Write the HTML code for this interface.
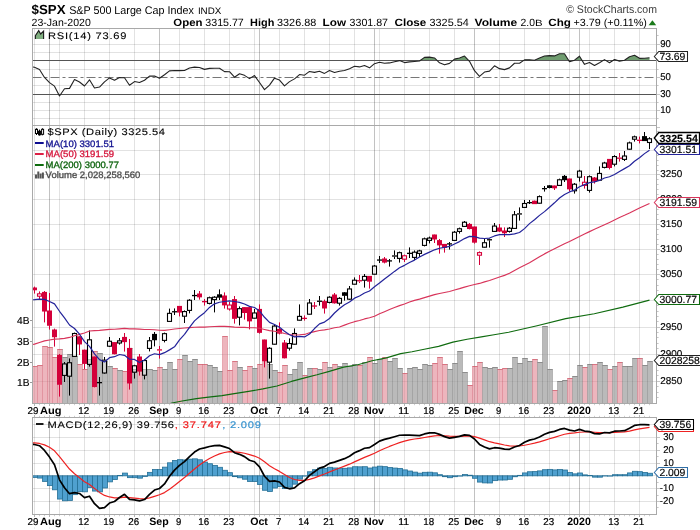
<!DOCTYPE html><html><head><meta charset="utf-8"><title>$SPX</title><style>html,body{margin:0;padding:0;background:#fff}svg{display:block;will-change:transform}text{font-family:"Liberation Sans", sans-serif;fill:#000;text-rendering:geometricPrecision}</style></head><body>
<svg width="700" height="530" viewBox="0 0 700 530">
<rect x="0" y="0" width="700" height="530" fill="#fff"/>
<line x1="34.5" y1="28.5" x2="34.5" y2="125.5" stroke="rgba(0,0,0,0.115)" stroke-width="1"/>
<line x1="49.5" y1="28.5" x2="49.5" y2="125.5" stroke="rgba(0,0,0,0.24)" stroke-width="1"/>
<line x1="59.5" y1="28.5" x2="59.5" y2="125.5" stroke="rgba(0,0,0,0.115)" stroke-width="1"/>
<line x1="84.5" y1="28.5" x2="84.5" y2="125.5" stroke="rgba(0,0,0,0.115)" stroke-width="1"/>
<line x1="109.5" y1="28.5" x2="109.5" y2="125.5" stroke="rgba(0,0,0,0.115)" stroke-width="1"/>
<line x1="134.5" y1="28.5" x2="134.5" y2="125.5" stroke="rgba(0,0,0,0.115)" stroke-width="1"/>
<line x1="159.5" y1="28.5" x2="159.5" y2="125.5" stroke="rgba(0,0,0,0.24)" stroke-width="1"/>
<line x1="179.5" y1="28.5" x2="179.5" y2="125.5" stroke="rgba(0,0,0,0.115)" stroke-width="1"/>
<line x1="204.5" y1="28.5" x2="204.5" y2="125.5" stroke="rgba(0,0,0,0.115)" stroke-width="1"/>
<line x1="229.5" y1="28.5" x2="229.5" y2="125.5" stroke="rgba(0,0,0,0.115)" stroke-width="1"/>
<line x1="254.5" y1="28.5" x2="254.5" y2="125.5" stroke="rgba(0,0,0,0.115)" stroke-width="1"/>
<line x1="259.5" y1="28.5" x2="259.5" y2="125.5" stroke="rgba(0,0,0,0.24)" stroke-width="1"/>
<line x1="279.5" y1="28.5" x2="279.5" y2="125.5" stroke="rgba(0,0,0,0.115)" stroke-width="1"/>
<line x1="304.5" y1="28.5" x2="304.5" y2="125.5" stroke="rgba(0,0,0,0.115)" stroke-width="1"/>
<line x1="329.5" y1="28.5" x2="329.5" y2="125.5" stroke="rgba(0,0,0,0.115)" stroke-width="1"/>
<line x1="354.5" y1="28.5" x2="354.5" y2="125.5" stroke="rgba(0,0,0,0.115)" stroke-width="1"/>
<line x1="374.5" y1="28.5" x2="374.5" y2="125.5" stroke="rgba(0,0,0,0.24)" stroke-width="1"/>
<line x1="379.5" y1="28.5" x2="379.5" y2="125.5" stroke="rgba(0,0,0,0.115)" stroke-width="1"/>
<line x1="404.5" y1="28.5" x2="404.5" y2="125.5" stroke="rgba(0,0,0,0.115)" stroke-width="1"/>
<line x1="429.5" y1="28.5" x2="429.5" y2="125.5" stroke="rgba(0,0,0,0.115)" stroke-width="1"/>
<line x1="454.5" y1="28.5" x2="454.5" y2="125.5" stroke="rgba(0,0,0,0.115)" stroke-width="1"/>
<line x1="474.5" y1="28.5" x2="474.5" y2="125.5" stroke="rgba(0,0,0,0.24)" stroke-width="1"/>
<line x1="499.5" y1="28.5" x2="499.5" y2="125.5" stroke="rgba(0,0,0,0.115)" stroke-width="1"/>
<line x1="524.5" y1="28.5" x2="524.5" y2="125.5" stroke="rgba(0,0,0,0.115)" stroke-width="1"/>
<line x1="549.5" y1="28.5" x2="549.5" y2="125.5" stroke="rgba(0,0,0,0.115)" stroke-width="1"/>
<line x1="569.5" y1="28.5" x2="569.5" y2="125.5" stroke="rgba(0,0,0,0.115)" stroke-width="1"/>
<line x1="579.5" y1="28.5" x2="579.5" y2="125.5" stroke="rgba(0,0,0,0.24)" stroke-width="1"/>
<line x1="589.5" y1="28.5" x2="589.5" y2="125.5" stroke="rgba(0,0,0,0.115)" stroke-width="1"/>
<line x1="614.5" y1="28.5" x2="614.5" y2="125.5" stroke="rgba(0,0,0,0.115)" stroke-width="1"/>
<line x1="639.5" y1="28.5" x2="639.5" y2="125.5" stroke="rgba(0,0,0,0.115)" stroke-width="1"/>
<line x1="32.5" y1="118.5" x2="656.5" y2="118.5" stroke="rgba(0,0,0,0.115)"/>
<line x1="32.5" y1="110.5" x2="656.5" y2="110.5" stroke="rgba(0,0,0,0.115)"/>
<line x1="32.5" y1="102.5" x2="656.5" y2="102.5" stroke="rgba(0,0,0,0.115)"/>
<line x1="32.5" y1="85.5" x2="656.5" y2="85.5" stroke="rgba(0,0,0,0.115)"/>
<line x1="32.5" y1="69.5" x2="656.5" y2="69.5" stroke="rgba(0,0,0,0.115)"/>
<line x1="32.5" y1="52.5" x2="656.5" y2="52.5" stroke="rgba(0,0,0,0.115)"/>
<line x1="32.5" y1="44.5" x2="656.5" y2="44.5" stroke="rgba(0,0,0,0.115)"/>
<polygon points="398.67,60.78 399.5,60.6 399.96,60.78" fill="#6f9c6f" stroke="none"/>
<polygon points="419.85,60.78 424.5,57.35 429.5,57.13 434.5,57.92 437.4,60.78" fill="#6f9c6f" stroke="none"/>
<polygon points="452.55,60.78 454.5,59.11 459.5,58.01 464.5,56.05 468.97,60.78" fill="#6f9c6f" stroke="none"/>
<polygon points="523.12,60.78 524.5,59.85 529.5,59.7 534.5,60.21 539.5,58.09 544.5,55.99 549.5,55.64 554.5,55.9 559.5,53.75 564.5,53.73 568.87,60.78" fill="#6f9c6f" stroke="none"/>
<polygon points="572.61,60.78 574.5,60.16 579.5,56.2 582.31,60.78" fill="#6f9c6f" stroke="none"/>
<polygon points="602.7,60.78 604.5,59.64 606.35,60.78" fill="#6f9c6f" stroke="none"/>
<polygon points="612.51,60.78 614.5,59.5 618.43,60.78" fill="#6f9c6f" stroke="none"/>
<polygon points="621.46,60.78 624.5,60.24 629.5,56.71 634.5,55.29 639.5,58.34 644.5,58.21 649.5,57.69 649.5,60.78" fill="#6f9c6f" stroke="none"/>
<line x1="32.5" y1="60.5" x2="656.5" y2="60.5" stroke="#555"/>
<line x1="32.5" y1="94.5" x2="656.5" y2="94.5" stroke="#555"/>
<line x1="32.5" y1="77.5" x2="656.5" y2="77.5" stroke="#777" stroke-dasharray="9,3,3,3"/>
<polyline fill="none" stroke="#222" stroke-width="1.1" stroke-linejoin="round" points="33,66.93 34.5,67.34 39.5,69.51 44.5,77.45 49.5,82.6 54.5,86.13 59.5,95.94 64.5,88.77 69.5,88.37 74.5,79.58 79.5,81.99 84.5,86.01 89.5,79.8 94.5,87.98 99.5,87.05 104.5,81.83 109.5,77.9 114.5,80.27 119.5,77.6 124.5,77.77 129.5,85.24 134.5,81.57 139.5,82.44 144.5,80.2 149.5,76.13 154.5,75.93 159.5,78.31 164.5,74.71 169.5,70.83 174.5,70.56 179.5,70.6 184.5,70.49 189.5,68.08 194.5,67.14 199.5,67.55 204.5,69.37 209.5,68.35 214.5,68.21 219.5,68.2 224.5,71.61 229.5,71.68 234.5,77.24 239.5,73.77 244.5,75.34 249.5,78.63 254.5,75.59 259.5,82.45 264.5,89.68 269.5,85.12 274.5,78.17 279.5,80.06 284.5,85.82 289.5,81.64 294.5,78.88 299.5,74.57 304.5,75.18 309.5,71.43 314.5,72.4 319.5,71.32 324.5,73.39 329.5,70.57 334.5,72.54 339.5,71.31 344.5,70.46 349.5,68.66 354.5,66.32 359.5,66.92 364.5,65.5 369.5,67.85 374.5,63.66 379.5,62.22 384.5,63.22 389.5,62.91 394.5,61.71 399.5,60.6 404.5,62.61 409.5,61.84 414.5,61.48 419.5,61.04 424.5,57.35 429.5,57.13 434.5,57.92 439.5,62.85 444.5,64.83 449.5,63.4 454.5,59.11 459.5,58.01 464.5,56.05 469.5,61.34 474.5,70.71 479.5,76.4 484.5,72.06 489.5,71.09 494.5,65.81 499.5,68.65 504.5,69.64 509.5,67.86 514.5,63.25 519.5,63.22 524.5,59.85 529.5,59.7 534.5,60.21 539.5,58.09 544.5,55.99 549.5,55.64 554.5,55.9 559.5,53.75 564.5,53.73 569.5,61.8 574.5,60.16 579.5,56.2 584.5,64.34 589.5,62.49 594.5,65.47 599.5,62.8 604.5,59.64 609.5,62.71 614.5,59.5 619.5,61.13 624.5,60.24 629.5,56.71 634.5,55.29 639.5,58.34 644.5,58.21 649.5,57.69"/>
<line x1="34.5" y1="125.5" x2="34.5" y2="403.5" stroke="rgba(0,0,0,0.115)" stroke-width="1"/>
<line x1="49.5" y1="125.5" x2="49.5" y2="403.5" stroke="rgba(0,0,0,0.24)" stroke-width="1"/>
<line x1="59.5" y1="125.5" x2="59.5" y2="403.5" stroke="rgba(0,0,0,0.115)" stroke-width="1"/>
<line x1="84.5" y1="125.5" x2="84.5" y2="403.5" stroke="rgba(0,0,0,0.115)" stroke-width="1"/>
<line x1="109.5" y1="125.5" x2="109.5" y2="403.5" stroke="rgba(0,0,0,0.115)" stroke-width="1"/>
<line x1="134.5" y1="125.5" x2="134.5" y2="403.5" stroke="rgba(0,0,0,0.115)" stroke-width="1"/>
<line x1="159.5" y1="125.5" x2="159.5" y2="403.5" stroke="rgba(0,0,0,0.24)" stroke-width="1"/>
<line x1="179.5" y1="125.5" x2="179.5" y2="403.5" stroke="rgba(0,0,0,0.115)" stroke-width="1"/>
<line x1="204.5" y1="125.5" x2="204.5" y2="403.5" stroke="rgba(0,0,0,0.115)" stroke-width="1"/>
<line x1="229.5" y1="125.5" x2="229.5" y2="403.5" stroke="rgba(0,0,0,0.115)" stroke-width="1"/>
<line x1="254.5" y1="125.5" x2="254.5" y2="403.5" stroke="rgba(0,0,0,0.115)" stroke-width="1"/>
<line x1="259.5" y1="125.5" x2="259.5" y2="403.5" stroke="rgba(0,0,0,0.24)" stroke-width="1"/>
<line x1="279.5" y1="125.5" x2="279.5" y2="403.5" stroke="rgba(0,0,0,0.115)" stroke-width="1"/>
<line x1="304.5" y1="125.5" x2="304.5" y2="403.5" stroke="rgba(0,0,0,0.115)" stroke-width="1"/>
<line x1="329.5" y1="125.5" x2="329.5" y2="403.5" stroke="rgba(0,0,0,0.115)" stroke-width="1"/>
<line x1="354.5" y1="125.5" x2="354.5" y2="403.5" stroke="rgba(0,0,0,0.115)" stroke-width="1"/>
<line x1="374.5" y1="125.5" x2="374.5" y2="403.5" stroke="rgba(0,0,0,0.24)" stroke-width="1"/>
<line x1="379.5" y1="125.5" x2="379.5" y2="403.5" stroke="rgba(0,0,0,0.115)" stroke-width="1"/>
<line x1="404.5" y1="125.5" x2="404.5" y2="403.5" stroke="rgba(0,0,0,0.115)" stroke-width="1"/>
<line x1="429.5" y1="125.5" x2="429.5" y2="403.5" stroke="rgba(0,0,0,0.115)" stroke-width="1"/>
<line x1="454.5" y1="125.5" x2="454.5" y2="403.5" stroke="rgba(0,0,0,0.115)" stroke-width="1"/>
<line x1="474.5" y1="125.5" x2="474.5" y2="403.5" stroke="rgba(0,0,0,0.24)" stroke-width="1"/>
<line x1="499.5" y1="125.5" x2="499.5" y2="403.5" stroke="rgba(0,0,0,0.115)" stroke-width="1"/>
<line x1="524.5" y1="125.5" x2="524.5" y2="403.5" stroke="rgba(0,0,0,0.115)" stroke-width="1"/>
<line x1="549.5" y1="125.5" x2="549.5" y2="403.5" stroke="rgba(0,0,0,0.115)" stroke-width="1"/>
<line x1="569.5" y1="125.5" x2="569.5" y2="403.5" stroke="rgba(0,0,0,0.115)" stroke-width="1"/>
<line x1="579.5" y1="125.5" x2="579.5" y2="403.5" stroke="rgba(0,0,0,0.24)" stroke-width="1"/>
<line x1="589.5" y1="125.5" x2="589.5" y2="403.5" stroke="rgba(0,0,0,0.115)" stroke-width="1"/>
<line x1="614.5" y1="125.5" x2="614.5" y2="403.5" stroke="rgba(0,0,0,0.115)" stroke-width="1"/>
<line x1="639.5" y1="125.5" x2="639.5" y2="403.5" stroke="rgba(0,0,0,0.115)" stroke-width="1"/>
<line x1="32.5" y1="150.5" x2="656.5" y2="150.5" stroke="rgba(0,0,0,0.115)"/>
<line x1="32.5" y1="174.5" x2="656.5" y2="174.5" stroke="rgba(0,0,0,0.115)"/>
<line x1="32.5" y1="199.5" x2="656.5" y2="199.5" stroke="rgba(0,0,0,0.115)"/>
<line x1="32.5" y1="224.5" x2="656.5" y2="224.5" stroke="rgba(0,0,0,0.115)"/>
<line x1="32.5" y1="249.5" x2="656.5" y2="249.5" stroke="rgba(0,0,0,0.115)"/>
<line x1="32.5" y1="274.5" x2="656.5" y2="274.5" stroke="rgba(0,0,0,0.115)"/>
<line x1="32.5" y1="300.5" x2="656.5" y2="300.5" stroke="rgba(0,0,0,0.115)"/>
<line x1="32.5" y1="327.5" x2="656.5" y2="327.5" stroke="rgba(0,0,0,0.115)"/>
<line x1="32.5" y1="354.5" x2="656.5" y2="354.5" stroke="rgba(0,0,0,0.115)"/>
<line x1="32.5" y1="381.5" x2="656.5" y2="381.5" stroke="rgba(0,0,0,0.115)"/>
<rect x="32.5" y="366" width="5" height="37.5" fill="rgba(222,120,135,0.55)"/>
<rect x="37.5" y="365" width="5" height="38.5" fill="rgba(222,120,135,0.55)"/>
<rect x="42.5" y="346" width="5" height="57.5" fill="rgba(222,120,135,0.55)"/>
<rect x="47.5" y="347" width="5" height="56.5" fill="rgba(222,120,135,0.55)"/>
<rect x="52.5" y="357" width="5" height="46.5" fill="rgba(222,120,135,0.55)"/>
<rect x="57.5" y="349" width="5" height="54.5" fill="rgba(222,120,135,0.55)"/>
<rect x="62.5" y="357" width="5" height="46.5" fill="rgba(160,160,160,0.72)"/>
<rect x="67.5" y="354" width="5" height="49.5" fill="rgba(160,160,160,0.72)"/>
<rect x="72.5" y="356" width="5" height="47.5" fill="rgba(160,160,160,0.72)"/>
<rect x="77.5" y="364" width="5" height="39.5" fill="rgba(222,120,135,0.55)"/>
<rect x="82.5" y="369" width="5" height="34.5" fill="rgba(222,120,135,0.55)"/>
<rect x="87.5" y="359" width="5" height="44.5" fill="rgba(160,160,160,0.72)"/>
<rect x="92.5" y="351" width="5" height="52.5" fill="rgba(222,120,135,0.55)"/>
<rect x="97.5" y="353" width="5" height="50.5" fill="rgba(160,160,160,0.72)"/>
<rect x="102.5" y="361" width="5" height="42.5" fill="rgba(160,160,160,0.72)"/>
<rect x="107.5" y="366" width="5" height="37.5" fill="rgba(160,160,160,0.72)"/>
<rect x="112.5" y="368" width="5" height="35.5" fill="rgba(222,120,135,0.55)"/>
<rect x="117.5" y="370" width="5" height="33.5" fill="rgba(160,160,160,0.72)"/>
<rect x="122.5" y="371" width="5" height="32.5" fill="rgba(222,120,135,0.55)"/>
<rect x="127.5" y="348" width="5" height="55.5" fill="rgba(222,120,135,0.55)"/>
<rect x="132.5" y="369" width="5" height="34.5" fill="rgba(160,160,160,0.72)"/>
<rect x="137.5" y="371" width="5" height="32.5" fill="rgba(222,120,135,0.55)"/>
<rect x="142.5" y="369" width="5" height="34.5" fill="rgba(160,160,160,0.72)"/>
<rect x="147.5" y="369" width="5" height="34.5" fill="rgba(160,160,160,0.72)"/>
<rect x="152.5" y="370" width="5" height="33.5" fill="rgba(160,160,160,0.72)"/>
<rect x="157.5" y="367" width="5" height="36.5" fill="rgba(222,120,135,0.55)"/>
<rect x="162.5" y="369" width="5" height="34.5" fill="rgba(160,160,160,0.72)"/>
<rect x="167.5" y="362" width="5" height="41.5" fill="rgba(160,160,160,0.72)"/>
<rect x="172.5" y="369" width="5" height="34.5" fill="rgba(160,160,160,0.72)"/>
<rect x="177.5" y="359" width="5" height="44.5" fill="rgba(222,120,135,0.55)"/>
<rect x="182.5" y="355" width="5" height="48.5" fill="rgba(160,160,160,0.72)"/>
<rect x="187.5" y="361" width="5" height="42.5" fill="rgba(160,160,160,0.72)"/>
<rect x="192.5" y="359" width="5" height="44.5" fill="rgba(160,160,160,0.72)"/>
<rect x="197.5" y="364" width="5" height="39.5" fill="rgba(222,120,135,0.55)"/>
<rect x="202.5" y="364" width="5" height="39.5" fill="rgba(222,120,135,0.55)"/>
<rect x="207.5" y="365" width="5" height="38.5" fill="rgba(160,160,160,0.72)"/>
<rect x="212.5" y="367" width="5" height="36.5" fill="rgba(160,160,160,0.72)"/>
<rect x="217.5" y="371" width="5" height="32.5" fill="rgba(160,160,160,0.72)"/>
<rect x="222.5" y="336" width="5" height="67.5" fill="rgba(222,120,135,0.55)"/>
<rect x="227.5" y="370" width="5" height="33.5" fill="rgba(222,120,135,0.55)"/>
<rect x="232.5" y="361" width="5" height="42.5" fill="rgba(222,120,135,0.55)"/>
<rect x="237.5" y="367" width="5" height="36.5" fill="rgba(160,160,160,0.72)"/>
<rect x="242.5" y="370" width="5" height="33.5" fill="rgba(222,120,135,0.55)"/>
<rect x="247.5" y="366" width="5" height="37.5" fill="rgba(222,120,135,0.55)"/>
<rect x="252.5" y="368" width="5" height="35.5" fill="rgba(160,160,160,0.72)"/>
<rect x="257.5" y="364" width="5" height="39.5" fill="rgba(222,120,135,0.55)"/>
<rect x="262.5" y="360" width="5" height="43.5" fill="rgba(222,120,135,0.55)"/>
<rect x="267.5" y="364" width="5" height="39.5" fill="rgba(160,160,160,0.72)"/>
<rect x="272.5" y="370" width="5" height="33.5" fill="rgba(160,160,160,0.72)"/>
<rect x="277.5" y="372" width="5" height="31.5" fill="rgba(222,120,135,0.55)"/>
<rect x="282.5" y="365" width="5" height="38.5" fill="rgba(222,120,135,0.55)"/>
<rect x="287.5" y="374" width="5" height="29.5" fill="rgba(160,160,160,0.72)"/>
<rect x="292.5" y="369" width="5" height="34.5" fill="rgba(160,160,160,0.72)"/>
<rect x="297.5" y="362" width="5" height="41.5" fill="rgba(160,160,160,0.72)"/>
<rect x="302.5" y="375" width="5" height="28.5" fill="rgba(222,120,135,0.55)"/>
<rect x="307.5" y="368" width="5" height="35.5" fill="rgba(160,160,160,0.72)"/>
<rect x="312.5" y="368" width="5" height="35.5" fill="rgba(222,120,135,0.55)"/>
<rect x="317.5" y="369" width="5" height="34.5" fill="rgba(160,160,160,0.72)"/>
<rect x="322.5" y="362" width="5" height="41.5" fill="rgba(222,120,135,0.55)"/>
<rect x="327.5" y="367" width="5" height="36.5" fill="rgba(160,160,160,0.72)"/>
<rect x="332.5" y="364" width="5" height="39.5" fill="rgba(222,120,135,0.55)"/>
<rect x="337.5" y="366" width="5" height="37.5" fill="rgba(160,160,160,0.72)"/>
<rect x="342.5" y="363" width="5" height="40.5" fill="rgba(160,160,160,0.72)"/>
<rect x="347.5" y="366" width="5" height="37.5" fill="rgba(160,160,160,0.72)"/>
<rect x="352.5" y="364" width="5" height="39.5" fill="rgba(160,160,160,0.72)"/>
<rect x="357.5" y="365" width="5" height="38.5" fill="rgba(222,120,135,0.55)"/>
<rect x="362.5" y="362" width="5" height="41.5" fill="rgba(160,160,160,0.72)"/>
<rect x="367.5" y="357" width="5" height="46.5" fill="rgba(222,120,135,0.55)"/>
<rect x="372.5" y="363" width="5" height="40.5" fill="rgba(160,160,160,0.72)"/>
<rect x="377.5" y="359" width="5" height="44.5" fill="rgba(160,160,160,0.72)"/>
<rect x="382.5" y="357" width="5" height="46.5" fill="rgba(222,120,135,0.55)"/>
<rect x="387.5" y="361" width="5" height="42.5" fill="rgba(160,160,160,0.72)"/>
<rect x="392.5" y="358" width="5" height="45.5" fill="rgba(160,160,160,0.72)"/>
<rect x="397.5" y="368" width="5" height="35.5" fill="rgba(160,160,160,0.72)"/>
<rect x="402.5" y="373" width="5" height="30.5" fill="rgba(222,120,135,0.55)"/>
<rect x="407.5" y="368" width="5" height="35.5" fill="rgba(160,160,160,0.72)"/>
<rect x="412.5" y="367" width="5" height="36.5" fill="rgba(160,160,160,0.72)"/>
<rect x="417.5" y="369" width="5" height="34.5" fill="rgba(160,160,160,0.72)"/>
<rect x="422.5" y="364" width="5" height="39.5" fill="rgba(160,160,160,0.72)"/>
<rect x="427.5" y="365" width="5" height="38.5" fill="rgba(160,160,160,0.72)"/>
<rect x="432.5" y="363" width="5" height="40.5" fill="rgba(222,120,135,0.55)"/>
<rect x="437.5" y="357" width="5" height="46.5" fill="rgba(222,120,135,0.55)"/>
<rect x="442.5" y="364" width="5" height="39.5" fill="rgba(222,120,135,0.55)"/>
<rect x="447.5" y="369" width="5" height="34.5" fill="rgba(160,160,160,0.72)"/>
<rect x="452.5" y="363" width="5" height="40.5" fill="rgba(160,160,160,0.72)"/>
<rect x="457.5" y="351" width="5" height="52.5" fill="rgba(160,160,160,0.72)"/>
<rect x="462.5" y="372" width="5" height="31.5" fill="rgba(160,160,160,0.72)"/>
<rect x="467.5" y="385" width="5" height="18.5" fill="rgba(222,120,135,0.55)"/>
<rect x="472.5" y="366" width="5" height="37.5" fill="rgba(222,120,135,0.55)"/>
<rect x="477.5" y="362" width="5" height="41.5" fill="rgba(222,120,135,0.55)"/>
<rect x="482.5" y="367" width="5" height="36.5" fill="rgba(160,160,160,0.72)"/>
<rect x="487.5" y="368" width="5" height="35.5" fill="rgba(160,160,160,0.72)"/>
<rect x="492.5" y="367" width="5" height="36.5" fill="rgba(160,160,160,0.72)"/>
<rect x="497.5" y="369" width="5" height="34.5" fill="rgba(222,120,135,0.55)"/>
<rect x="502.5" y="368" width="5" height="35.5" fill="rgba(222,120,135,0.55)"/>
<rect x="507.5" y="368" width="5" height="35.5" fill="rgba(160,160,160,0.72)"/>
<rect x="512.5" y="357" width="5" height="46.5" fill="rgba(160,160,160,0.72)"/>
<rect x="517.5" y="363" width="5" height="40.5" fill="rgba(160,160,160,0.72)"/>
<rect x="522.5" y="358" width="5" height="45.5" fill="rgba(160,160,160,0.72)"/>
<rect x="527.5" y="361" width="5" height="42.5" fill="rgba(160,160,160,0.72)"/>
<rect x="532.5" y="359" width="5" height="44.5" fill="rgba(222,120,135,0.55)"/>
<rect x="537.5" y="362" width="5" height="41.5" fill="rgba(160,160,160,0.72)"/>
<rect x="542.5" y="326" width="5" height="77.5" fill="rgba(160,160,160,0.72)"/>
<rect x="547.5" y="369" width="5" height="34.5" fill="rgba(160,160,160,0.72)"/>
<rect x="552.5" y="390" width="5" height="13.5" fill="rgba(222,120,135,0.55)"/>
<rect x="557.5" y="381" width="5" height="22.5" fill="rgba(160,160,160,0.72)"/>
<rect x="562.5" y="380" width="5" height="23.5" fill="rgba(160,160,160,0.72)"/>
<rect x="567.5" y="378" width="5" height="25.5" fill="rgba(222,120,135,0.55)"/>
<rect x="572.5" y="376" width="5" height="27.5" fill="rgba(160,160,160,0.72)"/>
<rect x="577.5" y="365" width="5" height="38.5" fill="rgba(160,160,160,0.72)"/>
<rect x="582.5" y="367" width="5" height="36.5" fill="rgba(222,120,135,0.55)"/>
<rect x="587.5" y="364" width="5" height="39.5" fill="rgba(160,160,160,0.72)"/>
<rect x="592.5" y="364" width="5" height="39.5" fill="rgba(222,120,135,0.55)"/>
<rect x="597.5" y="362" width="5" height="41.5" fill="rgba(160,160,160,0.72)"/>
<rect x="602.5" y="365" width="5" height="38.5" fill="rgba(160,160,160,0.72)"/>
<rect x="607.5" y="369" width="5" height="34.5" fill="rgba(222,120,135,0.55)"/>
<rect x="612.5" y="366" width="5" height="37.5" fill="rgba(160,160,160,0.72)"/>
<rect x="617.5" y="362" width="5" height="41.5" fill="rgba(222,120,135,0.55)"/>
<rect x="622.5" y="366" width="5" height="37.5" fill="rgba(160,160,160,0.72)"/>
<rect x="627.5" y="366" width="5" height="37.5" fill="rgba(160,160,160,0.72)"/>
<rect x="632.5" y="358" width="5" height="45.5" fill="rgba(160,160,160,0.72)"/>
<rect x="637.5" y="358" width="5" height="45.5" fill="rgba(222,120,135,0.55)"/>
<rect x="642.5" y="365" width="5" height="38.5" fill="rgba(160,160,160,0.72)"/>
<rect x="647.5" y="361" width="5" height="42.5" fill="rgba(160,160,160,0.72)"/>
<line x1="32.5" y1="366.5" x2="37.5" y2="366.5" stroke="rgba(200,60,80,0.55)"/>
<line x1="32.5" y1="366" x2="32.5" y2="403.5" stroke="rgba(200,60,80,0.32)"/>
<line x1="37.5" y1="365.5" x2="42.5" y2="365.5" stroke="rgba(200,60,80,0.55)"/>
<line x1="37.5" y1="365" x2="37.5" y2="403.5" stroke="rgba(200,60,80,0.32)"/>
<line x1="42.5" y1="346.5" x2="47.5" y2="346.5" stroke="rgba(200,60,80,0.55)"/>
<line x1="42.5" y1="346" x2="42.5" y2="403.5" stroke="rgba(200,60,80,0.32)"/>
<line x1="47.5" y1="347.5" x2="52.5" y2="347.5" stroke="rgba(200,60,80,0.55)"/>
<line x1="47.5" y1="346" x2="47.5" y2="403.5" stroke="rgba(200,60,80,0.32)"/>
<line x1="52.5" y1="357.5" x2="57.5" y2="357.5" stroke="rgba(200,60,80,0.55)"/>
<line x1="52.5" y1="347" x2="52.5" y2="403.5" stroke="rgba(200,60,80,0.32)"/>
<line x1="57.5" y1="349.5" x2="62.5" y2="349.5" stroke="rgba(200,60,80,0.55)"/>
<line x1="57.5" y1="349" x2="57.5" y2="403.5" stroke="rgba(200,60,80,0.32)"/>
<line x1="62.5" y1="357.5" x2="67.5" y2="357.5" stroke="rgba(95,95,95,0.5)"/>
<line x1="62.5" y1="349" x2="62.5" y2="403.5" stroke="rgba(95,95,95,0.32)"/>
<line x1="67.5" y1="354.5" x2="72.5" y2="354.5" stroke="rgba(95,95,95,0.5)"/>
<line x1="67.5" y1="354" x2="67.5" y2="403.5" stroke="rgba(95,95,95,0.32)"/>
<line x1="72.5" y1="356.5" x2="77.5" y2="356.5" stroke="rgba(95,95,95,0.5)"/>
<line x1="72.5" y1="354" x2="72.5" y2="403.5" stroke="rgba(95,95,95,0.32)"/>
<line x1="77.5" y1="364.5" x2="82.5" y2="364.5" stroke="rgba(200,60,80,0.55)"/>
<line x1="77.5" y1="356" x2="77.5" y2="403.5" stroke="rgba(95,95,95,0.32)"/>
<line x1="82.5" y1="369.5" x2="87.5" y2="369.5" stroke="rgba(200,60,80,0.55)"/>
<line x1="82.5" y1="364" x2="82.5" y2="403.5" stroke="rgba(200,60,80,0.32)"/>
<line x1="87.5" y1="359.5" x2="92.5" y2="359.5" stroke="rgba(95,95,95,0.5)"/>
<line x1="87.5" y1="359" x2="87.5" y2="403.5" stroke="rgba(95,95,95,0.32)"/>
<line x1="92.5" y1="351.5" x2="97.5" y2="351.5" stroke="rgba(200,60,80,0.55)"/>
<line x1="92.5" y1="351" x2="92.5" y2="403.5" stroke="rgba(200,60,80,0.32)"/>
<line x1="97.5" y1="353.5" x2="102.5" y2="353.5" stroke="rgba(95,95,95,0.5)"/>
<line x1="97.5" y1="351" x2="97.5" y2="403.5" stroke="rgba(95,95,95,0.32)"/>
<line x1="102.5" y1="361.5" x2="107.5" y2="361.5" stroke="rgba(95,95,95,0.5)"/>
<line x1="102.5" y1="353" x2="102.5" y2="403.5" stroke="rgba(95,95,95,0.32)"/>
<line x1="107.5" y1="366.5" x2="112.5" y2="366.5" stroke="rgba(95,95,95,0.5)"/>
<line x1="107.5" y1="361" x2="107.5" y2="403.5" stroke="rgba(95,95,95,0.32)"/>
<line x1="112.5" y1="368.5" x2="117.5" y2="368.5" stroke="rgba(200,60,80,0.55)"/>
<line x1="112.5" y1="366" x2="112.5" y2="403.5" stroke="rgba(95,95,95,0.32)"/>
<line x1="117.5" y1="370.5" x2="122.5" y2="370.5" stroke="rgba(95,95,95,0.5)"/>
<line x1="117.5" y1="368" x2="117.5" y2="403.5" stroke="rgba(95,95,95,0.32)"/>
<line x1="122.5" y1="371.5" x2="127.5" y2="371.5" stroke="rgba(200,60,80,0.55)"/>
<line x1="122.5" y1="370" x2="122.5" y2="403.5" stroke="rgba(95,95,95,0.32)"/>
<line x1="127.5" y1="348.5" x2="132.5" y2="348.5" stroke="rgba(200,60,80,0.55)"/>
<line x1="127.5" y1="348" x2="127.5" y2="403.5" stroke="rgba(200,60,80,0.32)"/>
<line x1="132.5" y1="369.5" x2="137.5" y2="369.5" stroke="rgba(95,95,95,0.5)"/>
<line x1="132.5" y1="348" x2="132.5" y2="403.5" stroke="rgba(95,95,95,0.32)"/>
<line x1="137.5" y1="371.5" x2="142.5" y2="371.5" stroke="rgba(200,60,80,0.55)"/>
<line x1="137.5" y1="369" x2="137.5" y2="403.5" stroke="rgba(95,95,95,0.32)"/>
<line x1="142.5" y1="369.5" x2="147.5" y2="369.5" stroke="rgba(95,95,95,0.5)"/>
<line x1="142.5" y1="369" x2="142.5" y2="403.5" stroke="rgba(95,95,95,0.32)"/>
<line x1="147.5" y1="369.5" x2="152.5" y2="369.5" stroke="rgba(95,95,95,0.5)"/>
<line x1="147.5" y1="369" x2="147.5" y2="403.5" stroke="rgba(95,95,95,0.32)"/>
<line x1="152.5" y1="370.5" x2="157.5" y2="370.5" stroke="rgba(95,95,95,0.5)"/>
<line x1="152.5" y1="369" x2="152.5" y2="403.5" stroke="rgba(95,95,95,0.32)"/>
<line x1="157.5" y1="367.5" x2="162.5" y2="367.5" stroke="rgba(200,60,80,0.55)"/>
<line x1="157.5" y1="367" x2="157.5" y2="403.5" stroke="rgba(200,60,80,0.32)"/>
<line x1="162.5" y1="369.5" x2="167.5" y2="369.5" stroke="rgba(95,95,95,0.5)"/>
<line x1="162.5" y1="367" x2="162.5" y2="403.5" stroke="rgba(95,95,95,0.32)"/>
<line x1="167.5" y1="362.5" x2="172.5" y2="362.5" stroke="rgba(95,95,95,0.5)"/>
<line x1="167.5" y1="362" x2="167.5" y2="403.5" stroke="rgba(95,95,95,0.32)"/>
<line x1="172.5" y1="369.5" x2="177.5" y2="369.5" stroke="rgba(95,95,95,0.5)"/>
<line x1="172.5" y1="362" x2="172.5" y2="403.5" stroke="rgba(95,95,95,0.32)"/>
<line x1="177.5" y1="359.5" x2="182.5" y2="359.5" stroke="rgba(200,60,80,0.55)"/>
<line x1="177.5" y1="359" x2="177.5" y2="403.5" stroke="rgba(200,60,80,0.32)"/>
<line x1="182.5" y1="355.5" x2="187.5" y2="355.5" stroke="rgba(95,95,95,0.5)"/>
<line x1="182.5" y1="355" x2="182.5" y2="403.5" stroke="rgba(95,95,95,0.32)"/>
<line x1="187.5" y1="361.5" x2="192.5" y2="361.5" stroke="rgba(95,95,95,0.5)"/>
<line x1="187.5" y1="355" x2="187.5" y2="403.5" stroke="rgba(95,95,95,0.32)"/>
<line x1="192.5" y1="359.5" x2="197.5" y2="359.5" stroke="rgba(95,95,95,0.5)"/>
<line x1="192.5" y1="359" x2="192.5" y2="403.5" stroke="rgba(95,95,95,0.32)"/>
<line x1="197.5" y1="364.5" x2="202.5" y2="364.5" stroke="rgba(200,60,80,0.55)"/>
<line x1="197.5" y1="359" x2="197.5" y2="403.5" stroke="rgba(95,95,95,0.32)"/>
<line x1="202.5" y1="364.5" x2="207.5" y2="364.5" stroke="rgba(200,60,80,0.55)"/>
<line x1="202.5" y1="364" x2="202.5" y2="403.5" stroke="rgba(200,60,80,0.32)"/>
<line x1="207.5" y1="365.5" x2="212.5" y2="365.5" stroke="rgba(95,95,95,0.5)"/>
<line x1="207.5" y1="364" x2="207.5" y2="403.5" stroke="rgba(95,95,95,0.32)"/>
<line x1="212.5" y1="367.5" x2="217.5" y2="367.5" stroke="rgba(95,95,95,0.5)"/>
<line x1="212.5" y1="365" x2="212.5" y2="403.5" stroke="rgba(95,95,95,0.32)"/>
<line x1="217.5" y1="371.5" x2="222.5" y2="371.5" stroke="rgba(95,95,95,0.5)"/>
<line x1="217.5" y1="367" x2="217.5" y2="403.5" stroke="rgba(95,95,95,0.32)"/>
<line x1="222.5" y1="336.5" x2="227.5" y2="336.5" stroke="rgba(200,60,80,0.55)"/>
<line x1="222.5" y1="336" x2="222.5" y2="403.5" stroke="rgba(200,60,80,0.32)"/>
<line x1="227.5" y1="370.5" x2="232.5" y2="370.5" stroke="rgba(200,60,80,0.55)"/>
<line x1="227.5" y1="336" x2="227.5" y2="403.5" stroke="rgba(200,60,80,0.32)"/>
<line x1="232.5" y1="361.5" x2="237.5" y2="361.5" stroke="rgba(200,60,80,0.55)"/>
<line x1="232.5" y1="361" x2="232.5" y2="403.5" stroke="rgba(200,60,80,0.32)"/>
<line x1="237.5" y1="367.5" x2="242.5" y2="367.5" stroke="rgba(95,95,95,0.5)"/>
<line x1="237.5" y1="361" x2="237.5" y2="403.5" stroke="rgba(95,95,95,0.32)"/>
<line x1="242.5" y1="370.5" x2="247.5" y2="370.5" stroke="rgba(200,60,80,0.55)"/>
<line x1="242.5" y1="367" x2="242.5" y2="403.5" stroke="rgba(95,95,95,0.32)"/>
<line x1="247.5" y1="366.5" x2="252.5" y2="366.5" stroke="rgba(200,60,80,0.55)"/>
<line x1="247.5" y1="366" x2="247.5" y2="403.5" stroke="rgba(200,60,80,0.32)"/>
<line x1="252.5" y1="368.5" x2="257.5" y2="368.5" stroke="rgba(95,95,95,0.5)"/>
<line x1="252.5" y1="366" x2="252.5" y2="403.5" stroke="rgba(95,95,95,0.32)"/>
<line x1="257.5" y1="364.5" x2="262.5" y2="364.5" stroke="rgba(200,60,80,0.55)"/>
<line x1="257.5" y1="364" x2="257.5" y2="403.5" stroke="rgba(200,60,80,0.32)"/>
<line x1="262.5" y1="360.5" x2="267.5" y2="360.5" stroke="rgba(200,60,80,0.55)"/>
<line x1="262.5" y1="360" x2="262.5" y2="403.5" stroke="rgba(200,60,80,0.32)"/>
<line x1="267.5" y1="364.5" x2="272.5" y2="364.5" stroke="rgba(95,95,95,0.5)"/>
<line x1="267.5" y1="360" x2="267.5" y2="403.5" stroke="rgba(95,95,95,0.32)"/>
<line x1="272.5" y1="370.5" x2="277.5" y2="370.5" stroke="rgba(95,95,95,0.5)"/>
<line x1="272.5" y1="364" x2="272.5" y2="403.5" stroke="rgba(95,95,95,0.32)"/>
<line x1="277.5" y1="372.5" x2="282.5" y2="372.5" stroke="rgba(200,60,80,0.55)"/>
<line x1="277.5" y1="370" x2="277.5" y2="403.5" stroke="rgba(95,95,95,0.32)"/>
<line x1="282.5" y1="365.5" x2="287.5" y2="365.5" stroke="rgba(200,60,80,0.55)"/>
<line x1="282.5" y1="365" x2="282.5" y2="403.5" stroke="rgba(200,60,80,0.32)"/>
<line x1="287.5" y1="374.5" x2="292.5" y2="374.5" stroke="rgba(95,95,95,0.5)"/>
<line x1="287.5" y1="365" x2="287.5" y2="403.5" stroke="rgba(95,95,95,0.32)"/>
<line x1="292.5" y1="369.5" x2="297.5" y2="369.5" stroke="rgba(95,95,95,0.5)"/>
<line x1="292.5" y1="369" x2="292.5" y2="403.5" stroke="rgba(95,95,95,0.32)"/>
<line x1="297.5" y1="362.5" x2="302.5" y2="362.5" stroke="rgba(95,95,95,0.5)"/>
<line x1="297.5" y1="362" x2="297.5" y2="403.5" stroke="rgba(95,95,95,0.32)"/>
<line x1="302.5" y1="375.5" x2="307.5" y2="375.5" stroke="rgba(200,60,80,0.55)"/>
<line x1="302.5" y1="362" x2="302.5" y2="403.5" stroke="rgba(95,95,95,0.32)"/>
<line x1="307.5" y1="368.5" x2="312.5" y2="368.5" stroke="rgba(95,95,95,0.5)"/>
<line x1="307.5" y1="368" x2="307.5" y2="403.5" stroke="rgba(95,95,95,0.32)"/>
<line x1="312.5" y1="368.5" x2="317.5" y2="368.5" stroke="rgba(200,60,80,0.55)"/>
<line x1="312.5" y1="368" x2="312.5" y2="403.5" stroke="rgba(200,60,80,0.32)"/>
<line x1="317.5" y1="369.5" x2="322.5" y2="369.5" stroke="rgba(95,95,95,0.5)"/>
<line x1="317.5" y1="368" x2="317.5" y2="403.5" stroke="rgba(95,95,95,0.32)"/>
<line x1="322.5" y1="362.5" x2="327.5" y2="362.5" stroke="rgba(200,60,80,0.55)"/>
<line x1="322.5" y1="362" x2="322.5" y2="403.5" stroke="rgba(200,60,80,0.32)"/>
<line x1="327.5" y1="367.5" x2="332.5" y2="367.5" stroke="rgba(95,95,95,0.5)"/>
<line x1="327.5" y1="362" x2="327.5" y2="403.5" stroke="rgba(95,95,95,0.32)"/>
<line x1="332.5" y1="364.5" x2="337.5" y2="364.5" stroke="rgba(200,60,80,0.55)"/>
<line x1="332.5" y1="364" x2="332.5" y2="403.5" stroke="rgba(200,60,80,0.32)"/>
<line x1="337.5" y1="366.5" x2="342.5" y2="366.5" stroke="rgba(95,95,95,0.5)"/>
<line x1="337.5" y1="364" x2="337.5" y2="403.5" stroke="rgba(95,95,95,0.32)"/>
<line x1="342.5" y1="363.5" x2="347.5" y2="363.5" stroke="rgba(95,95,95,0.5)"/>
<line x1="342.5" y1="363" x2="342.5" y2="403.5" stroke="rgba(95,95,95,0.32)"/>
<line x1="347.5" y1="366.5" x2="352.5" y2="366.5" stroke="rgba(95,95,95,0.5)"/>
<line x1="347.5" y1="363" x2="347.5" y2="403.5" stroke="rgba(95,95,95,0.32)"/>
<line x1="352.5" y1="364.5" x2="357.5" y2="364.5" stroke="rgba(95,95,95,0.5)"/>
<line x1="352.5" y1="364" x2="352.5" y2="403.5" stroke="rgba(95,95,95,0.32)"/>
<line x1="357.5" y1="365.5" x2="362.5" y2="365.5" stroke="rgba(200,60,80,0.55)"/>
<line x1="357.5" y1="364" x2="357.5" y2="403.5" stroke="rgba(95,95,95,0.32)"/>
<line x1="362.5" y1="362.5" x2="367.5" y2="362.5" stroke="rgba(95,95,95,0.5)"/>
<line x1="362.5" y1="362" x2="362.5" y2="403.5" stroke="rgba(95,95,95,0.32)"/>
<line x1="367.5" y1="357.5" x2="372.5" y2="357.5" stroke="rgba(200,60,80,0.55)"/>
<line x1="367.5" y1="357" x2="367.5" y2="403.5" stroke="rgba(200,60,80,0.32)"/>
<line x1="372.5" y1="363.5" x2="377.5" y2="363.5" stroke="rgba(95,95,95,0.5)"/>
<line x1="372.5" y1="357" x2="372.5" y2="403.5" stroke="rgba(95,95,95,0.32)"/>
<line x1="377.5" y1="359.5" x2="382.5" y2="359.5" stroke="rgba(95,95,95,0.5)"/>
<line x1="377.5" y1="359" x2="377.5" y2="403.5" stroke="rgba(95,95,95,0.32)"/>
<line x1="382.5" y1="357.5" x2="387.5" y2="357.5" stroke="rgba(200,60,80,0.55)"/>
<line x1="382.5" y1="357" x2="382.5" y2="403.5" stroke="rgba(200,60,80,0.32)"/>
<line x1="387.5" y1="361.5" x2="392.5" y2="361.5" stroke="rgba(95,95,95,0.5)"/>
<line x1="387.5" y1="357" x2="387.5" y2="403.5" stroke="rgba(95,95,95,0.32)"/>
<line x1="392.5" y1="358.5" x2="397.5" y2="358.5" stroke="rgba(95,95,95,0.5)"/>
<line x1="392.5" y1="358" x2="392.5" y2="403.5" stroke="rgba(95,95,95,0.32)"/>
<line x1="397.5" y1="368.5" x2="402.5" y2="368.5" stroke="rgba(95,95,95,0.5)"/>
<line x1="397.5" y1="358" x2="397.5" y2="403.5" stroke="rgba(95,95,95,0.32)"/>
<line x1="402.5" y1="373.5" x2="407.5" y2="373.5" stroke="rgba(200,60,80,0.55)"/>
<line x1="402.5" y1="368" x2="402.5" y2="403.5" stroke="rgba(95,95,95,0.32)"/>
<line x1="407.5" y1="368.5" x2="412.5" y2="368.5" stroke="rgba(95,95,95,0.5)"/>
<line x1="407.5" y1="368" x2="407.5" y2="403.5" stroke="rgba(95,95,95,0.32)"/>
<line x1="412.5" y1="367.5" x2="417.5" y2="367.5" stroke="rgba(95,95,95,0.5)"/>
<line x1="412.5" y1="367" x2="412.5" y2="403.5" stroke="rgba(95,95,95,0.32)"/>
<line x1="417.5" y1="369.5" x2="422.5" y2="369.5" stroke="rgba(95,95,95,0.5)"/>
<line x1="417.5" y1="367" x2="417.5" y2="403.5" stroke="rgba(95,95,95,0.32)"/>
<line x1="422.5" y1="364.5" x2="427.5" y2="364.5" stroke="rgba(95,95,95,0.5)"/>
<line x1="422.5" y1="364" x2="422.5" y2="403.5" stroke="rgba(95,95,95,0.32)"/>
<line x1="427.5" y1="365.5" x2="432.5" y2="365.5" stroke="rgba(95,95,95,0.5)"/>
<line x1="427.5" y1="364" x2="427.5" y2="403.5" stroke="rgba(95,95,95,0.32)"/>
<line x1="432.5" y1="363.5" x2="437.5" y2="363.5" stroke="rgba(200,60,80,0.55)"/>
<line x1="432.5" y1="363" x2="432.5" y2="403.5" stroke="rgba(200,60,80,0.32)"/>
<line x1="437.5" y1="357.5" x2="442.5" y2="357.5" stroke="rgba(200,60,80,0.55)"/>
<line x1="437.5" y1="357" x2="437.5" y2="403.5" stroke="rgba(200,60,80,0.32)"/>
<line x1="442.5" y1="364.5" x2="447.5" y2="364.5" stroke="rgba(200,60,80,0.55)"/>
<line x1="442.5" y1="357" x2="442.5" y2="403.5" stroke="rgba(200,60,80,0.32)"/>
<line x1="447.5" y1="369.5" x2="452.5" y2="369.5" stroke="rgba(95,95,95,0.5)"/>
<line x1="447.5" y1="364" x2="447.5" y2="403.5" stroke="rgba(95,95,95,0.32)"/>
<line x1="452.5" y1="363.5" x2="457.5" y2="363.5" stroke="rgba(95,95,95,0.5)"/>
<line x1="452.5" y1="363" x2="452.5" y2="403.5" stroke="rgba(95,95,95,0.32)"/>
<line x1="457.5" y1="351.5" x2="462.5" y2="351.5" stroke="rgba(95,95,95,0.5)"/>
<line x1="457.5" y1="351" x2="457.5" y2="403.5" stroke="rgba(95,95,95,0.32)"/>
<line x1="462.5" y1="372.5" x2="467.5" y2="372.5" stroke="rgba(95,95,95,0.5)"/>
<line x1="462.5" y1="351" x2="462.5" y2="403.5" stroke="rgba(95,95,95,0.32)"/>
<line x1="467.5" y1="385.5" x2="472.5" y2="385.5" stroke="rgba(200,60,80,0.55)"/>
<line x1="467.5" y1="372" x2="467.5" y2="403.5" stroke="rgba(95,95,95,0.32)"/>
<line x1="472.5" y1="366.5" x2="477.5" y2="366.5" stroke="rgba(200,60,80,0.55)"/>
<line x1="472.5" y1="366" x2="472.5" y2="403.5" stroke="rgba(200,60,80,0.32)"/>
<line x1="477.5" y1="362.5" x2="482.5" y2="362.5" stroke="rgba(200,60,80,0.55)"/>
<line x1="477.5" y1="362" x2="477.5" y2="403.5" stroke="rgba(200,60,80,0.32)"/>
<line x1="482.5" y1="367.5" x2="487.5" y2="367.5" stroke="rgba(95,95,95,0.5)"/>
<line x1="482.5" y1="362" x2="482.5" y2="403.5" stroke="rgba(95,95,95,0.32)"/>
<line x1="487.5" y1="368.5" x2="492.5" y2="368.5" stroke="rgba(95,95,95,0.5)"/>
<line x1="487.5" y1="367" x2="487.5" y2="403.5" stroke="rgba(95,95,95,0.32)"/>
<line x1="492.5" y1="367.5" x2="497.5" y2="367.5" stroke="rgba(95,95,95,0.5)"/>
<line x1="492.5" y1="367" x2="492.5" y2="403.5" stroke="rgba(95,95,95,0.32)"/>
<line x1="497.5" y1="369.5" x2="502.5" y2="369.5" stroke="rgba(200,60,80,0.55)"/>
<line x1="497.5" y1="367" x2="497.5" y2="403.5" stroke="rgba(95,95,95,0.32)"/>
<line x1="502.5" y1="368.5" x2="507.5" y2="368.5" stroke="rgba(200,60,80,0.55)"/>
<line x1="502.5" y1="368" x2="502.5" y2="403.5" stroke="rgba(200,60,80,0.32)"/>
<line x1="507.5" y1="368.5" x2="512.5" y2="368.5" stroke="rgba(95,95,95,0.5)"/>
<line x1="507.5" y1="368" x2="507.5" y2="403.5" stroke="rgba(95,95,95,0.32)"/>
<line x1="512.5" y1="357.5" x2="517.5" y2="357.5" stroke="rgba(95,95,95,0.5)"/>
<line x1="512.5" y1="357" x2="512.5" y2="403.5" stroke="rgba(95,95,95,0.32)"/>
<line x1="517.5" y1="363.5" x2="522.5" y2="363.5" stroke="rgba(95,95,95,0.5)"/>
<line x1="517.5" y1="357" x2="517.5" y2="403.5" stroke="rgba(95,95,95,0.32)"/>
<line x1="522.5" y1="358.5" x2="527.5" y2="358.5" stroke="rgba(95,95,95,0.5)"/>
<line x1="522.5" y1="358" x2="522.5" y2="403.5" stroke="rgba(95,95,95,0.32)"/>
<line x1="527.5" y1="361.5" x2="532.5" y2="361.5" stroke="rgba(95,95,95,0.5)"/>
<line x1="527.5" y1="358" x2="527.5" y2="403.5" stroke="rgba(95,95,95,0.32)"/>
<line x1="532.5" y1="359.5" x2="537.5" y2="359.5" stroke="rgba(200,60,80,0.55)"/>
<line x1="532.5" y1="359" x2="532.5" y2="403.5" stroke="rgba(200,60,80,0.32)"/>
<line x1="537.5" y1="362.5" x2="542.5" y2="362.5" stroke="rgba(95,95,95,0.5)"/>
<line x1="537.5" y1="359" x2="537.5" y2="403.5" stroke="rgba(95,95,95,0.32)"/>
<line x1="542.5" y1="326.5" x2="547.5" y2="326.5" stroke="rgba(95,95,95,0.5)"/>
<line x1="542.5" y1="326" x2="542.5" y2="403.5" stroke="rgba(95,95,95,0.32)"/>
<line x1="547.5" y1="369.5" x2="552.5" y2="369.5" stroke="rgba(95,95,95,0.5)"/>
<line x1="547.5" y1="326" x2="547.5" y2="403.5" stroke="rgba(95,95,95,0.32)"/>
<line x1="552.5" y1="390.5" x2="557.5" y2="390.5" stroke="rgba(200,60,80,0.55)"/>
<line x1="552.5" y1="369" x2="552.5" y2="403.5" stroke="rgba(95,95,95,0.32)"/>
<line x1="557.5" y1="381.5" x2="562.5" y2="381.5" stroke="rgba(95,95,95,0.5)"/>
<line x1="557.5" y1="381" x2="557.5" y2="403.5" stroke="rgba(95,95,95,0.32)"/>
<line x1="562.5" y1="380.5" x2="567.5" y2="380.5" stroke="rgba(95,95,95,0.5)"/>
<line x1="562.5" y1="380" x2="562.5" y2="403.5" stroke="rgba(95,95,95,0.32)"/>
<line x1="567.5" y1="378.5" x2="572.5" y2="378.5" stroke="rgba(200,60,80,0.55)"/>
<line x1="567.5" y1="378" x2="567.5" y2="403.5" stroke="rgba(200,60,80,0.32)"/>
<line x1="572.5" y1="376.5" x2="577.5" y2="376.5" stroke="rgba(95,95,95,0.5)"/>
<line x1="572.5" y1="376" x2="572.5" y2="403.5" stroke="rgba(95,95,95,0.32)"/>
<line x1="577.5" y1="365.5" x2="582.5" y2="365.5" stroke="rgba(95,95,95,0.5)"/>
<line x1="577.5" y1="365" x2="577.5" y2="403.5" stroke="rgba(95,95,95,0.32)"/>
<line x1="582.5" y1="367.5" x2="587.5" y2="367.5" stroke="rgba(200,60,80,0.55)"/>
<line x1="582.5" y1="365" x2="582.5" y2="403.5" stroke="rgba(95,95,95,0.32)"/>
<line x1="587.5" y1="364.5" x2="592.5" y2="364.5" stroke="rgba(95,95,95,0.5)"/>
<line x1="587.5" y1="364" x2="587.5" y2="403.5" stroke="rgba(95,95,95,0.32)"/>
<line x1="592.5" y1="364.5" x2="597.5" y2="364.5" stroke="rgba(200,60,80,0.55)"/>
<line x1="592.5" y1="364" x2="592.5" y2="403.5" stroke="rgba(200,60,80,0.32)"/>
<line x1="597.5" y1="362.5" x2="602.5" y2="362.5" stroke="rgba(95,95,95,0.5)"/>
<line x1="597.5" y1="362" x2="597.5" y2="403.5" stroke="rgba(95,95,95,0.32)"/>
<line x1="602.5" y1="365.5" x2="607.5" y2="365.5" stroke="rgba(95,95,95,0.5)"/>
<line x1="602.5" y1="362" x2="602.5" y2="403.5" stroke="rgba(95,95,95,0.32)"/>
<line x1="607.5" y1="369.5" x2="612.5" y2="369.5" stroke="rgba(200,60,80,0.55)"/>
<line x1="607.5" y1="365" x2="607.5" y2="403.5" stroke="rgba(95,95,95,0.32)"/>
<line x1="612.5" y1="366.5" x2="617.5" y2="366.5" stroke="rgba(95,95,95,0.5)"/>
<line x1="612.5" y1="366" x2="612.5" y2="403.5" stroke="rgba(95,95,95,0.32)"/>
<line x1="617.5" y1="362.5" x2="622.5" y2="362.5" stroke="rgba(200,60,80,0.55)"/>
<line x1="617.5" y1="362" x2="617.5" y2="403.5" stroke="rgba(200,60,80,0.32)"/>
<line x1="622.5" y1="366.5" x2="627.5" y2="366.5" stroke="rgba(95,95,95,0.5)"/>
<line x1="622.5" y1="362" x2="622.5" y2="403.5" stroke="rgba(95,95,95,0.32)"/>
<line x1="627.5" y1="366.5" x2="632.5" y2="366.5" stroke="rgba(95,95,95,0.5)"/>
<line x1="627.5" y1="366" x2="627.5" y2="403.5" stroke="rgba(95,95,95,0.32)"/>
<line x1="632.5" y1="358.5" x2="637.5" y2="358.5" stroke="rgba(95,95,95,0.5)"/>
<line x1="632.5" y1="358" x2="632.5" y2="403.5" stroke="rgba(95,95,95,0.32)"/>
<line x1="637.5" y1="358.5" x2="642.5" y2="358.5" stroke="rgba(200,60,80,0.55)"/>
<line x1="637.5" y1="358" x2="637.5" y2="403.5" stroke="rgba(200,60,80,0.32)"/>
<line x1="642.5" y1="365.5" x2="647.5" y2="365.5" stroke="rgba(95,95,95,0.5)"/>
<line x1="642.5" y1="358" x2="642.5" y2="403.5" stroke="rgba(95,95,95,0.32)"/>
<line x1="647.5" y1="361.5" x2="652.5" y2="361.5" stroke="rgba(95,95,95,0.5)"/>
<line x1="647.5" y1="361" x2="647.5" y2="403.5" stroke="rgba(95,95,95,0.32)"/>
<line x1="652.5" y1="361" x2="652.5" y2="403.5" stroke="rgba(95,95,95,0.32)"/>
<line x1="34.5" y1="286.6" x2="34.5" y2="288" stroke="#d4003a" stroke-width="1"/>
<line x1="34.5" y1="289.78" x2="34.5" y2="293.6" stroke="#d4003a" stroke-width="1"/>
<rect x="32" y="287.5" width="5" height="2.78" fill="#d4003a"/>
<line x1="39.5" y1="291.4" x2="39.5" y2="293.84" stroke="#d4003a" stroke-width="1"/>
<line x1="39.5" y1="296.2" x2="39.5" y2="300" stroke="#d4003a" stroke-width="1"/>
<rect x="37.5" y="293.84" width="4" height="2.36" fill="rgba(255,255,255,0.4)" stroke="#d4003a" stroke-width="1.1"/>
<line x1="44.5" y1="291" x2="44.5" y2="292.4" stroke="#d4003a" stroke-width="1"/>
<line x1="44.5" y1="311.04" x2="44.5" y2="322.4" stroke="#d4003a" stroke-width="1"/>
<rect x="42" y="291.9" width="5" height="19.64" fill="#d4003a"/>
<line x1="49.5" y1="293" x2="49.5" y2="311" stroke="#d4003a" stroke-width="1"/>
<line x1="49.5" y1="325.25" x2="49.5" y2="329.6" stroke="#d4003a" stroke-width="1"/>
<rect x="47" y="310.5" width="5" height="15.25" fill="#d4003a"/>
<line x1="54.5" y1="328.6" x2="54.5" y2="330" stroke="#d4003a" stroke-width="1"/>
<line x1="54.5" y1="336.74" x2="54.5" y2="346.6" stroke="#d4003a" stroke-width="1"/>
<rect x="52" y="329.5" width="5" height="7.74" fill="#d4003a"/>
<line x1="59.5" y1="354" x2="59.5" y2="355.4" stroke="#d4003a" stroke-width="1"/>
<line x1="59.5" y1="384.26" x2="59.5" y2="396.6" stroke="#d4003a" stroke-width="1"/>
<rect x="57" y="354.9" width="5" height="29.86" fill="#d4003a"/>
<line x1="64.5" y1="362" x2="64.5" y2="363.93" stroke="#000" stroke-width="1"/>
<line x1="64.5" y1="375.4" x2="64.5" y2="382" stroke="#000" stroke-width="1"/>
<rect x="62.5" y="363.93" width="4" height="11.47" fill="rgba(255,255,255,0.4)" stroke="#000" stroke-width="1.1"/>
<line x1="69.5" y1="358.4" x2="69.5" y2="362.73" stroke="#000" stroke-width="1"/>
<line x1="69.5" y1="376.2" x2="69.5" y2="395.6" stroke="#000" stroke-width="1"/>
<rect x="67.5" y="362.73" width="4" height="13.47" fill="rgba(255,255,255,0.4)" stroke="#000" stroke-width="1.1"/>
<line x1="74.5" y1="332.6" x2="74.5" y2="333.51" stroke="#000" stroke-width="1"/>
<line x1="74.5" y1="356.4" x2="74.5" y2="357" stroke="#000" stroke-width="1"/>
<rect x="72.5" y="333.51" width="4" height="22.89" fill="rgba(255,255,255,0.4)" stroke="#000" stroke-width="1.1"/>
<line x1="79.5" y1="336" x2="79.5" y2="336.8" stroke="#d4003a" stroke-width="1"/>
<line x1="79.5" y1="343.94" x2="79.5" y2="355" stroke="#d4003a" stroke-width="1"/>
<rect x="77" y="336.3" width="5" height="8.14" fill="#d4003a"/>
<line x1="84.5" y1="349.6" x2="84.5" y2="350.2" stroke="#d4003a" stroke-width="1"/>
<line x1="84.5" y1="363.43" x2="84.5" y2="369" stroke="#d4003a" stroke-width="1"/>
<rect x="82" y="349.7" width="5" height="14.23" fill="#d4003a"/>
<line x1="89.5" y1="330.4" x2="89.5" y2="339.82" stroke="#000" stroke-width="1"/>
<line x1="89.5" y1="364.4" x2="89.5" y2="366.6" stroke="#000" stroke-width="1"/>
<rect x="87.5" y="339.82" width="4" height="24.58" fill="rgba(255,255,255,0.4)" stroke="#000" stroke-width="1.1"/>
<line x1="94.5" y1="356.6" x2="94.5" y2="357" stroke="#d4003a" stroke-width="1"/>
<line x1="94.5" y1="386.55" x2="94.5" y2="387.4" stroke="#d4003a" stroke-width="1"/>
<rect x="92" y="356.5" width="5" height="30.55" fill="#d4003a"/>
<line x1="99.5" y1="377" x2="99.5" y2="382.6" stroke="#000" stroke-width="1"/>
<line x1="99.5" y1="382.68" x2="99.5" y2="395.6" stroke="#000" stroke-width="1"/>
<rect x="97" y="381.99" width="5" height="1.3" fill="#000"/>
<line x1="104.5" y1="357" x2="104.5" y2="360.17" stroke="#000" stroke-width="1"/>
<line x1="104.5" y1="373" x2="104.5" y2="373.6" stroke="#000" stroke-width="1"/>
<rect x="102.5" y="360.17" width="4" height="12.83" fill="rgba(255,255,255,0.4)" stroke="#000" stroke-width="1.1"/>
<line x1="109.5" y1="337" x2="109.5" y2="341.25" stroke="#000" stroke-width="1"/>
<line x1="109.5" y1="346.2" x2="109.5" y2="347" stroke="#000" stroke-width="1"/>
<rect x="107.5" y="341.25" width="4" height="4.95" fill="rgba(255,255,255,0.4)" stroke="#000" stroke-width="1.1"/>
<line x1="114.5" y1="342" x2="114.5" y2="342.6" stroke="#d4003a" stroke-width="1"/>
<line x1="114.5" y1="353.74" x2="114.5" y2="354.4" stroke="#d4003a" stroke-width="1"/>
<rect x="112" y="342.1" width="5" height="12.14" fill="#d4003a"/>
<line x1="119.5" y1="338" x2="119.5" y2="340.83" stroke="#000" stroke-width="1"/>
<line x1="119.5" y1="343" x2="119.5" y2="344.6" stroke="#000" stroke-width="1"/>
<rect x="117.5" y="340.83" width="4" height="2.17" fill="rgba(255,255,255,0.4)" stroke="#000" stroke-width="1.1"/>
<line x1="124.5" y1="333" x2="124.5" y2="337.4" stroke="#d4003a" stroke-width="1"/>
<line x1="124.5" y1="341.63" x2="124.5" y2="351.6" stroke="#d4003a" stroke-width="1"/>
<rect x="122" y="336.9" width="5" height="5.23" fill="#d4003a"/>
<line x1="129.5" y1="339" x2="129.5" y2="348.4" stroke="#d4003a" stroke-width="1"/>
<line x1="129.5" y1="382.96" x2="129.5" y2="389.6" stroke="#d4003a" stroke-width="1"/>
<rect x="127" y="347.9" width="5" height="35.56" fill="#d4003a"/>
<line x1="134.5" y1="364.8" x2="134.5" y2="365.78" stroke="#000" stroke-width="1"/>
<line x1="134.5" y1="372.2" x2="134.5" y2="378.6" stroke="#000" stroke-width="1"/>
<rect x="132.5" y="365.78" width="4" height="6.42" fill="rgba(255,255,255,0.4)" stroke="#000" stroke-width="1.1"/>
<line x1="139.5" y1="354" x2="139.5" y2="357" stroke="#d4003a" stroke-width="1"/>
<line x1="139.5" y1="370.83" x2="139.5" y2="375.6" stroke="#d4003a" stroke-width="1"/>
<rect x="137" y="356.5" width="5" height="14.83" fill="#d4003a"/>
<line x1="144.5" y1="359.4" x2="144.5" y2="360.57" stroke="#000" stroke-width="1"/>
<line x1="144.5" y1="375.2" x2="144.5" y2="379.4" stroke="#000" stroke-width="1"/>
<rect x="142.5" y="360.57" width="4" height="14.63" fill="rgba(255,255,255,0.4)" stroke="#000" stroke-width="1.1"/>
<line x1="149.5" y1="337" x2="149.5" y2="340.75" stroke="#000" stroke-width="1"/>
<line x1="149.5" y1="348.4" x2="149.5" y2="351.4" stroke="#000" stroke-width="1"/>
<rect x="147.5" y="340.75" width="4" height="7.65" fill="rgba(255,255,255,0.4)" stroke="#000" stroke-width="1.1"/>
<line x1="154.5" y1="332" x2="154.5" y2="334.4" stroke="#000" stroke-width="1"/>
<line x1="154.5" y1="339.74" x2="154.5" y2="346.4" stroke="#000" stroke-width="1"/>
<rect x="152" y="333.9" width="5" height="6.34" fill="#000"/>
<line x1="159.5" y1="346" x2="159.5" y2="349.2" stroke="#d4003a" stroke-width="1"/>
<line x1="159.5" y1="350.63" x2="159.5" y2="358.6" stroke="#d4003a" stroke-width="1"/>
<rect x="157" y="349.26" width="5" height="1.3" fill="#d4003a"/>
<line x1="164.5" y1="332.6" x2="164.5" y2="333.67" stroke="#000" stroke-width="1"/>
<line x1="164.5" y1="340.4" x2="164.5" y2="342.4" stroke="#000" stroke-width="1"/>
<rect x="162.5" y="333.67" width="4" height="6.73" fill="rgba(255,255,255,0.4)" stroke="#000" stroke-width="1.1"/>
<line x1="169.5" y1="308.6" x2="169.5" y2="313.35" stroke="#000" stroke-width="1"/>
<line x1="169.5" y1="321.4" x2="169.5" y2="321.8" stroke="#000" stroke-width="1"/>
<rect x="167.5" y="313.35" width="4" height="8.05" fill="rgba(255,255,255,0.4)" stroke="#000" stroke-width="1.1"/>
<line x1="174.5" y1="308.4" x2="174.5" y2="311.6" stroke="#000" stroke-width="1"/>
<line x1="174.5" y1="311.92" x2="174.5" y2="315" stroke="#000" stroke-width="1"/>
<rect x="172" y="311.11" width="5" height="1.3" fill="#000"/>
<line x1="179.5" y1="306" x2="179.5" y2="306.4" stroke="#d4003a" stroke-width="1"/>
<line x1="179.5" y1="312.07" x2="179.5" y2="316.4" stroke="#d4003a" stroke-width="1"/>
<rect x="177" y="305.9" width="5" height="6.67" fill="#d4003a"/>
<line x1="184.5" y1="310.4" x2="184.5" y2="311.56" stroke="#000" stroke-width="1"/>
<line x1="184.5" y1="316.2" x2="184.5" y2="323" stroke="#000" stroke-width="1"/>
<rect x="182.5" y="311.56" width="4" height="4.64" fill="rgba(255,255,255,0.4)" stroke="#000" stroke-width="1.1"/>
<line x1="189.5" y1="299.2" x2="189.5" y2="300.24" stroke="#000" stroke-width="1"/>
<line x1="189.5" y1="310.4" x2="189.5" y2="313.4" stroke="#000" stroke-width="1"/>
<rect x="187.5" y="300.24" width="4" height="10.16" fill="rgba(255,255,255,0.4)" stroke="#000" stroke-width="1.1"/>
<line x1="194.5" y1="290" x2="194.5" y2="295.4" stroke="#000" stroke-width="1"/>
<line x1="194.5" y1="295.72" x2="194.5" y2="300" stroke="#000" stroke-width="1"/>
<rect x="192" y="294.91" width="5" height="1.3" fill="#000"/>
<line x1="199.5" y1="291" x2="199.5" y2="294" stroke="#d4003a" stroke-width="1"/>
<line x1="199.5" y1="296.86" x2="199.5" y2="299.6" stroke="#d4003a" stroke-width="1"/>
<rect x="197" y="293.5" width="5" height="3.86" fill="#d4003a"/>
<line x1="204.5" y1="299" x2="204.5" y2="301.5" stroke="#d4003a" stroke-width="1"/>
<line x1="204.5" y1="301.8" x2="204.5" y2="305.6" stroke="#d4003a" stroke-width="1"/>
<rect x="202" y="301" width="5" height="1.3" fill="#d4003a"/>
<line x1="209.5" y1="296.6" x2="209.5" y2="297.74" stroke="#000" stroke-width="1"/>
<line x1="209.5" y1="303.4" x2="209.5" y2="304.4" stroke="#000" stroke-width="1"/>
<rect x="207.5" y="297.74" width="4" height="5.66" fill="rgba(255,255,255,0.4)" stroke="#000" stroke-width="1.1"/>
<line x1="214.5" y1="296.2" x2="214.5" y2="297.2" stroke="#000" stroke-width="1"/>
<line x1="214.5" y1="299.6" x2="214.5" y2="312.4" stroke="#000" stroke-width="1"/>
<rect x="212.5" y="297.2" width="4" height="2.4" fill="rgba(255,255,255,0.4)" stroke="#000" stroke-width="1.1"/>
<line x1="219.5" y1="289.4" x2="219.5" y2="294.8" stroke="#000" stroke-width="1"/>
<line x1="219.5" y1="297.17" x2="219.5" y2="300" stroke="#000" stroke-width="1"/>
<rect x="217" y="294.3" width="5" height="3.37" fill="#000"/>
<line x1="224.5" y1="292.4" x2="224.5" y2="296" stroke="#d4003a" stroke-width="1"/>
<line x1="224.5" y1="304.89" x2="224.5" y2="308.6" stroke="#d4003a" stroke-width="1"/>
<rect x="222" y="295.5" width="5" height="9.89" fill="#d4003a"/>
<line x1="229.5" y1="302" x2="229.5" y2="305.04" stroke="#d4003a" stroke-width="1"/>
<line x1="229.5" y1="309" x2="229.5" y2="310.6" stroke="#d4003a" stroke-width="1"/>
<rect x="227.5" y="305.04" width="4" height="3.96" fill="rgba(255,255,255,0.4)" stroke="#d4003a" stroke-width="1.1"/>
<line x1="234.5" y1="296" x2="234.5" y2="299.6" stroke="#d4003a" stroke-width="1"/>
<line x1="234.5" y1="318.33" x2="234.5" y2="323.6" stroke="#d4003a" stroke-width="1"/>
<rect x="232" y="299.1" width="5" height="19.73" fill="#d4003a"/>
<line x1="239.5" y1="306.4" x2="239.5" y2="308.68" stroke="#000" stroke-width="1"/>
<line x1="239.5" y1="317.2" x2="239.5" y2="325.4" stroke="#000" stroke-width="1"/>
<rect x="237.5" y="308.68" width="4" height="8.52" fill="rgba(255,255,255,0.4)" stroke="#000" stroke-width="1.1"/>
<line x1="244.5" y1="307" x2="244.5" y2="307.6" stroke="#d4003a" stroke-width="1"/>
<line x1="244.5" y1="312.5" x2="244.5" y2="319.6" stroke="#d4003a" stroke-width="1"/>
<rect x="242" y="307.1" width="5" height="5.9" fill="#d4003a"/>
<line x1="249.5" y1="306.6" x2="249.5" y2="307.6" stroke="#d4003a" stroke-width="1"/>
<line x1="249.5" y1="320.88" x2="249.5" y2="329.4" stroke="#d4003a" stroke-width="1"/>
<rect x="247" y="307.1" width="5" height="14.28" fill="#d4003a"/>
<line x1="254.5" y1="309" x2="254.5" y2="312.96" stroke="#000" stroke-width="1"/>
<line x1="254.5" y1="318.2" x2="254.5" y2="318.6" stroke="#000" stroke-width="1"/>
<rect x="252.5" y="312.96" width="4" height="5.24" fill="rgba(255,255,255,0.4)" stroke="#000" stroke-width="1.1"/>
<line x1="259.5" y1="304.4" x2="259.5" y2="309.4" stroke="#d4003a" stroke-width="1"/>
<line x1="259.5" y1="332.35" x2="259.5" y2="333.6" stroke="#d4003a" stroke-width="1"/>
<rect x="257" y="308.9" width="5" height="23.95" fill="#d4003a"/>
<line x1="264.5" y1="339.6" x2="264.5" y2="340" stroke="#d4003a" stroke-width="1"/>
<line x1="264.5" y1="360.75" x2="264.5" y2="367.4" stroke="#d4003a" stroke-width="1"/>
<rect x="262" y="339.5" width="5" height="21.75" fill="#d4003a"/>
<line x1="269.5" y1="347.2" x2="269.5" y2="348.27" stroke="#000" stroke-width="1"/>
<line x1="269.5" y1="362.2" x2="269.5" y2="378.6" stroke="#000" stroke-width="1"/>
<rect x="267.5" y="348.27" width="4" height="13.93" fill="rgba(255,255,255,0.4)" stroke="#000" stroke-width="1.1"/>
<line x1="274.5" y1="325" x2="274.5" y2="326.08" stroke="#000" stroke-width="1"/>
<line x1="274.5" y1="344.2" x2="274.5" y2="344.6" stroke="#000" stroke-width="1"/>
<rect x="272.5" y="326.08" width="4" height="18.12" fill="rgba(255,255,255,0.4)" stroke="#000" stroke-width="1.1"/>
<line x1="279.5" y1="322.4" x2="279.5" y2="329.4" stroke="#d4003a" stroke-width="1"/>
<line x1="279.5" y1="333.13" x2="279.5" y2="334.4" stroke="#d4003a" stroke-width="1"/>
<rect x="277" y="328.9" width="5" height="4.73" fill="#d4003a"/>
<line x1="284.5" y1="340" x2="284.5" y2="343" stroke="#d4003a" stroke-width="1"/>
<line x1="284.5" y1="357.79" x2="284.5" y2="358.4" stroke="#d4003a" stroke-width="1"/>
<rect x="282" y="342.5" width="5" height="15.79" fill="#d4003a"/>
<line x1="289.5" y1="338.4" x2="289.5" y2="343.54" stroke="#000" stroke-width="1"/>
<line x1="289.5" y1="348.2" x2="289.5" y2="350.6" stroke="#000" stroke-width="1"/>
<rect x="287.5" y="343.54" width="4" height="4.66" fill="rgba(255,255,255,0.4)" stroke="#000" stroke-width="1.1"/>
<line x1="294.5" y1="328.4" x2="294.5" y2="333.49" stroke="#000" stroke-width="1"/>
<line x1="294.5" y1="344.2" x2="294.5" y2="344.6" stroke="#000" stroke-width="1"/>
<rect x="292.5" y="333.49" width="4" height="10.71" fill="rgba(255,255,255,0.4)" stroke="#000" stroke-width="1.1"/>
<line x1="299.5" y1="304.4" x2="299.5" y2="316.38" stroke="#000" stroke-width="1"/>
<line x1="299.5" y1="320.2" x2="299.5" y2="320.6" stroke="#000" stroke-width="1"/>
<rect x="297.5" y="316.38" width="4" height="3.82" fill="rgba(255,255,255,0.4)" stroke="#000" stroke-width="1.1"/>
<line x1="304.5" y1="315.4" x2="304.5" y2="318.2" stroke="#d4003a" stroke-width="1"/>
<line x1="304.5" y1="318.57" x2="304.5" y2="320.6" stroke="#d4003a" stroke-width="1"/>
<rect x="302" y="317.73" width="5" height="1.3" fill="#d4003a"/>
<line x1="309.5" y1="299" x2="309.5" y2="302.99" stroke="#000" stroke-width="1"/>
<line x1="309.5" y1="314.2" x2="309.5" y2="314.6" stroke="#000" stroke-width="1"/>
<rect x="307.5" y="302.99" width="4" height="11.21" fill="rgba(255,255,255,0.4)" stroke="#000" stroke-width="1.1"/>
<line x1="314.5" y1="302" x2="314.5" y2="305.9" stroke="#d4003a" stroke-width="1"/>
<line x1="314.5" y1="306.14" x2="314.5" y2="309" stroke="#d4003a" stroke-width="1"/>
<rect x="312" y="305.37" width="5" height="1.3" fill="#d4003a"/>
<line x1="319.5" y1="296" x2="319.5" y2="300.7" stroke="#000" stroke-width="1"/>
<line x1="319.5" y1="301.8" x2="319.5" y2="305.6" stroke="#000" stroke-width="1"/>
<rect x="317" y="300.6" width="5" height="1.3" fill="#000"/>
<line x1="324.5" y1="299.6" x2="324.5" y2="301.6" stroke="#d4003a" stroke-width="1"/>
<line x1="324.5" y1="307.98" x2="324.5" y2="313.6" stroke="#d4003a" stroke-width="1"/>
<rect x="322" y="301.1" width="5" height="7.38" fill="#d4003a"/>
<line x1="329.5" y1="296.2" x2="329.5" y2="297.21" stroke="#000" stroke-width="1"/>
<line x1="329.5" y1="302.4" x2="329.5" y2="303.4" stroke="#000" stroke-width="1"/>
<rect x="327.5" y="297.21" width="4" height="5.19" fill="rgba(255,255,255,0.4)" stroke="#000" stroke-width="1.1"/>
<line x1="334.5" y1="293" x2="334.5" y2="295" stroke="#d4003a" stroke-width="1"/>
<line x1="334.5" y1="302.83" x2="334.5" y2="303.6" stroke="#d4003a" stroke-width="1"/>
<rect x="332" y="294.5" width="5" height="8.83" fill="#d4003a"/>
<line x1="339.5" y1="297.2" x2="339.5" y2="298.36" stroke="#000" stroke-width="1"/>
<line x1="339.5" y1="303.2" x2="339.5" y2="305.6" stroke="#000" stroke-width="1"/>
<rect x="337.5" y="298.36" width="4" height="4.84" fill="rgba(255,255,255,0.4)" stroke="#000" stroke-width="1.1"/>
<line x1="344.5" y1="292" x2="344.5" y2="292.8" stroke="#000" stroke-width="1"/>
<line x1="344.5" y1="295.34" x2="344.5" y2="300.6" stroke="#000" stroke-width="1"/>
<rect x="342" y="292.3" width="5" height="3.54" fill="#000"/>
<line x1="349.5" y1="286" x2="349.5" y2="288.96" stroke="#000" stroke-width="1"/>
<line x1="349.5" y1="299.2" x2="349.5" y2="300" stroke="#000" stroke-width="1"/>
<rect x="347.5" y="288.96" width="4" height="10.24" fill="rgba(255,255,255,0.4)" stroke="#000" stroke-width="1.1"/>
<line x1="354.5" y1="277.4" x2="354.5" y2="280.21" stroke="#000" stroke-width="1"/>
<line x1="354.5" y1="284.2" x2="354.5" y2="284.6" stroke="#000" stroke-width="1"/>
<rect x="352.5" y="280.21" width="4" height="3.99" fill="rgba(255,255,255,0.4)" stroke="#000" stroke-width="1.1"/>
<line x1="359.5" y1="275" x2="359.5" y2="280" stroke="#d4003a" stroke-width="1"/>
<line x1="359.5" y1="281.51" x2="359.5" y2="283" stroke="#d4003a" stroke-width="1"/>
<rect x="357" y="280.11" width="5" height="1.3" fill="#d4003a"/>
<line x1="364.5" y1="274" x2="364.5" y2="276.41" stroke="#000" stroke-width="1"/>
<line x1="364.5" y1="280.2" x2="364.5" y2="287.6" stroke="#000" stroke-width="1"/>
<rect x="362.5" y="276.41" width="4" height="3.79" fill="rgba(255,255,255,0.4)" stroke="#000" stroke-width="1.1"/>
<line x1="369.5" y1="276" x2="369.5" y2="276.4" stroke="#d4003a" stroke-width="1"/>
<line x1="369.5" y1="281.17" x2="369.5" y2="288.6" stroke="#d4003a" stroke-width="1"/>
<rect x="367" y="275.9" width="5" height="5.77" fill="#d4003a"/>
<line x1="374.5" y1="265" x2="374.5" y2="266.05" stroke="#000" stroke-width="1"/>
<line x1="374.5" y1="274.2" x2="374.5" y2="274.6" stroke="#000" stroke-width="1"/>
<rect x="372.5" y="266.05" width="4" height="8.15" fill="rgba(255,255,255,0.4)" stroke="#000" stroke-width="1.1"/>
<line x1="379.5" y1="256" x2="379.5" y2="259.9" stroke="#000" stroke-width="1"/>
<line x1="379.5" y1="260.24" x2="379.5" y2="263" stroke="#000" stroke-width="1"/>
<rect x="377" y="259.42" width="5" height="1.3" fill="#000"/>
<line x1="384.5" y1="257" x2="384.5" y2="259" stroke="#d4003a" stroke-width="1"/>
<line x1="384.5" y1="262.1" x2="384.5" y2="263.4" stroke="#d4003a" stroke-width="1"/>
<rect x="382" y="258.5" width="5" height="4.1" fill="#d4003a"/>
<line x1="389.5" y1="259" x2="389.5" y2="260.8" stroke="#000" stroke-width="1"/>
<line x1="389.5" y1="261" x2="389.5" y2="266.6" stroke="#000" stroke-width="1"/>
<rect x="387" y="260.25" width="5" height="1.3" fill="#000"/>
<line x1="394.5" y1="250.4" x2="394.5" y2="255.3" stroke="#000" stroke-width="1"/>
<line x1="394.5" y1="256.71" x2="394.5" y2="259" stroke="#000" stroke-width="1"/>
<rect x="392" y="255.36" width="5" height="1.3" fill="#000"/>
<line x1="399.5" y1="251.6" x2="399.5" y2="252.69" stroke="#000" stroke-width="1"/>
<line x1="399.5" y1="258.4" x2="399.5" y2="262.6" stroke="#000" stroke-width="1"/>
<rect x="397.5" y="252.69" width="4" height="5.71" fill="rgba(255,255,255,0.4)" stroke="#000" stroke-width="1.1"/>
<line x1="404.5" y1="254.6" x2="404.5" y2="255.78" stroke="#d4003a" stroke-width="1"/>
<line x1="404.5" y1="259.2" x2="404.5" y2="262" stroke="#d4003a" stroke-width="1"/>
<rect x="402.5" y="255.78" width="4" height="3.42" fill="rgba(255,255,255,0.4)" stroke="#d4003a" stroke-width="1.1"/>
<line x1="409.5" y1="247.4" x2="409.5" y2="253.32" stroke="#000" stroke-width="1"/>
<line x1="409.5" y1="253.4" x2="409.5" y2="258" stroke="#000" stroke-width="1"/>
<rect x="407" y="252.71" width="5" height="1.3" fill="#000"/>
<line x1="414.5" y1="250.4" x2="414.5" y2="252.21" stroke="#000" stroke-width="1"/>
<line x1="414.5" y1="257.4" x2="414.5" y2="260" stroke="#000" stroke-width="1"/>
<rect x="412.5" y="252.21" width="4" height="5.19" fill="rgba(255,255,255,0.4)" stroke="#000" stroke-width="1.1"/>
<line x1="419.5" y1="249.8" x2="419.5" y2="250.89" stroke="#000" stroke-width="1"/>
<line x1="419.5" y1="253.4" x2="419.5" y2="257" stroke="#000" stroke-width="1"/>
<rect x="417.5" y="250.89" width="4" height="2.51" fill="rgba(255,255,255,0.4)" stroke="#000" stroke-width="1.1"/>
<line x1="424.5" y1="237.6" x2="424.5" y2="238.84" stroke="#000" stroke-width="1"/>
<line x1="424.5" y1="245.4" x2="424.5" y2="246.4" stroke="#000" stroke-width="1"/>
<rect x="422.5" y="238.84" width="4" height="6.56" fill="rgba(255,255,255,0.4)" stroke="#000" stroke-width="1.1"/>
<line x1="429.5" y1="236.6" x2="429.5" y2="238.05" stroke="#000" stroke-width="1"/>
<line x1="429.5" y1="240.4" x2="429.5" y2="243.4" stroke="#000" stroke-width="1"/>
<rect x="427.5" y="238.05" width="4" height="2.35" fill="rgba(255,255,255,0.4)" stroke="#000" stroke-width="1.1"/>
<line x1="434.5" y1="234.6" x2="434.5" y2="235" stroke="#d4003a" stroke-width="1"/>
<line x1="434.5" y1="238.98" x2="434.5" y2="243" stroke="#d4003a" stroke-width="1"/>
<rect x="432" y="234.5" width="5" height="4.98" fill="#d4003a"/>
<line x1="439.5" y1="239" x2="439.5" y2="240.6" stroke="#d4003a" stroke-width="1"/>
<line x1="439.5" y1="244.9" x2="439.5" y2="253.6" stroke="#d4003a" stroke-width="1"/>
<rect x="437" y="240.1" width="5" height="5.3" fill="#d4003a"/>
<line x1="444.5" y1="244" x2="444.5" y2="244.4" stroke="#d4003a" stroke-width="1"/>
<line x1="444.5" y1="247.39" x2="444.5" y2="252.6" stroke="#d4003a" stroke-width="1"/>
<rect x="442" y="243.9" width="5" height="3.99" fill="#d4003a"/>
<line x1="449.5" y1="242" x2="449.5" y2="243.8" stroke="#000" stroke-width="1"/>
<line x1="449.5" y1="243.97" x2="449.5" y2="249.6" stroke="#000" stroke-width="1"/>
<rect x="447" y="243.24" width="5" height="1.3" fill="#000"/>
<line x1="454.5" y1="231" x2="454.5" y2="232.21" stroke="#000" stroke-width="1"/>
<line x1="454.5" y1="240.4" x2="454.5" y2="241" stroke="#000" stroke-width="1"/>
<rect x="452.5" y="232.21" width="4" height="8.19" fill="rgba(255,255,255,0.4)" stroke="#000" stroke-width="1.1"/>
<line x1="459.5" y1="227.6" x2="459.5" y2="228.77" stroke="#000" stroke-width="1"/>
<line x1="459.5" y1="231.4" x2="459.5" y2="233.6" stroke="#000" stroke-width="1"/>
<rect x="457.5" y="228.77" width="4" height="2.63" fill="rgba(255,255,255,0.4)" stroke="#000" stroke-width="1.1"/>
<line x1="464.5" y1="221" x2="464.5" y2="222.22" stroke="#000" stroke-width="1"/>
<line x1="464.5" y1="226.4" x2="464.5" y2="227" stroke="#000" stroke-width="1"/>
<rect x="462.5" y="222.22" width="4" height="4.18" fill="rgba(255,255,255,0.4)" stroke="#000" stroke-width="1.1"/>
<line x1="469.5" y1="223" x2="469.5" y2="224.4" stroke="#d4003a" stroke-width="1"/>
<line x1="469.5" y1="228.54" x2="469.5" y2="229.4" stroke="#d4003a" stroke-width="1"/>
<rect x="467" y="223.9" width="5" height="5.14" fill="#d4003a"/>
<line x1="474.5" y1="226.6" x2="474.5" y2="227" stroke="#d4003a" stroke-width="1"/>
<line x1="474.5" y1="242.16" x2="474.5" y2="243.6" stroke="#d4003a" stroke-width="1"/>
<rect x="472" y="226.5" width="5" height="16.16" fill="#d4003a"/>
<line x1="479.5" y1="251.4" x2="479.5" y2="252.63" stroke="#d4003a" stroke-width="1"/>
<line x1="479.5" y1="255.2" x2="479.5" y2="265" stroke="#d4003a" stroke-width="1"/>
<rect x="477.5" y="252.63" width="4" height="2.57" fill="rgba(255,255,255,0.4)" stroke="#d4003a" stroke-width="1.1"/>
<line x1="484.5" y1="239" x2="484.5" y2="242.72" stroke="#000" stroke-width="1"/>
<line x1="484.5" y1="247.2" x2="484.5" y2="247.6" stroke="#000" stroke-width="1"/>
<rect x="482.5" y="242.72" width="4" height="4.48" fill="rgba(255,255,255,0.4)" stroke="#000" stroke-width="1.1"/>
<line x1="489.5" y1="238.6" x2="489.5" y2="239.2" stroke="#000" stroke-width="1"/>
<line x1="489.5" y1="240.37" x2="489.5" y2="247.6" stroke="#000" stroke-width="1"/>
<rect x="487" y="239.13" width="5" height="1.3" fill="#000"/>
<line x1="494.5" y1="223" x2="494.5" y2="226.07" stroke="#000" stroke-width="1"/>
<line x1="494.5" y1="231.4" x2="494.5" y2="232" stroke="#000" stroke-width="1"/>
<rect x="492.5" y="226.07" width="4" height="5.33" fill="rgba(255,255,255,0.4)" stroke="#000" stroke-width="1.1"/>
<line x1="499.5" y1="224" x2="499.5" y2="228" stroke="#d4003a" stroke-width="1"/>
<line x1="499.5" y1="231.05" x2="499.5" y2="232" stroke="#d4003a" stroke-width="1"/>
<rect x="497" y="227.5" width="5" height="4.05" fill="#d4003a"/>
<line x1="504.5" y1="227.4" x2="504.5" y2="231" stroke="#d4003a" stroke-width="1"/>
<line x1="504.5" y1="232.78" x2="504.5" y2="237" stroke="#d4003a" stroke-width="1"/>
<rect x="502" y="230.5" width="5" height="2.78" fill="#d4003a"/>
<line x1="509.5" y1="227" x2="509.5" y2="228.21" stroke="#000" stroke-width="1"/>
<line x1="509.5" y1="231.4" x2="509.5" y2="232.6" stroke="#000" stroke-width="1"/>
<rect x="507.5" y="228.21" width="4" height="3.19" fill="rgba(255,255,255,0.4)" stroke="#000" stroke-width="1.1"/>
<line x1="514.5" y1="211" x2="514.5" y2="214.79" stroke="#000" stroke-width="1"/>
<line x1="514.5" y1="228.4" x2="514.5" y2="229" stroke="#000" stroke-width="1"/>
<rect x="512.5" y="214.79" width="4" height="13.61" fill="rgba(255,255,255,0.4)" stroke="#000" stroke-width="1.1"/>
<line x1="519.5" y1="207.4" x2="519.5" y2="213.2" stroke="#000" stroke-width="1"/>
<line x1="519.5" y1="214.67" x2="519.5" y2="220.6" stroke="#000" stroke-width="1"/>
<rect x="517" y="213.29" width="5" height="1.3" fill="#000"/>
<line x1="524.5" y1="200" x2="524.5" y2="203.48" stroke="#000" stroke-width="1"/>
<line x1="524.5" y1="207.4" x2="524.5" y2="208" stroke="#000" stroke-width="1"/>
<rect x="522.5" y="203.48" width="4" height="3.92" fill="rgba(255,255,255,0.4)" stroke="#000" stroke-width="1.1"/>
<line x1="529.5" y1="200" x2="529.5" y2="202.4" stroke="#000" stroke-width="1"/>
<line x1="529.5" y1="202.95" x2="529.5" y2="204" stroke="#000" stroke-width="1"/>
<rect x="527" y="202.03" width="5" height="1.3" fill="#000"/>
<line x1="534.5" y1="200.6" x2="534.5" y2="201.2" stroke="#d4003a" stroke-width="1"/>
<line x1="534.5" y1="203.63" x2="534.5" y2="203.63" stroke="#d4003a" stroke-width="1"/>
<rect x="532" y="200.7" width="5" height="3.43" fill="#d4003a"/>
<line x1="539.5" y1="195.4" x2="539.5" y2="196.64" stroke="#000" stroke-width="1"/>
<line x1="539.5" y1="203.2" x2="539.5" y2="203.6" stroke="#000" stroke-width="1"/>
<rect x="537.5" y="196.64" width="4" height="6.56" fill="rgba(255,255,255,0.4)" stroke="#000" stroke-width="1.1"/>
<line x1="544.5" y1="186" x2="544.5" y2="188.4" stroke="#000" stroke-width="1"/>
<line x1="544.5" y1="188.88" x2="544.5" y2="191.6" stroke="#000" stroke-width="1"/>
<rect x="542" y="187.99" width="5" height="1.3" fill="#000"/>
<line x1="549.5" y1="185" x2="549.5" y2="185.8" stroke="#000" stroke-width="1"/>
<line x1="549.5" y1="187.52" x2="549.5" y2="188.4" stroke="#000" stroke-width="1"/>
<rect x="547" y="185.3" width="5" height="2.72" fill="#000"/>
<line x1="554.5" y1="185.6" x2="554.5" y2="186" stroke="#d4003a" stroke-width="1"/>
<line x1="554.5" y1="187.83" x2="554.5" y2="190" stroke="#d4003a" stroke-width="1"/>
<rect x="552" y="185.5" width="5" height="2.83" fill="#d4003a"/>
<line x1="559.5" y1="178.6" x2="559.5" y2="179.79" stroke="#000" stroke-width="1"/>
<line x1="559.5" y1="185.4" x2="559.5" y2="185.8" stroke="#000" stroke-width="1"/>
<rect x="557.5" y="179.79" width="4" height="5.61" fill="rgba(255,255,255,0.4)" stroke="#000" stroke-width="1.1"/>
<line x1="564.5" y1="175" x2="564.5" y2="176.4" stroke="#000" stroke-width="1"/>
<line x1="564.5" y1="179.73" x2="564.5" y2="182" stroke="#000" stroke-width="1"/>
<rect x="562" y="175.9" width="5" height="4.33" fill="#000"/>
<line x1="569.5" y1="178.6" x2="569.5" y2="179" stroke="#d4003a" stroke-width="1"/>
<line x1="569.5" y1="188.85" x2="569.5" y2="191.4" stroke="#d4003a" stroke-width="1"/>
<rect x="567" y="178.5" width="5" height="10.85" fill="#d4003a"/>
<line x1="574.5" y1="183" x2="574.5" y2="184.22" stroke="#000" stroke-width="1"/>
<line x1="574.5" y1="190.8" x2="574.5" y2="193.6" stroke="#000" stroke-width="1"/>
<rect x="572.5" y="184.22" width="4" height="6.58" fill="rgba(255,255,255,0.4)" stroke="#000" stroke-width="1.1"/>
<line x1="579.5" y1="169.8" x2="579.5" y2="171.11" stroke="#000" stroke-width="1"/>
<line x1="579.5" y1="177.2" x2="579.5" y2="181.6" stroke="#000" stroke-width="1"/>
<rect x="577.5" y="171.11" width="4" height="6.09" fill="rgba(255,255,255,0.4)" stroke="#000" stroke-width="1.1"/>
<line x1="584.5" y1="176" x2="584.5" y2="182.25" stroke="#d4003a" stroke-width="1"/>
<line x1="584.5" y1="185.4" x2="584.5" y2="188.6" stroke="#d4003a" stroke-width="1"/>
<rect x="582.5" y="182.25" width="4" height="3.15" fill="rgba(255,255,255,0.4)" stroke="#d4003a" stroke-width="1.1"/>
<line x1="589.5" y1="175.4" x2="589.5" y2="176.7" stroke="#000" stroke-width="1"/>
<line x1="589.5" y1="190.4" x2="589.5" y2="192.6" stroke="#000" stroke-width="1"/>
<rect x="587.5" y="176.7" width="4" height="13.7" fill="rgba(255,255,255,0.4)" stroke="#000" stroke-width="1.1"/>
<line x1="594.5" y1="177" x2="594.5" y2="178" stroke="#d4003a" stroke-width="1"/>
<line x1="594.5" y1="181.11" x2="594.5" y2="183.6" stroke="#d4003a" stroke-width="1"/>
<rect x="592" y="177.5" width="5" height="4.11" fill="#d4003a"/>
<line x1="599.5" y1="166.4" x2="599.5" y2="173.43" stroke="#000" stroke-width="1"/>
<line x1="599.5" y1="180.2" x2="599.5" y2="181" stroke="#000" stroke-width="1"/>
<rect x="597.5" y="173.43" width="4" height="6.77" fill="rgba(255,255,255,0.4)" stroke="#000" stroke-width="1.1"/>
<line x1="604.5" y1="161.8" x2="604.5" y2="163" stroke="#000" stroke-width="1"/>
<line x1="604.5" y1="167.4" x2="604.5" y2="168.4" stroke="#000" stroke-width="1"/>
<rect x="602.5" y="163" width="4" height="4.4" fill="rgba(255,255,255,0.4)" stroke="#000" stroke-width="1.1"/>
<line x1="609.5" y1="159" x2="609.5" y2="159.4" stroke="#d4003a" stroke-width="1"/>
<line x1="609.5" y1="167.49" x2="609.5" y2="169.4" stroke="#d4003a" stroke-width="1"/>
<rect x="607" y="158.9" width="5" height="9.09" fill="#d4003a"/>
<line x1="614.5" y1="155.2" x2="614.5" y2="156.56" stroke="#000" stroke-width="1"/>
<line x1="614.5" y1="164.2" x2="614.5" y2="166.4" stroke="#000" stroke-width="1"/>
<rect x="612.5" y="156.56" width="4" height="7.64" fill="rgba(255,255,255,0.4)" stroke="#000" stroke-width="1.1"/>
<line x1="619.5" y1="153" x2="619.5" y2="157.4" stroke="#d4003a" stroke-width="1"/>
<line x1="619.5" y1="158.95" x2="619.5" y2="161.6" stroke="#d4003a" stroke-width="1"/>
<rect x="617" y="157.52" width="5" height="1.3" fill="#d4003a"/>
<line x1="624.5" y1="151" x2="624.5" y2="156.01" stroke="#000" stroke-width="1"/>
<line x1="624.5" y1="159.4" x2="624.5" y2="161" stroke="#000" stroke-width="1"/>
<rect x="622.5" y="156.01" width="4" height="3.39" fill="rgba(255,255,255,0.4)" stroke="#000" stroke-width="1.1"/>
<line x1="629.5" y1="141.6" x2="629.5" y2="142.91" stroke="#000" stroke-width="1"/>
<line x1="629.5" y1="149.2" x2="629.5" y2="149.8" stroke="#000" stroke-width="1"/>
<rect x="627.5" y="142.91" width="4" height="6.29" fill="rgba(255,255,255,0.4)" stroke="#000" stroke-width="1.1"/>
<line x1="634.5" y1="135.6" x2="634.5" y2="136.85" stroke="#000" stroke-width="1"/>
<line x1="634.5" y1="139.2" x2="634.5" y2="141.6" stroke="#000" stroke-width="1"/>
<rect x="632.5" y="136.85" width="4" height="2.35" fill="rgba(255,255,255,0.4)" stroke="#000" stroke-width="1.1"/>
<line x1="639.5" y1="136.6" x2="639.5" y2="139.6" stroke="#d4003a" stroke-width="1"/>
<line x1="639.5" y1="141.03" x2="639.5" y2="143.4" stroke="#d4003a" stroke-width="1"/>
<rect x="637" y="139.66" width="5" height="1.3" fill="#d4003a"/>
<line x1="644.5" y1="132" x2="644.5" y2="136.6" stroke="#000" stroke-width="1"/>
<line x1="644.5" y1="140.57" x2="644.5" y2="141" stroke="#000" stroke-width="1"/>
<rect x="642" y="136.1" width="5" height="4.97" fill="#000"/>
<line x1="649.5" y1="137.2" x2="649.5" y2="138.78" stroke="#000" stroke-width="1"/>
<line x1="649.5" y1="142.5" x2="649.5" y2="149.1" stroke="#000" stroke-width="1"/>
<rect x="647.5" y="138.78" width="4" height="3.72" fill="rgba(255,255,255,0.4)" stroke="#000" stroke-width="1.1"/>
<polyline fill="none" stroke="#0f6b0f" stroke-width="1.1" stroke-linejoin="round" points="170.7,403.2 182.1,401 196.4,398.6 210.7,396.9 222,395.6 234.3,393.6 248.6,391.4 262.9,388.9 277,386 291.4,381.4 305.7,377.6 317,374.8 329.3,371.4 343.6,367.1 357.9,364.7 372.1,360.7 386.4,357.9 400.7,353.6 412,351.8 424.3,349.3 438.6,346.4 452.9,342.1 467.1,339.3 481.4,336.9 494,334.8 508.6,332.3 537.1,325.7 565.7,318.6 594.3,313.7 622.9,307.1 649.5,300.1"/>
<polyline fill="none" stroke="#d8345a" stroke-width="1.15" stroke-linejoin="round" points="33,344.55 34.5,344.09 39.5,342.43 44.5,340.92 49.5,339.96 54.5,339.15 59.5,338.91 64.5,338.31 69.5,337.44 74.5,335.77 79.5,334.38 84.5,332.98 89.5,331.04 94.5,330.64 99.5,330.41 104.5,329.93 109.5,329.39 114.5,329.25 119.5,328.83 124.5,328.37 129.5,328.85 134.5,328.94 139.5,329.16 144.5,329.48 149.5,329.5 154.5,329.79 159.5,330.26 164.5,330.35 169.5,329.72 174.5,329.03 179.5,328.46 184.5,328.05 189.5,327.66 194.5,327.27 199.5,327.15 204.5,327.07 209.5,326.75 214.5,326.46 219.5,326.32 224.5,326.4 229.5,326.64 234.5,327.14 239.5,327.35 244.5,327.42 249.5,327.78 254.5,327.78 259.5,328.25 264.5,329.51 269.5,330.67 274.5,331.23 279.5,332.16 284.5,333.52 289.5,334.53 294.5,334.98 299.5,334.8 304.5,334.44 309.5,332.82 314.5,331.67 319.5,330.45 324.5,329.94 329.5,329 334.5,327.79 339.5,326.95 344.5,325.15 349.5,323.29 354.5,321.68 359.5,320.48 364.5,318.93 369.5,317.73 374.5,316.21 379.5,313.76 384.5,311.69 389.5,309.5 394.5,307.42 399.5,305.65 404.5,303.96 409.5,302.02 414.5,300.38 419.5,299.11 424.5,297.63 429.5,296.13 434.5,294.66 439.5,293.54 444.5,292.56 449.5,291.48 454.5,290.07 459.5,288.67 464.5,287.14 469.5,285.75 474.5,284.48 479.5,283.43 484.5,281.92 489.5,280.55 494.5,278.81 499.5,277.01 504.5,275.4 509.5,273.32 514.5,270.43 519.5,267.78 524.5,265.33 529.5,262.73 534.5,259.68 539.5,256.77 544.5,253.88 549.5,251.3 554.5,248.69 559.5,246.22 564.5,243.69 569.5,241.43 574.5,238.97 579.5,236.44 584.5,234.04 589.5,231.61 594.5,229.34 599.5,227.03 604.5,224.68 609.5,222.4 614.5,219.99 619.5,217.55 624.5,215.34 629.5,212.98 634.5,210.45 639.5,208.04 644.5,205.7 649.5,203.41"/>
<polyline fill="none" stroke="#23239a" stroke-width="1.2" stroke-linejoin="round" points="33,299.75 34.5,299.64 39.5,299.16 44.5,299.37 49.5,301.55 54.5,303.89 59.5,311.27 64.5,317.81 69.5,325.01 74.5,328.5 79.5,334.23 84.5,341.65 89.5,346.33 94.5,353.89 99.5,359.64 104.5,362 109.5,357.71 114.5,356.69 119.5,354.5 124.5,355.32 129.5,359.2 134.5,359.44 139.5,362.55 144.5,359.97 149.5,355.79 154.5,353.74 159.5,354.68 164.5,352.66 169.5,349.87 174.5,346.86 179.5,339.79 184.5,334.37 189.5,327.33 194.5,320.87 199.5,316.48 204.5,312.7 209.5,307.46 214.5,303.83 219.5,302.22 224.5,301.52 229.5,300.82 234.5,301.49 239.5,302.33 244.5,304.01 249.5,306.4 254.5,307.52 259.5,310.97 264.5,317.26 269.5,322.36 274.5,324.49 279.5,327.31 284.5,331.24 289.5,334.74 294.5,336.85 299.5,336.4 304.5,336.97 309.5,334 314.5,328.54 319.5,323.89 324.5,322.08 329.5,318.47 334.5,313.03 339.5,308.54 344.5,304.74 349.5,302 354.5,298.16 359.5,296.01 364.5,293.03 369.5,290.96 374.5,286.77 379.5,283.05 384.5,278.99 389.5,275.26 394.5,271.4 399.5,267.78 404.5,265.34 409.5,262.52 414.5,260.11 419.5,257.09 424.5,254.37 429.5,252.14 434.5,249.83 439.5,248.22 444.5,247.29 449.5,246.42 454.5,244.06 459.5,241.6 464.5,238.6 469.5,236.37 474.5,236.7 479.5,238.15 484.5,238.52 489.5,238.07 494.5,235.94 499.5,234.65 504.5,234.71 509.5,234.65 514.5,233.9 519.5,232.5 524.5,228.62 529.5,223.65 534.5,219.75 539.5,215.38 544.5,211.64 549.5,207.29 554.5,202.81 559.5,197.98 564.5,194.47 569.5,191.91 574.5,189.98 579.5,186.8 584.5,184.67 589.5,182.68 594.5,181.9 599.5,180.49 604.5,178 609.5,176.77 614.5,174.44 619.5,171.45 624.5,168.63 629.5,165.79 634.5,161.24 639.5,157.68 644.5,153.63 649.5,150.18"/>
<line x1="34.5" y1="417.5" x2="34.5" y2="514.5" stroke="rgba(0,0,0,0.115)" stroke-width="1"/>
<line x1="49.5" y1="417.5" x2="49.5" y2="514.5" stroke="rgba(0,0,0,0.24)" stroke-width="1"/>
<line x1="59.5" y1="417.5" x2="59.5" y2="514.5" stroke="rgba(0,0,0,0.115)" stroke-width="1"/>
<line x1="84.5" y1="417.5" x2="84.5" y2="514.5" stroke="rgba(0,0,0,0.115)" stroke-width="1"/>
<line x1="109.5" y1="417.5" x2="109.5" y2="514.5" stroke="rgba(0,0,0,0.115)" stroke-width="1"/>
<line x1="134.5" y1="417.5" x2="134.5" y2="514.5" stroke="rgba(0,0,0,0.115)" stroke-width="1"/>
<line x1="159.5" y1="417.5" x2="159.5" y2="514.5" stroke="rgba(0,0,0,0.24)" stroke-width="1"/>
<line x1="179.5" y1="417.5" x2="179.5" y2="514.5" stroke="rgba(0,0,0,0.115)" stroke-width="1"/>
<line x1="204.5" y1="417.5" x2="204.5" y2="514.5" stroke="rgba(0,0,0,0.115)" stroke-width="1"/>
<line x1="229.5" y1="417.5" x2="229.5" y2="514.5" stroke="rgba(0,0,0,0.115)" stroke-width="1"/>
<line x1="254.5" y1="417.5" x2="254.5" y2="514.5" stroke="rgba(0,0,0,0.115)" stroke-width="1"/>
<line x1="259.5" y1="417.5" x2="259.5" y2="514.5" stroke="rgba(0,0,0,0.24)" stroke-width="1"/>
<line x1="279.5" y1="417.5" x2="279.5" y2="514.5" stroke="rgba(0,0,0,0.115)" stroke-width="1"/>
<line x1="304.5" y1="417.5" x2="304.5" y2="514.5" stroke="rgba(0,0,0,0.115)" stroke-width="1"/>
<line x1="329.5" y1="417.5" x2="329.5" y2="514.5" stroke="rgba(0,0,0,0.115)" stroke-width="1"/>
<line x1="354.5" y1="417.5" x2="354.5" y2="514.5" stroke="rgba(0,0,0,0.115)" stroke-width="1"/>
<line x1="374.5" y1="417.5" x2="374.5" y2="514.5" stroke="rgba(0,0,0,0.24)" stroke-width="1"/>
<line x1="379.5" y1="417.5" x2="379.5" y2="514.5" stroke="rgba(0,0,0,0.115)" stroke-width="1"/>
<line x1="404.5" y1="417.5" x2="404.5" y2="514.5" stroke="rgba(0,0,0,0.115)" stroke-width="1"/>
<line x1="429.5" y1="417.5" x2="429.5" y2="514.5" stroke="rgba(0,0,0,0.115)" stroke-width="1"/>
<line x1="454.5" y1="417.5" x2="454.5" y2="514.5" stroke="rgba(0,0,0,0.115)" stroke-width="1"/>
<line x1="474.5" y1="417.5" x2="474.5" y2="514.5" stroke="rgba(0,0,0,0.24)" stroke-width="1"/>
<line x1="499.5" y1="417.5" x2="499.5" y2="514.5" stroke="rgba(0,0,0,0.115)" stroke-width="1"/>
<line x1="524.5" y1="417.5" x2="524.5" y2="514.5" stroke="rgba(0,0,0,0.115)" stroke-width="1"/>
<line x1="549.5" y1="417.5" x2="549.5" y2="514.5" stroke="rgba(0,0,0,0.115)" stroke-width="1"/>
<line x1="569.5" y1="417.5" x2="569.5" y2="514.5" stroke="rgba(0,0,0,0.115)" stroke-width="1"/>
<line x1="579.5" y1="417.5" x2="579.5" y2="514.5" stroke="rgba(0,0,0,0.24)" stroke-width="1"/>
<line x1="589.5" y1="417.5" x2="589.5" y2="514.5" stroke="rgba(0,0,0,0.115)" stroke-width="1"/>
<line x1="614.5" y1="417.5" x2="614.5" y2="514.5" stroke="rgba(0,0,0,0.115)" stroke-width="1"/>
<line x1="639.5" y1="417.5" x2="639.5" y2="514.5" stroke="rgba(0,0,0,0.115)" stroke-width="1"/>
<line x1="32.5" y1="424.5" x2="656.5" y2="424.5" stroke="rgba(0,0,0,0.115)"/>
<line x1="32.5" y1="437.5" x2="656.5" y2="437.5" stroke="rgba(0,0,0,0.115)"/>
<line x1="32.5" y1="450.5" x2="656.5" y2="450.5" stroke="rgba(0,0,0,0.115)"/>
<line x1="32.5" y1="463.5" x2="656.5" y2="463.5" stroke="rgba(0,0,0,0.115)"/>
<line x1="32.5" y1="475.5" x2="656.5" y2="475.5" stroke="rgba(0,0,0,0.115)"/>
<line x1="32.5" y1="488.5" x2="656.5" y2="488.5" stroke="rgba(0,0,0,0.115)"/>
<line x1="32.5" y1="501.5" x2="656.5" y2="501.5" stroke="rgba(0,0,0,0.115)"/>
<rect x="32.5" y="475.83" width="5" height="1.57" fill="#4fa0cf" stroke="#256f95" stroke-width="0.8"/>
<rect x="37.5" y="475.83" width="5" height="2.25" fill="#4fa0cf" stroke="#256f95" stroke-width="0.8"/>
<rect x="42.5" y="475.83" width="5" height="5.55" fill="#4fa0cf" stroke="#256f95" stroke-width="0.8"/>
<rect x="47.5" y="475.83" width="5" height="9.8" fill="#4fa0cf" stroke="#256f95" stroke-width="0.8"/>
<rect x="52.5" y="475.83" width="5" height="13.97" fill="#4fa0cf" stroke="#256f95" stroke-width="0.8"/>
<rect x="57.5" y="475.83" width="5" height="23.23" fill="#4fa0cf" stroke="#256f95" stroke-width="0.8"/>
<rect x="62.5" y="475.83" width="5" height="24.96" fill="#4fa0cf" stroke="#256f95" stroke-width="0.8"/>
<rect x="67.5" y="475.83" width="5" height="24.67" fill="#4fa0cf" stroke="#256f95" stroke-width="0.8"/>
<rect x="72.5" y="475.83" width="5" height="18.83" fill="#4fa0cf" stroke="#256f95" stroke-width="0.8"/>
<rect x="77.5" y="475.83" width="5" height="15.79" fill="#4fa0cf" stroke="#256f95" stroke-width="0.8"/>
<rect x="82.5" y="475.83" width="5" height="15.99" fill="#4fa0cf" stroke="#256f95" stroke-width="0.8"/>
<rect x="87.5" y="475.83" width="5" height="11.65" fill="#4fa0cf" stroke="#256f95" stroke-width="0.8"/>
<rect x="92.5" y="475.83" width="5" height="15.25" fill="#4fa0cf" stroke="#256f95" stroke-width="0.8"/>
<rect x="97.5" y="475.83" width="5" height="16.03" fill="#4fa0cf" stroke="#256f95" stroke-width="0.8"/>
<rect x="102.5" y="475.83" width="5" height="12.16" fill="#4fa0cf" stroke="#256f95" stroke-width="0.8"/>
<rect x="107.5" y="475.83" width="5" height="6.05" fill="#4fa0cf" stroke="#256f95" stroke-width="0.8"/>
<rect x="112.5" y="475.83" width="5" height="3.61" fill="#4fa0cf" stroke="#256f95" stroke-width="0.8"/>
<rect x="117.5" y="475.56" width="5" height="0.3" fill="#4fa0cf" stroke="#256f95" stroke-width="0.8"/>
<rect x="122.5" y="473.07" width="5" height="2.76" fill="#4fa0cf" stroke="#256f95" stroke-width="0.8"/>
<rect x="127.5" y="475.83" width="5" height="1.83" fill="#4fa0cf" stroke="#256f95" stroke-width="0.8"/>
<rect x="132.5" y="475.83" width="5" height="1.86" fill="#4fa0cf" stroke="#256f95" stroke-width="0.8"/>
<rect x="137.5" y="475.83" width="5" height="2.33" fill="#4fa0cf" stroke="#256f95" stroke-width="0.8"/>
<rect x="142.5" y="475.83" width="5" height="0.76" fill="#4fa0cf" stroke="#256f95" stroke-width="0.8"/>
<rect x="147.5" y="472.35" width="5" height="3.48" fill="#4fa0cf" stroke="#256f95" stroke-width="0.8"/>
<rect x="152.5" y="469.53" width="5" height="6.3" fill="#4fa0cf" stroke="#256f95" stroke-width="0.8"/>
<rect x="157.5" y="469.55" width="5" height="6.28" fill="#4fa0cf" stroke="#256f95" stroke-width="0.8"/>
<rect x="162.5" y="467.14" width="5" height="8.69" fill="#4fa0cf" stroke="#256f95" stroke-width="0.8"/>
<rect x="167.5" y="462.81" width="5" height="13.02" fill="#4fa0cf" stroke="#256f95" stroke-width="0.8"/>
<rect x="172.5" y="460.43" width="5" height="15.4" fill="#4fa0cf" stroke="#256f95" stroke-width="0.8"/>
<rect x="177.5" y="459.68" width="5" height="16.15" fill="#4fa0cf" stroke="#256f95" stroke-width="0.8"/>
<rect x="182.5" y="459.92" width="5" height="15.91" fill="#4fa0cf" stroke="#256f95" stroke-width="0.8"/>
<rect x="187.5" y="459.13" width="5" height="16.7" fill="#4fa0cf" stroke="#256f95" stroke-width="0.8"/>
<rect x="192.5" y="458.83" width="5" height="17" fill="#4fa0cf" stroke="#256f95" stroke-width="0.8"/>
<rect x="197.5" y="459.77" width="5" height="16.06" fill="#4fa0cf" stroke="#256f95" stroke-width="0.8"/>
<rect x="202.5" y="462.07" width="5" height="13.76" fill="#4fa0cf" stroke="#256f95" stroke-width="0.8"/>
<rect x="207.5" y="463.73" width="5" height="12.1" fill="#4fa0cf" stroke="#256f95" stroke-width="0.8"/>
<rect x="212.5" y="465.48" width="5" height="10.35" fill="#4fa0cf" stroke="#256f95" stroke-width="0.8"/>
<rect x="217.5" y="467.29" width="5" height="8.54" fill="#4fa0cf" stroke="#256f95" stroke-width="0.8"/>
<rect x="222.5" y="470.28" width="5" height="5.55" fill="#4fa0cf" stroke="#256f95" stroke-width="0.8"/>
<rect x="227.5" y="472.68" width="5" height="3.15" fill="#4fa0cf" stroke="#256f95" stroke-width="0.8"/>
<rect x="232.5" y="475.83" width="5" height="0.81" fill="#4fa0cf" stroke="#256f95" stroke-width="0.8"/>
<rect x="237.5" y="475.83" width="5" height="1.96" fill="#4fa0cf" stroke="#256f95" stroke-width="0.8"/>
<rect x="242.5" y="475.83" width="5" height="3.39" fill="#4fa0cf" stroke="#256f95" stroke-width="0.8"/>
<rect x="247.5" y="475.83" width="5" height="5.61" fill="#4fa0cf" stroke="#256f95" stroke-width="0.8"/>
<rect x="252.5" y="475.83" width="5" height="5.68" fill="#4fa0cf" stroke="#256f95" stroke-width="0.8"/>
<rect x="257.5" y="475.83" width="5" height="8.59" fill="#4fa0cf" stroke="#256f95" stroke-width="0.8"/>
<rect x="262.5" y="475.83" width="5" height="14.44" fill="#4fa0cf" stroke="#256f95" stroke-width="0.8"/>
<rect x="267.5" y="475.83" width="5" height="15.59" fill="#4fa0cf" stroke="#256f95" stroke-width="0.8"/>
<rect x="272.5" y="475.83" width="5" height="12.2" fill="#4fa0cf" stroke="#256f95" stroke-width="0.8"/>
<rect x="277.5" y="475.83" width="5" height="10.58" fill="#4fa0cf" stroke="#256f95" stroke-width="0.8"/>
<rect x="282.5" y="475.83" width="5" height="12.79" fill="#4fa0cf" stroke="#256f95" stroke-width="0.8"/>
<rect x="287.5" y="475.83" width="5" height="11.37" fill="#4fa0cf" stroke="#256f95" stroke-width="0.8"/>
<rect x="292.5" y="475.83" width="5" height="8.33" fill="#4fa0cf" stroke="#256f95" stroke-width="0.8"/>
<rect x="297.5" y="475.83" width="5" height="3.32" fill="#4fa0cf" stroke="#256f95" stroke-width="0.8"/>
<rect x="302.5" y="475.83" width="5" height="0.31" fill="#4fa0cf" stroke="#256f95" stroke-width="0.8"/>
<rect x="307.5" y="471.77" width="5" height="4.06" fill="#4fa0cf" stroke="#256f95" stroke-width="0.8"/>
<rect x="312.5" y="469.7" width="5" height="6.13" fill="#4fa0cf" stroke="#256f95" stroke-width="0.8"/>
<rect x="317.5" y="468.03" width="5" height="7.8" fill="#4fa0cf" stroke="#256f95" stroke-width="0.8"/>
<rect x="322.5" y="468.36" width="5" height="7.47" fill="#4fa0cf" stroke="#256f95" stroke-width="0.8"/>
<rect x="327.5" y="467.29" width="5" height="8.54" fill="#4fa0cf" stroke="#256f95" stroke-width="0.8"/>
<rect x="332.5" y="467.98" width="5" height="7.85" fill="#4fa0cf" stroke="#256f95" stroke-width="0.8"/>
<rect x="337.5" y="468.18" width="5" height="7.65" fill="#4fa0cf" stroke="#256f95" stroke-width="0.8"/>
<rect x="342.5" y="468.31" width="5" height="7.52" fill="#4fa0cf" stroke="#256f95" stroke-width="0.8"/>
<rect x="347.5" y="467.86" width="5" height="7.97" fill="#4fa0cf" stroke="#256f95" stroke-width="0.8"/>
<rect x="352.5" y="466.73" width="5" height="9.1" fill="#4fa0cf" stroke="#256f95" stroke-width="0.8"/>
<rect x="357.5" y="466.83" width="5" height="9" fill="#4fa0cf" stroke="#256f95" stroke-width="0.8"/>
<rect x="362.5" y="466.7" width="5" height="9.13" fill="#4fa0cf" stroke="#256f95" stroke-width="0.8"/>
<rect x="367.5" y="468.02" width="5" height="7.81" fill="#4fa0cf" stroke="#256f95" stroke-width="0.8"/>
<rect x="372.5" y="467.04" width="5" height="8.79" fill="#4fa0cf" stroke="#256f95" stroke-width="0.8"/>
<rect x="377.5" y="466.16" width="5" height="9.67" fill="#4fa0cf" stroke="#256f95" stroke-width="0.8"/>
<rect x="382.5" y="466.65" width="5" height="9.18" fill="#4fa0cf" stroke="#256f95" stroke-width="0.8"/>
<rect x="387.5" y="467.51" width="5" height="8.32" fill="#4fa0cf" stroke="#256f95" stroke-width="0.8"/>
<rect x="392.5" y="468.06" width="5" height="7.77" fill="#4fa0cf" stroke="#256f95" stroke-width="0.8"/>
<rect x="397.5" y="468.45" width="5" height="7.38" fill="#4fa0cf" stroke="#256f95" stroke-width="0.8"/>
<rect x="402.5" y="469.89" width="5" height="5.94" fill="#4fa0cf" stroke="#256f95" stroke-width="0.8"/>
<rect x="407.5" y="471.02" width="5" height="4.81" fill="#4fa0cf" stroke="#256f95" stroke-width="0.8"/>
<rect x="412.5" y="472.12" width="5" height="3.71" fill="#4fa0cf" stroke="#256f95" stroke-width="0.8"/>
<rect x="417.5" y="473.14" width="5" height="2.69" fill="#4fa0cf" stroke="#256f95" stroke-width="0.8"/>
<rect x="422.5" y="472.3" width="5" height="3.53" fill="#4fa0cf" stroke="#256f95" stroke-width="0.8"/>
<rect x="427.5" y="472.19" width="5" height="3.64" fill="#4fa0cf" stroke="#256f95" stroke-width="0.8"/>
<rect x="432.5" y="472.81" width="5" height="3.02" fill="#4fa0cf" stroke="#256f95" stroke-width="0.8"/>
<rect x="437.5" y="474.69" width="5" height="1.14" fill="#4fa0cf" stroke="#256f95" stroke-width="0.8"/>
<rect x="442.5" y="475.83" width="5" height="0.86" fill="#4fa0cf" stroke="#256f95" stroke-width="0.8"/>
<rect x="447.5" y="475.83" width="5" height="1.89" fill="#4fa0cf" stroke="#256f95" stroke-width="0.8"/>
<rect x="452.5" y="475.83" width="5" height="0.88" fill="#4fa0cf" stroke="#256f95" stroke-width="0.8"/>
<rect x="457.5" y="475.83" width="5" height="0.3" fill="#4fa0cf" stroke="#256f95" stroke-width="0.8"/>
<rect x="462.5" y="474.56" width="5" height="1.27" fill="#4fa0cf" stroke="#256f95" stroke-width="0.8"/>
<rect x="467.5" y="475.23" width="5" height="0.6" fill="#4fa0cf" stroke="#256f95" stroke-width="0.8"/>
<rect x="472.5" y="475.83" width="5" height="2.44" fill="#4fa0cf" stroke="#256f95" stroke-width="0.8"/>
<rect x="477.5" y="475.83" width="5" height="6.26" fill="#4fa0cf" stroke="#256f95" stroke-width="0.8"/>
<rect x="482.5" y="475.83" width="5" height="7.07" fill="#4fa0cf" stroke="#256f95" stroke-width="0.8"/>
<rect x="487.5" y="475.83" width="5" height="7.16" fill="#4fa0cf" stroke="#256f95" stroke-width="0.8"/>
<rect x="492.5" y="475.83" width="5" height="4.81" fill="#4fa0cf" stroke="#256f95" stroke-width="0.8"/>
<rect x="497.5" y="475.83" width="5" height="4.21" fill="#4fa0cf" stroke="#256f95" stroke-width="0.8"/>
<rect x="502.5" y="475.83" width="5" height="4.18" fill="#4fa0cf" stroke="#256f95" stroke-width="0.8"/>
<rect x="507.5" y="475.83" width="5" height="3.48" fill="#4fa0cf" stroke="#256f95" stroke-width="0.8"/>
<rect x="512.5" y="475.83" width="5" height="0.92" fill="#4fa0cf" stroke="#256f95" stroke-width="0.8"/>
<rect x="517.5" y="475.35" width="5" height="0.48" fill="#4fa0cf" stroke="#256f95" stroke-width="0.8"/>
<rect x="522.5" y="472.92" width="5" height="2.91" fill="#4fa0cf" stroke="#256f95" stroke-width="0.8"/>
<rect x="527.5" y="471.74" width="5" height="4.09" fill="#4fa0cf" stroke="#256f95" stroke-width="0.8"/>
<rect x="532.5" y="471.61" width="5" height="4.22" fill="#4fa0cf" stroke="#256f95" stroke-width="0.8"/>
<rect x="537.5" y="470.89" width="5" height="4.94" fill="#4fa0cf" stroke="#256f95" stroke-width="0.8"/>
<rect x="542.5" y="469.71" width="5" height="6.12" fill="#4fa0cf" stroke="#256f95" stroke-width="0.8"/>
<rect x="547.5" y="469.38" width="5" height="6.45" fill="#4fa0cf" stroke="#256f95" stroke-width="0.8"/>
<rect x="552.5" y="469.9" width="5" height="5.93" fill="#4fa0cf" stroke="#256f95" stroke-width="0.8"/>
<rect x="557.5" y="469.54" width="5" height="6.29" fill="#4fa0cf" stroke="#256f95" stroke-width="0.8"/>
<rect x="562.5" y="470" width="5" height="5.83" fill="#4fa0cf" stroke="#256f95" stroke-width="0.8"/>
<rect x="567.5" y="472.5" width="5" height="3.33" fill="#4fa0cf" stroke="#256f95" stroke-width="0.8"/>
<rect x="572.5" y="473.86" width="5" height="1.97" fill="#4fa0cf" stroke="#256f95" stroke-width="0.8"/>
<rect x="577.5" y="472.98" width="5" height="2.85" fill="#4fa0cf" stroke="#256f95" stroke-width="0.8"/>
<rect x="582.5" y="474.87" width="5" height="0.96" fill="#4fa0cf" stroke="#256f95" stroke-width="0.8"/>
<rect x="587.5" y="475.56" width="5" height="0.3" fill="#4fa0cf" stroke="#256f95" stroke-width="0.8"/>
<rect x="592.5" y="475.83" width="5" height="1.32" fill="#4fa0cf" stroke="#256f95" stroke-width="0.8"/>
<rect x="597.5" y="475.83" width="5" height="1.35" fill="#4fa0cf" stroke="#256f95" stroke-width="0.8"/>
<rect x="602.5" y="475.75" width="5" height="0.3" fill="#4fa0cf" stroke="#256f95" stroke-width="0.8"/>
<rect x="607.5" y="475.83" width="5" height="0.3" fill="#4fa0cf" stroke="#256f95" stroke-width="0.8"/>
<rect x="612.5" y="474.7" width="5" height="1.13" fill="#4fa0cf" stroke="#256f95" stroke-width="0.8"/>
<rect x="617.5" y="474.74" width="5" height="1.09" fill="#4fa0cf" stroke="#256f95" stroke-width="0.8"/>
<rect x="622.5" y="474.72" width="5" height="1.11" fill="#4fa0cf" stroke="#256f95" stroke-width="0.8"/>
<rect x="627.5" y="472.91" width="5" height="2.92" fill="#4fa0cf" stroke="#256f95" stroke-width="0.8"/>
<rect x="632.5" y="471.29" width="5" height="4.54" fill="#4fa0cf" stroke="#256f95" stroke-width="0.8"/>
<rect x="637.5" y="471.66" width="5" height="4.17" fill="#4fa0cf" stroke="#256f95" stroke-width="0.8"/>
<rect x="642.5" y="472.45" width="5" height="3.38" fill="#4fa0cf" stroke="#256f95" stroke-width="0.8"/>
<rect x="647.5" y="473.25" width="5" height="2.58" fill="#4fa0cf" stroke="#256f95" stroke-width="0.8"/>
<polyline fill="none" stroke="#ee2222" stroke-width="1.2" stroke-linejoin="round" points="33,442.79 34.5,442.91 39.5,443.47 44.5,444.86 49.5,447.31 54.5,450.8 59.5,456.61 64.5,462.85 69.5,469.02 74.5,473.73 79.5,477.67 84.5,481.67 89.5,484.58 94.5,488.4 99.5,492.4 104.5,495.44 109.5,496.96 114.5,497.86 119.5,497.79 124.5,497.1 129.5,497.56 134.5,498.03 139.5,498.61 144.5,498.8 149.5,497.93 154.5,496.35 159.5,494.78 164.5,492.61 169.5,489.35 174.5,485.5 179.5,481.46 184.5,477.49 189.5,473.31 194.5,469.06 199.5,465.05 204.5,461.61 209.5,458.58 214.5,456 219.5,453.86 224.5,452.47 229.5,451.69 234.5,451.89 239.5,452.38 244.5,453.23 249.5,454.63 254.5,456.05 259.5,458.2 264.5,461.81 269.5,465.71 274.5,468.75 279.5,471.4 284.5,474.6 289.5,477.44 294.5,479.52 299.5,480.35 304.5,480.43 309.5,479.41 314.5,477.88 319.5,475.93 324.5,474.06 329.5,471.93 334.5,469.97 339.5,468.05 344.5,466.17 349.5,464.18 354.5,461.9 359.5,459.65 364.5,457.37 369.5,455.42 374.5,453.22 379.5,450.81 384.5,448.51 389.5,446.43 394.5,444.49 399.5,442.64 404.5,441.16 409.5,439.95 414.5,439.03 419.5,438.35 424.5,437.47 429.5,436.56 434.5,435.8 439.5,435.52 444.5,435.74 449.5,436.21 454.5,436.43 459.5,436.43 464.5,436.11 469.5,435.96 474.5,436.57 479.5,438.14 484.5,439.91 489.5,441.7 494.5,442.9 499.5,443.95 504.5,444.99 509.5,445.86 514.5,446.09 519.5,445.97 524.5,445.25 529.5,444.22 534.5,443.17 539.5,441.94 544.5,440.41 549.5,438.79 554.5,437.31 559.5,435.74 564.5,434.28 569.5,433.45 574.5,432.95 579.5,432.24 584.5,432 589.5,431.93 594.5,432.26 599.5,432.6 604.5,432.58 609.5,432.63 614.5,432.35 619.5,432.07 624.5,431.8 629.5,431.07 634.5,429.93 639.5,428.89 644.5,428.05 649.5,427.4"/>
<polyline fill="none" stroke="#000" stroke-width="1.7" stroke-linejoin="round" points="33,444.44 34.5,444.48 39.5,445.73 44.5,450.41 49.5,457.11 54.5,464.77 59.5,479.84 64.5,487.81 69.5,493.69 74.5,492.56 79.5,493.47 84.5,497.66 89.5,496.23 94.5,503.65 99.5,508.43 104.5,507.6 109.5,503.01 114.5,501.47 119.5,497.53 124.5,494.34 129.5,499.39 134.5,499.88 139.5,500.94 144.5,499.55 149.5,494.45 154.5,490.05 159.5,488.5 164.5,483.92 169.5,476.33 174.5,470.1 179.5,465.31 184.5,461.58 189.5,456.62 194.5,452.06 199.5,448.99 204.5,447.85 209.5,446.48 214.5,445.64 219.5,445.32 224.5,446.93 229.5,448.54 234.5,452.69 239.5,454.34 244.5,456.62 249.5,460.24 254.5,461.73 259.5,466.79 264.5,476.25 269.5,481.29 274.5,480.95 279.5,481.98 284.5,487.39 289.5,488.8 294.5,487.85 299.5,483.67 304.5,480.73 309.5,475.35 314.5,471.75 319.5,468.14 324.5,466.59 329.5,463.39 334.5,462.12 339.5,460.4 344.5,458.65 349.5,456.21 354.5,452.8 359.5,450.65 364.5,448.24 369.5,447.61 374.5,444.43 379.5,441.14 384.5,439.33 389.5,438.1 394.5,436.72 399.5,435.26 404.5,435.21 409.5,435.14 414.5,435.32 419.5,435.66 424.5,433.94 429.5,432.91 434.5,432.79 439.5,434.38 444.5,436.6 449.5,438.1 454.5,437.31 459.5,436.43 464.5,434.85 469.5,435.37 474.5,439.01 479.5,444.4 484.5,446.98 489.5,448.85 494.5,447.71 499.5,448.16 504.5,449.17 509.5,449.34 514.5,447.01 519.5,445.5 524.5,442.34 529.5,440.13 534.5,438.96 539.5,437 544.5,434.28 549.5,432.34 554.5,431.38 559.5,429.45 564.5,428.45 569.5,430.12 574.5,430.98 579.5,429.39 584.5,431.04 589.5,431.66 594.5,433.59 599.5,433.95 604.5,432.5 609.5,432.82 614.5,431.22 619.5,430.99 624.5,430.69 629.5,428.15 634.5,425.4 639.5,424.72 644.5,424.67 649.5,424.82"/>
<rect x="32.5" y="28.5" width="624.0" height="97.0" fill="none" stroke="#a9a9a9"/>
<rect x="32.5" y="125.5" width="624.0" height="278.0" fill="none" stroke="#a9a9a9"/>
<rect x="32.5" y="417.5" width="624.0" height="97.0" fill="none" stroke="#a9a9a9"/>
<line x1="34.5" y1="404" x2="34.5" y2="406" stroke="#b4b4b4"/>
<line x1="34.5" y1="415" x2="34.5" y2="417" stroke="#b4b4b4"/>
<line x1="34.5" y1="515" x2="34.5" y2="517" stroke="#b4b4b4"/>
<line x1="39.5" y1="404" x2="39.5" y2="405.2" stroke="#cfcfcf"/>
<line x1="39.5" y1="415.8" x2="39.5" y2="417" stroke="#cfcfcf"/>
<line x1="39.5" y1="515" x2="39.5" y2="516.2" stroke="#cfcfcf"/>
<line x1="44.5" y1="404" x2="44.5" y2="405.2" stroke="#cfcfcf"/>
<line x1="44.5" y1="415.8" x2="44.5" y2="417" stroke="#cfcfcf"/>
<line x1="44.5" y1="515" x2="44.5" y2="516.2" stroke="#cfcfcf"/>
<line x1="49.5" y1="404" x2="49.5" y2="406" stroke="#b4b4b4"/>
<line x1="49.5" y1="415" x2="49.5" y2="417" stroke="#b4b4b4"/>
<line x1="49.5" y1="515" x2="49.5" y2="517" stroke="#b4b4b4"/>
<line x1="54.5" y1="404" x2="54.5" y2="405.2" stroke="#cfcfcf"/>
<line x1="54.5" y1="415.8" x2="54.5" y2="417" stroke="#cfcfcf"/>
<line x1="54.5" y1="515" x2="54.5" y2="516.2" stroke="#cfcfcf"/>
<line x1="59.5" y1="404" x2="59.5" y2="405.2" stroke="#cfcfcf"/>
<line x1="59.5" y1="415.8" x2="59.5" y2="417" stroke="#cfcfcf"/>
<line x1="59.5" y1="515" x2="59.5" y2="516.2" stroke="#cfcfcf"/>
<line x1="64.5" y1="404" x2="64.5" y2="405.2" stroke="#cfcfcf"/>
<line x1="64.5" y1="415.8" x2="64.5" y2="417" stroke="#cfcfcf"/>
<line x1="64.5" y1="515" x2="64.5" y2="516.2" stroke="#cfcfcf"/>
<line x1="69.5" y1="404" x2="69.5" y2="405.2" stroke="#cfcfcf"/>
<line x1="69.5" y1="415.8" x2="69.5" y2="417" stroke="#cfcfcf"/>
<line x1="69.5" y1="515" x2="69.5" y2="516.2" stroke="#cfcfcf"/>
<line x1="74.5" y1="404" x2="74.5" y2="405.2" stroke="#cfcfcf"/>
<line x1="74.5" y1="415.8" x2="74.5" y2="417" stroke="#cfcfcf"/>
<line x1="74.5" y1="515" x2="74.5" y2="516.2" stroke="#cfcfcf"/>
<line x1="79.5" y1="404" x2="79.5" y2="405.2" stroke="#cfcfcf"/>
<line x1="79.5" y1="415.8" x2="79.5" y2="417" stroke="#cfcfcf"/>
<line x1="79.5" y1="515" x2="79.5" y2="516.2" stroke="#cfcfcf"/>
<line x1="84.5" y1="404" x2="84.5" y2="406" stroke="#b4b4b4"/>
<line x1="84.5" y1="415" x2="84.5" y2="417" stroke="#b4b4b4"/>
<line x1="84.5" y1="515" x2="84.5" y2="517" stroke="#b4b4b4"/>
<line x1="89.5" y1="404" x2="89.5" y2="405.2" stroke="#cfcfcf"/>
<line x1="89.5" y1="415.8" x2="89.5" y2="417" stroke="#cfcfcf"/>
<line x1="89.5" y1="515" x2="89.5" y2="516.2" stroke="#cfcfcf"/>
<line x1="94.5" y1="404" x2="94.5" y2="405.2" stroke="#cfcfcf"/>
<line x1="94.5" y1="415.8" x2="94.5" y2="417" stroke="#cfcfcf"/>
<line x1="94.5" y1="515" x2="94.5" y2="516.2" stroke="#cfcfcf"/>
<line x1="99.5" y1="404" x2="99.5" y2="405.2" stroke="#cfcfcf"/>
<line x1="99.5" y1="415.8" x2="99.5" y2="417" stroke="#cfcfcf"/>
<line x1="99.5" y1="515" x2="99.5" y2="516.2" stroke="#cfcfcf"/>
<line x1="104.5" y1="404" x2="104.5" y2="405.2" stroke="#cfcfcf"/>
<line x1="104.5" y1="415.8" x2="104.5" y2="417" stroke="#cfcfcf"/>
<line x1="104.5" y1="515" x2="104.5" y2="516.2" stroke="#cfcfcf"/>
<line x1="109.5" y1="404" x2="109.5" y2="406" stroke="#b4b4b4"/>
<line x1="109.5" y1="415" x2="109.5" y2="417" stroke="#b4b4b4"/>
<line x1="109.5" y1="515" x2="109.5" y2="517" stroke="#b4b4b4"/>
<line x1="114.5" y1="404" x2="114.5" y2="405.2" stroke="#cfcfcf"/>
<line x1="114.5" y1="415.8" x2="114.5" y2="417" stroke="#cfcfcf"/>
<line x1="114.5" y1="515" x2="114.5" y2="516.2" stroke="#cfcfcf"/>
<line x1="119.5" y1="404" x2="119.5" y2="405.2" stroke="#cfcfcf"/>
<line x1="119.5" y1="415.8" x2="119.5" y2="417" stroke="#cfcfcf"/>
<line x1="119.5" y1="515" x2="119.5" y2="516.2" stroke="#cfcfcf"/>
<line x1="124.5" y1="404" x2="124.5" y2="405.2" stroke="#cfcfcf"/>
<line x1="124.5" y1="415.8" x2="124.5" y2="417" stroke="#cfcfcf"/>
<line x1="124.5" y1="515" x2="124.5" y2="516.2" stroke="#cfcfcf"/>
<line x1="129.5" y1="404" x2="129.5" y2="405.2" stroke="#cfcfcf"/>
<line x1="129.5" y1="415.8" x2="129.5" y2="417" stroke="#cfcfcf"/>
<line x1="129.5" y1="515" x2="129.5" y2="516.2" stroke="#cfcfcf"/>
<line x1="134.5" y1="404" x2="134.5" y2="406" stroke="#b4b4b4"/>
<line x1="134.5" y1="415" x2="134.5" y2="417" stroke="#b4b4b4"/>
<line x1="134.5" y1="515" x2="134.5" y2="517" stroke="#b4b4b4"/>
<line x1="139.5" y1="404" x2="139.5" y2="405.2" stroke="#cfcfcf"/>
<line x1="139.5" y1="415.8" x2="139.5" y2="417" stroke="#cfcfcf"/>
<line x1="139.5" y1="515" x2="139.5" y2="516.2" stroke="#cfcfcf"/>
<line x1="144.5" y1="404" x2="144.5" y2="405.2" stroke="#cfcfcf"/>
<line x1="144.5" y1="415.8" x2="144.5" y2="417" stroke="#cfcfcf"/>
<line x1="144.5" y1="515" x2="144.5" y2="516.2" stroke="#cfcfcf"/>
<line x1="149.5" y1="404" x2="149.5" y2="405.2" stroke="#cfcfcf"/>
<line x1="149.5" y1="415.8" x2="149.5" y2="417" stroke="#cfcfcf"/>
<line x1="149.5" y1="515" x2="149.5" y2="516.2" stroke="#cfcfcf"/>
<line x1="154.5" y1="404" x2="154.5" y2="405.2" stroke="#cfcfcf"/>
<line x1="154.5" y1="415.8" x2="154.5" y2="417" stroke="#cfcfcf"/>
<line x1="154.5" y1="515" x2="154.5" y2="516.2" stroke="#cfcfcf"/>
<line x1="159.5" y1="404" x2="159.5" y2="406" stroke="#b4b4b4"/>
<line x1="159.5" y1="415" x2="159.5" y2="417" stroke="#b4b4b4"/>
<line x1="159.5" y1="515" x2="159.5" y2="517" stroke="#b4b4b4"/>
<line x1="164.5" y1="404" x2="164.5" y2="405.2" stroke="#cfcfcf"/>
<line x1="164.5" y1="415.8" x2="164.5" y2="417" stroke="#cfcfcf"/>
<line x1="164.5" y1="515" x2="164.5" y2="516.2" stroke="#cfcfcf"/>
<line x1="169.5" y1="404" x2="169.5" y2="405.2" stroke="#cfcfcf"/>
<line x1="169.5" y1="415.8" x2="169.5" y2="417" stroke="#cfcfcf"/>
<line x1="169.5" y1="515" x2="169.5" y2="516.2" stroke="#cfcfcf"/>
<line x1="174.5" y1="404" x2="174.5" y2="405.2" stroke="#cfcfcf"/>
<line x1="174.5" y1="415.8" x2="174.5" y2="417" stroke="#cfcfcf"/>
<line x1="174.5" y1="515" x2="174.5" y2="516.2" stroke="#cfcfcf"/>
<line x1="179.5" y1="404" x2="179.5" y2="406" stroke="#b4b4b4"/>
<line x1="179.5" y1="415" x2="179.5" y2="417" stroke="#b4b4b4"/>
<line x1="179.5" y1="515" x2="179.5" y2="517" stroke="#b4b4b4"/>
<line x1="184.5" y1="404" x2="184.5" y2="405.2" stroke="#cfcfcf"/>
<line x1="184.5" y1="415.8" x2="184.5" y2="417" stroke="#cfcfcf"/>
<line x1="184.5" y1="515" x2="184.5" y2="516.2" stroke="#cfcfcf"/>
<line x1="189.5" y1="404" x2="189.5" y2="405.2" stroke="#cfcfcf"/>
<line x1="189.5" y1="415.8" x2="189.5" y2="417" stroke="#cfcfcf"/>
<line x1="189.5" y1="515" x2="189.5" y2="516.2" stroke="#cfcfcf"/>
<line x1="194.5" y1="404" x2="194.5" y2="405.2" stroke="#cfcfcf"/>
<line x1="194.5" y1="415.8" x2="194.5" y2="417" stroke="#cfcfcf"/>
<line x1="194.5" y1="515" x2="194.5" y2="516.2" stroke="#cfcfcf"/>
<line x1="199.5" y1="404" x2="199.5" y2="405.2" stroke="#cfcfcf"/>
<line x1="199.5" y1="415.8" x2="199.5" y2="417" stroke="#cfcfcf"/>
<line x1="199.5" y1="515" x2="199.5" y2="516.2" stroke="#cfcfcf"/>
<line x1="204.5" y1="404" x2="204.5" y2="406" stroke="#b4b4b4"/>
<line x1="204.5" y1="415" x2="204.5" y2="417" stroke="#b4b4b4"/>
<line x1="204.5" y1="515" x2="204.5" y2="517" stroke="#b4b4b4"/>
<line x1="209.5" y1="404" x2="209.5" y2="405.2" stroke="#cfcfcf"/>
<line x1="209.5" y1="415.8" x2="209.5" y2="417" stroke="#cfcfcf"/>
<line x1="209.5" y1="515" x2="209.5" y2="516.2" stroke="#cfcfcf"/>
<line x1="214.5" y1="404" x2="214.5" y2="405.2" stroke="#cfcfcf"/>
<line x1="214.5" y1="415.8" x2="214.5" y2="417" stroke="#cfcfcf"/>
<line x1="214.5" y1="515" x2="214.5" y2="516.2" stroke="#cfcfcf"/>
<line x1="219.5" y1="404" x2="219.5" y2="405.2" stroke="#cfcfcf"/>
<line x1="219.5" y1="415.8" x2="219.5" y2="417" stroke="#cfcfcf"/>
<line x1="219.5" y1="515" x2="219.5" y2="516.2" stroke="#cfcfcf"/>
<line x1="224.5" y1="404" x2="224.5" y2="405.2" stroke="#cfcfcf"/>
<line x1="224.5" y1="415.8" x2="224.5" y2="417" stroke="#cfcfcf"/>
<line x1="224.5" y1="515" x2="224.5" y2="516.2" stroke="#cfcfcf"/>
<line x1="229.5" y1="404" x2="229.5" y2="406" stroke="#b4b4b4"/>
<line x1="229.5" y1="415" x2="229.5" y2="417" stroke="#b4b4b4"/>
<line x1="229.5" y1="515" x2="229.5" y2="517" stroke="#b4b4b4"/>
<line x1="234.5" y1="404" x2="234.5" y2="405.2" stroke="#cfcfcf"/>
<line x1="234.5" y1="415.8" x2="234.5" y2="417" stroke="#cfcfcf"/>
<line x1="234.5" y1="515" x2="234.5" y2="516.2" stroke="#cfcfcf"/>
<line x1="239.5" y1="404" x2="239.5" y2="405.2" stroke="#cfcfcf"/>
<line x1="239.5" y1="415.8" x2="239.5" y2="417" stroke="#cfcfcf"/>
<line x1="239.5" y1="515" x2="239.5" y2="516.2" stroke="#cfcfcf"/>
<line x1="244.5" y1="404" x2="244.5" y2="405.2" stroke="#cfcfcf"/>
<line x1="244.5" y1="415.8" x2="244.5" y2="417" stroke="#cfcfcf"/>
<line x1="244.5" y1="515" x2="244.5" y2="516.2" stroke="#cfcfcf"/>
<line x1="249.5" y1="404" x2="249.5" y2="405.2" stroke="#cfcfcf"/>
<line x1="249.5" y1="415.8" x2="249.5" y2="417" stroke="#cfcfcf"/>
<line x1="249.5" y1="515" x2="249.5" y2="516.2" stroke="#cfcfcf"/>
<line x1="254.5" y1="404" x2="254.5" y2="405.2" stroke="#cfcfcf"/>
<line x1="254.5" y1="415.8" x2="254.5" y2="417" stroke="#cfcfcf"/>
<line x1="254.5" y1="515" x2="254.5" y2="516.2" stroke="#cfcfcf"/>
<line x1="259.5" y1="404" x2="259.5" y2="406" stroke="#b4b4b4"/>
<line x1="259.5" y1="415" x2="259.5" y2="417" stroke="#b4b4b4"/>
<line x1="259.5" y1="515" x2="259.5" y2="517" stroke="#b4b4b4"/>
<line x1="264.5" y1="404" x2="264.5" y2="405.2" stroke="#cfcfcf"/>
<line x1="264.5" y1="415.8" x2="264.5" y2="417" stroke="#cfcfcf"/>
<line x1="264.5" y1="515" x2="264.5" y2="516.2" stroke="#cfcfcf"/>
<line x1="269.5" y1="404" x2="269.5" y2="405.2" stroke="#cfcfcf"/>
<line x1="269.5" y1="415.8" x2="269.5" y2="417" stroke="#cfcfcf"/>
<line x1="269.5" y1="515" x2="269.5" y2="516.2" stroke="#cfcfcf"/>
<line x1="274.5" y1="404" x2="274.5" y2="405.2" stroke="#cfcfcf"/>
<line x1="274.5" y1="415.8" x2="274.5" y2="417" stroke="#cfcfcf"/>
<line x1="274.5" y1="515" x2="274.5" y2="516.2" stroke="#cfcfcf"/>
<line x1="279.5" y1="404" x2="279.5" y2="406" stroke="#b4b4b4"/>
<line x1="279.5" y1="415" x2="279.5" y2="417" stroke="#b4b4b4"/>
<line x1="279.5" y1="515" x2="279.5" y2="517" stroke="#b4b4b4"/>
<line x1="284.5" y1="404" x2="284.5" y2="405.2" stroke="#cfcfcf"/>
<line x1="284.5" y1="415.8" x2="284.5" y2="417" stroke="#cfcfcf"/>
<line x1="284.5" y1="515" x2="284.5" y2="516.2" stroke="#cfcfcf"/>
<line x1="289.5" y1="404" x2="289.5" y2="405.2" stroke="#cfcfcf"/>
<line x1="289.5" y1="415.8" x2="289.5" y2="417" stroke="#cfcfcf"/>
<line x1="289.5" y1="515" x2="289.5" y2="516.2" stroke="#cfcfcf"/>
<line x1="294.5" y1="404" x2="294.5" y2="405.2" stroke="#cfcfcf"/>
<line x1="294.5" y1="415.8" x2="294.5" y2="417" stroke="#cfcfcf"/>
<line x1="294.5" y1="515" x2="294.5" y2="516.2" stroke="#cfcfcf"/>
<line x1="299.5" y1="404" x2="299.5" y2="405.2" stroke="#cfcfcf"/>
<line x1="299.5" y1="415.8" x2="299.5" y2="417" stroke="#cfcfcf"/>
<line x1="299.5" y1="515" x2="299.5" y2="516.2" stroke="#cfcfcf"/>
<line x1="304.5" y1="404" x2="304.5" y2="406" stroke="#b4b4b4"/>
<line x1="304.5" y1="415" x2="304.5" y2="417" stroke="#b4b4b4"/>
<line x1="304.5" y1="515" x2="304.5" y2="517" stroke="#b4b4b4"/>
<line x1="309.5" y1="404" x2="309.5" y2="405.2" stroke="#cfcfcf"/>
<line x1="309.5" y1="415.8" x2="309.5" y2="417" stroke="#cfcfcf"/>
<line x1="309.5" y1="515" x2="309.5" y2="516.2" stroke="#cfcfcf"/>
<line x1="314.5" y1="404" x2="314.5" y2="405.2" stroke="#cfcfcf"/>
<line x1="314.5" y1="415.8" x2="314.5" y2="417" stroke="#cfcfcf"/>
<line x1="314.5" y1="515" x2="314.5" y2="516.2" stroke="#cfcfcf"/>
<line x1="319.5" y1="404" x2="319.5" y2="405.2" stroke="#cfcfcf"/>
<line x1="319.5" y1="415.8" x2="319.5" y2="417" stroke="#cfcfcf"/>
<line x1="319.5" y1="515" x2="319.5" y2="516.2" stroke="#cfcfcf"/>
<line x1="324.5" y1="404" x2="324.5" y2="405.2" stroke="#cfcfcf"/>
<line x1="324.5" y1="415.8" x2="324.5" y2="417" stroke="#cfcfcf"/>
<line x1="324.5" y1="515" x2="324.5" y2="516.2" stroke="#cfcfcf"/>
<line x1="329.5" y1="404" x2="329.5" y2="406" stroke="#b4b4b4"/>
<line x1="329.5" y1="415" x2="329.5" y2="417" stroke="#b4b4b4"/>
<line x1="329.5" y1="515" x2="329.5" y2="517" stroke="#b4b4b4"/>
<line x1="334.5" y1="404" x2="334.5" y2="405.2" stroke="#cfcfcf"/>
<line x1="334.5" y1="415.8" x2="334.5" y2="417" stroke="#cfcfcf"/>
<line x1="334.5" y1="515" x2="334.5" y2="516.2" stroke="#cfcfcf"/>
<line x1="339.5" y1="404" x2="339.5" y2="405.2" stroke="#cfcfcf"/>
<line x1="339.5" y1="415.8" x2="339.5" y2="417" stroke="#cfcfcf"/>
<line x1="339.5" y1="515" x2="339.5" y2="516.2" stroke="#cfcfcf"/>
<line x1="344.5" y1="404" x2="344.5" y2="405.2" stroke="#cfcfcf"/>
<line x1="344.5" y1="415.8" x2="344.5" y2="417" stroke="#cfcfcf"/>
<line x1="344.5" y1="515" x2="344.5" y2="516.2" stroke="#cfcfcf"/>
<line x1="349.5" y1="404" x2="349.5" y2="405.2" stroke="#cfcfcf"/>
<line x1="349.5" y1="415.8" x2="349.5" y2="417" stroke="#cfcfcf"/>
<line x1="349.5" y1="515" x2="349.5" y2="516.2" stroke="#cfcfcf"/>
<line x1="354.5" y1="404" x2="354.5" y2="406" stroke="#b4b4b4"/>
<line x1="354.5" y1="415" x2="354.5" y2="417" stroke="#b4b4b4"/>
<line x1="354.5" y1="515" x2="354.5" y2="517" stroke="#b4b4b4"/>
<line x1="359.5" y1="404" x2="359.5" y2="405.2" stroke="#cfcfcf"/>
<line x1="359.5" y1="415.8" x2="359.5" y2="417" stroke="#cfcfcf"/>
<line x1="359.5" y1="515" x2="359.5" y2="516.2" stroke="#cfcfcf"/>
<line x1="364.5" y1="404" x2="364.5" y2="405.2" stroke="#cfcfcf"/>
<line x1="364.5" y1="415.8" x2="364.5" y2="417" stroke="#cfcfcf"/>
<line x1="364.5" y1="515" x2="364.5" y2="516.2" stroke="#cfcfcf"/>
<line x1="369.5" y1="404" x2="369.5" y2="405.2" stroke="#cfcfcf"/>
<line x1="369.5" y1="415.8" x2="369.5" y2="417" stroke="#cfcfcf"/>
<line x1="369.5" y1="515" x2="369.5" y2="516.2" stroke="#cfcfcf"/>
<line x1="374.5" y1="404" x2="374.5" y2="406" stroke="#b4b4b4"/>
<line x1="374.5" y1="415" x2="374.5" y2="417" stroke="#b4b4b4"/>
<line x1="374.5" y1="515" x2="374.5" y2="517" stroke="#b4b4b4"/>
<line x1="379.5" y1="404" x2="379.5" y2="405.2" stroke="#cfcfcf"/>
<line x1="379.5" y1="415.8" x2="379.5" y2="417" stroke="#cfcfcf"/>
<line x1="379.5" y1="515" x2="379.5" y2="516.2" stroke="#cfcfcf"/>
<line x1="384.5" y1="404" x2="384.5" y2="405.2" stroke="#cfcfcf"/>
<line x1="384.5" y1="415.8" x2="384.5" y2="417" stroke="#cfcfcf"/>
<line x1="384.5" y1="515" x2="384.5" y2="516.2" stroke="#cfcfcf"/>
<line x1="389.5" y1="404" x2="389.5" y2="405.2" stroke="#cfcfcf"/>
<line x1="389.5" y1="415.8" x2="389.5" y2="417" stroke="#cfcfcf"/>
<line x1="389.5" y1="515" x2="389.5" y2="516.2" stroke="#cfcfcf"/>
<line x1="394.5" y1="404" x2="394.5" y2="405.2" stroke="#cfcfcf"/>
<line x1="394.5" y1="415.8" x2="394.5" y2="417" stroke="#cfcfcf"/>
<line x1="394.5" y1="515" x2="394.5" y2="516.2" stroke="#cfcfcf"/>
<line x1="399.5" y1="404" x2="399.5" y2="405.2" stroke="#cfcfcf"/>
<line x1="399.5" y1="415.8" x2="399.5" y2="417" stroke="#cfcfcf"/>
<line x1="399.5" y1="515" x2="399.5" y2="516.2" stroke="#cfcfcf"/>
<line x1="404.5" y1="404" x2="404.5" y2="406" stroke="#b4b4b4"/>
<line x1="404.5" y1="415" x2="404.5" y2="417" stroke="#b4b4b4"/>
<line x1="404.5" y1="515" x2="404.5" y2="517" stroke="#b4b4b4"/>
<line x1="409.5" y1="404" x2="409.5" y2="405.2" stroke="#cfcfcf"/>
<line x1="409.5" y1="415.8" x2="409.5" y2="417" stroke="#cfcfcf"/>
<line x1="409.5" y1="515" x2="409.5" y2="516.2" stroke="#cfcfcf"/>
<line x1="414.5" y1="404" x2="414.5" y2="405.2" stroke="#cfcfcf"/>
<line x1="414.5" y1="415.8" x2="414.5" y2="417" stroke="#cfcfcf"/>
<line x1="414.5" y1="515" x2="414.5" y2="516.2" stroke="#cfcfcf"/>
<line x1="419.5" y1="404" x2="419.5" y2="405.2" stroke="#cfcfcf"/>
<line x1="419.5" y1="415.8" x2="419.5" y2="417" stroke="#cfcfcf"/>
<line x1="419.5" y1="515" x2="419.5" y2="516.2" stroke="#cfcfcf"/>
<line x1="424.5" y1="404" x2="424.5" y2="405.2" stroke="#cfcfcf"/>
<line x1="424.5" y1="415.8" x2="424.5" y2="417" stroke="#cfcfcf"/>
<line x1="424.5" y1="515" x2="424.5" y2="516.2" stroke="#cfcfcf"/>
<line x1="429.5" y1="404" x2="429.5" y2="406" stroke="#b4b4b4"/>
<line x1="429.5" y1="415" x2="429.5" y2="417" stroke="#b4b4b4"/>
<line x1="429.5" y1="515" x2="429.5" y2="517" stroke="#b4b4b4"/>
<line x1="434.5" y1="404" x2="434.5" y2="405.2" stroke="#cfcfcf"/>
<line x1="434.5" y1="415.8" x2="434.5" y2="417" stroke="#cfcfcf"/>
<line x1="434.5" y1="515" x2="434.5" y2="516.2" stroke="#cfcfcf"/>
<line x1="439.5" y1="404" x2="439.5" y2="405.2" stroke="#cfcfcf"/>
<line x1="439.5" y1="415.8" x2="439.5" y2="417" stroke="#cfcfcf"/>
<line x1="439.5" y1="515" x2="439.5" y2="516.2" stroke="#cfcfcf"/>
<line x1="444.5" y1="404" x2="444.5" y2="405.2" stroke="#cfcfcf"/>
<line x1="444.5" y1="415.8" x2="444.5" y2="417" stroke="#cfcfcf"/>
<line x1="444.5" y1="515" x2="444.5" y2="516.2" stroke="#cfcfcf"/>
<line x1="449.5" y1="404" x2="449.5" y2="405.2" stroke="#cfcfcf"/>
<line x1="449.5" y1="415.8" x2="449.5" y2="417" stroke="#cfcfcf"/>
<line x1="449.5" y1="515" x2="449.5" y2="516.2" stroke="#cfcfcf"/>
<line x1="454.5" y1="404" x2="454.5" y2="406" stroke="#b4b4b4"/>
<line x1="454.5" y1="415" x2="454.5" y2="417" stroke="#b4b4b4"/>
<line x1="454.5" y1="515" x2="454.5" y2="517" stroke="#b4b4b4"/>
<line x1="459.5" y1="404" x2="459.5" y2="405.2" stroke="#cfcfcf"/>
<line x1="459.5" y1="415.8" x2="459.5" y2="417" stroke="#cfcfcf"/>
<line x1="459.5" y1="515" x2="459.5" y2="516.2" stroke="#cfcfcf"/>
<line x1="464.5" y1="404" x2="464.5" y2="405.2" stroke="#cfcfcf"/>
<line x1="464.5" y1="415.8" x2="464.5" y2="417" stroke="#cfcfcf"/>
<line x1="464.5" y1="515" x2="464.5" y2="516.2" stroke="#cfcfcf"/>
<line x1="469.5" y1="404" x2="469.5" y2="405.2" stroke="#cfcfcf"/>
<line x1="469.5" y1="415.8" x2="469.5" y2="417" stroke="#cfcfcf"/>
<line x1="469.5" y1="515" x2="469.5" y2="516.2" stroke="#cfcfcf"/>
<line x1="474.5" y1="404" x2="474.5" y2="406" stroke="#b4b4b4"/>
<line x1="474.5" y1="415" x2="474.5" y2="417" stroke="#b4b4b4"/>
<line x1="474.5" y1="515" x2="474.5" y2="517" stroke="#b4b4b4"/>
<line x1="479.5" y1="404" x2="479.5" y2="405.2" stroke="#cfcfcf"/>
<line x1="479.5" y1="415.8" x2="479.5" y2="417" stroke="#cfcfcf"/>
<line x1="479.5" y1="515" x2="479.5" y2="516.2" stroke="#cfcfcf"/>
<line x1="484.5" y1="404" x2="484.5" y2="405.2" stroke="#cfcfcf"/>
<line x1="484.5" y1="415.8" x2="484.5" y2="417" stroke="#cfcfcf"/>
<line x1="484.5" y1="515" x2="484.5" y2="516.2" stroke="#cfcfcf"/>
<line x1="489.5" y1="404" x2="489.5" y2="405.2" stroke="#cfcfcf"/>
<line x1="489.5" y1="415.8" x2="489.5" y2="417" stroke="#cfcfcf"/>
<line x1="489.5" y1="515" x2="489.5" y2="516.2" stroke="#cfcfcf"/>
<line x1="494.5" y1="404" x2="494.5" y2="405.2" stroke="#cfcfcf"/>
<line x1="494.5" y1="415.8" x2="494.5" y2="417" stroke="#cfcfcf"/>
<line x1="494.5" y1="515" x2="494.5" y2="516.2" stroke="#cfcfcf"/>
<line x1="499.5" y1="404" x2="499.5" y2="406" stroke="#b4b4b4"/>
<line x1="499.5" y1="415" x2="499.5" y2="417" stroke="#b4b4b4"/>
<line x1="499.5" y1="515" x2="499.5" y2="517" stroke="#b4b4b4"/>
<line x1="504.5" y1="404" x2="504.5" y2="405.2" stroke="#cfcfcf"/>
<line x1="504.5" y1="415.8" x2="504.5" y2="417" stroke="#cfcfcf"/>
<line x1="504.5" y1="515" x2="504.5" y2="516.2" stroke="#cfcfcf"/>
<line x1="509.5" y1="404" x2="509.5" y2="405.2" stroke="#cfcfcf"/>
<line x1="509.5" y1="415.8" x2="509.5" y2="417" stroke="#cfcfcf"/>
<line x1="509.5" y1="515" x2="509.5" y2="516.2" stroke="#cfcfcf"/>
<line x1="514.5" y1="404" x2="514.5" y2="405.2" stroke="#cfcfcf"/>
<line x1="514.5" y1="415.8" x2="514.5" y2="417" stroke="#cfcfcf"/>
<line x1="514.5" y1="515" x2="514.5" y2="516.2" stroke="#cfcfcf"/>
<line x1="519.5" y1="404" x2="519.5" y2="405.2" stroke="#cfcfcf"/>
<line x1="519.5" y1="415.8" x2="519.5" y2="417" stroke="#cfcfcf"/>
<line x1="519.5" y1="515" x2="519.5" y2="516.2" stroke="#cfcfcf"/>
<line x1="524.5" y1="404" x2="524.5" y2="406" stroke="#b4b4b4"/>
<line x1="524.5" y1="415" x2="524.5" y2="417" stroke="#b4b4b4"/>
<line x1="524.5" y1="515" x2="524.5" y2="517" stroke="#b4b4b4"/>
<line x1="529.5" y1="404" x2="529.5" y2="405.2" stroke="#cfcfcf"/>
<line x1="529.5" y1="415.8" x2="529.5" y2="417" stroke="#cfcfcf"/>
<line x1="529.5" y1="515" x2="529.5" y2="516.2" stroke="#cfcfcf"/>
<line x1="534.5" y1="404" x2="534.5" y2="405.2" stroke="#cfcfcf"/>
<line x1="534.5" y1="415.8" x2="534.5" y2="417" stroke="#cfcfcf"/>
<line x1="534.5" y1="515" x2="534.5" y2="516.2" stroke="#cfcfcf"/>
<line x1="539.5" y1="404" x2="539.5" y2="405.2" stroke="#cfcfcf"/>
<line x1="539.5" y1="415.8" x2="539.5" y2="417" stroke="#cfcfcf"/>
<line x1="539.5" y1="515" x2="539.5" y2="516.2" stroke="#cfcfcf"/>
<line x1="544.5" y1="404" x2="544.5" y2="405.2" stroke="#cfcfcf"/>
<line x1="544.5" y1="415.8" x2="544.5" y2="417" stroke="#cfcfcf"/>
<line x1="544.5" y1="515" x2="544.5" y2="516.2" stroke="#cfcfcf"/>
<line x1="549.5" y1="404" x2="549.5" y2="406" stroke="#b4b4b4"/>
<line x1="549.5" y1="415" x2="549.5" y2="417" stroke="#b4b4b4"/>
<line x1="549.5" y1="515" x2="549.5" y2="517" stroke="#b4b4b4"/>
<line x1="554.5" y1="404" x2="554.5" y2="405.2" stroke="#cfcfcf"/>
<line x1="554.5" y1="415.8" x2="554.5" y2="417" stroke="#cfcfcf"/>
<line x1="554.5" y1="515" x2="554.5" y2="516.2" stroke="#cfcfcf"/>
<line x1="559.5" y1="404" x2="559.5" y2="405.2" stroke="#cfcfcf"/>
<line x1="559.5" y1="415.8" x2="559.5" y2="417" stroke="#cfcfcf"/>
<line x1="559.5" y1="515" x2="559.5" y2="516.2" stroke="#cfcfcf"/>
<line x1="564.5" y1="404" x2="564.5" y2="405.2" stroke="#cfcfcf"/>
<line x1="564.5" y1="415.8" x2="564.5" y2="417" stroke="#cfcfcf"/>
<line x1="564.5" y1="515" x2="564.5" y2="516.2" stroke="#cfcfcf"/>
<line x1="569.5" y1="404" x2="569.5" y2="405.2" stroke="#cfcfcf"/>
<line x1="569.5" y1="415.8" x2="569.5" y2="417" stroke="#cfcfcf"/>
<line x1="569.5" y1="515" x2="569.5" y2="516.2" stroke="#cfcfcf"/>
<line x1="574.5" y1="404" x2="574.5" y2="405.2" stroke="#cfcfcf"/>
<line x1="574.5" y1="415.8" x2="574.5" y2="417" stroke="#cfcfcf"/>
<line x1="574.5" y1="515" x2="574.5" y2="516.2" stroke="#cfcfcf"/>
<line x1="579.5" y1="404" x2="579.5" y2="406" stroke="#b4b4b4"/>
<line x1="579.5" y1="415" x2="579.5" y2="417" stroke="#b4b4b4"/>
<line x1="579.5" y1="515" x2="579.5" y2="517" stroke="#b4b4b4"/>
<line x1="584.5" y1="404" x2="584.5" y2="405.2" stroke="#cfcfcf"/>
<line x1="584.5" y1="415.8" x2="584.5" y2="417" stroke="#cfcfcf"/>
<line x1="584.5" y1="515" x2="584.5" y2="516.2" stroke="#cfcfcf"/>
<line x1="589.5" y1="404" x2="589.5" y2="405.2" stroke="#cfcfcf"/>
<line x1="589.5" y1="415.8" x2="589.5" y2="417" stroke="#cfcfcf"/>
<line x1="589.5" y1="515" x2="589.5" y2="516.2" stroke="#cfcfcf"/>
<line x1="594.5" y1="404" x2="594.5" y2="405.2" stroke="#cfcfcf"/>
<line x1="594.5" y1="415.8" x2="594.5" y2="417" stroke="#cfcfcf"/>
<line x1="594.5" y1="515" x2="594.5" y2="516.2" stroke="#cfcfcf"/>
<line x1="599.5" y1="404" x2="599.5" y2="405.2" stroke="#cfcfcf"/>
<line x1="599.5" y1="415.8" x2="599.5" y2="417" stroke="#cfcfcf"/>
<line x1="599.5" y1="515" x2="599.5" y2="516.2" stroke="#cfcfcf"/>
<line x1="604.5" y1="404" x2="604.5" y2="405.2" stroke="#cfcfcf"/>
<line x1="604.5" y1="415.8" x2="604.5" y2="417" stroke="#cfcfcf"/>
<line x1="604.5" y1="515" x2="604.5" y2="516.2" stroke="#cfcfcf"/>
<line x1="609.5" y1="404" x2="609.5" y2="405.2" stroke="#cfcfcf"/>
<line x1="609.5" y1="415.8" x2="609.5" y2="417" stroke="#cfcfcf"/>
<line x1="609.5" y1="515" x2="609.5" y2="516.2" stroke="#cfcfcf"/>
<line x1="614.5" y1="404" x2="614.5" y2="406" stroke="#b4b4b4"/>
<line x1="614.5" y1="415" x2="614.5" y2="417" stroke="#b4b4b4"/>
<line x1="614.5" y1="515" x2="614.5" y2="517" stroke="#b4b4b4"/>
<line x1="619.5" y1="404" x2="619.5" y2="405.2" stroke="#cfcfcf"/>
<line x1="619.5" y1="415.8" x2="619.5" y2="417" stroke="#cfcfcf"/>
<line x1="619.5" y1="515" x2="619.5" y2="516.2" stroke="#cfcfcf"/>
<line x1="624.5" y1="404" x2="624.5" y2="405.2" stroke="#cfcfcf"/>
<line x1="624.5" y1="415.8" x2="624.5" y2="417" stroke="#cfcfcf"/>
<line x1="624.5" y1="515" x2="624.5" y2="516.2" stroke="#cfcfcf"/>
<line x1="629.5" y1="404" x2="629.5" y2="405.2" stroke="#cfcfcf"/>
<line x1="629.5" y1="415.8" x2="629.5" y2="417" stroke="#cfcfcf"/>
<line x1="629.5" y1="515" x2="629.5" y2="516.2" stroke="#cfcfcf"/>
<line x1="634.5" y1="404" x2="634.5" y2="405.2" stroke="#cfcfcf"/>
<line x1="634.5" y1="415.8" x2="634.5" y2="417" stroke="#cfcfcf"/>
<line x1="634.5" y1="515" x2="634.5" y2="516.2" stroke="#cfcfcf"/>
<line x1="639.5" y1="404" x2="639.5" y2="406" stroke="#b4b4b4"/>
<line x1="639.5" y1="415" x2="639.5" y2="417" stroke="#b4b4b4"/>
<line x1="639.5" y1="515" x2="639.5" y2="517" stroke="#b4b4b4"/>
<line x1="644.5" y1="404" x2="644.5" y2="405.2" stroke="#cfcfcf"/>
<line x1="644.5" y1="415.8" x2="644.5" y2="417" stroke="#cfcfcf"/>
<line x1="644.5" y1="515" x2="644.5" y2="516.2" stroke="#cfcfcf"/>
<line x1="649.5" y1="404" x2="649.5" y2="405.2" stroke="#cfcfcf"/>
<line x1="649.5" y1="415.8" x2="649.5" y2="417" stroke="#cfcfcf"/>
<line x1="649.5" y1="515" x2="649.5" y2="516.2" stroke="#cfcfcf"/>
<line x1="657" y1="397.5" x2="658.6" y2="397.5" stroke="#c6c6c6"/>
<line x1="657" y1="392.5" x2="658.6" y2="392.5" stroke="#c6c6c6"/>
<line x1="657" y1="386.5" x2="658.6" y2="386.5" stroke="#c6c6c6"/>
<line x1="657" y1="381.5" x2="660" y2="381.5" stroke="#c6c6c6"/>
<line x1="657" y1="375.5" x2="658.6" y2="375.5" stroke="#c6c6c6"/>
<line x1="657" y1="370.5" x2="658.6" y2="370.5" stroke="#c6c6c6"/>
<line x1="657" y1="364.5" x2="658.6" y2="364.5" stroke="#c6c6c6"/>
<line x1="657" y1="359.5" x2="658.6" y2="359.5" stroke="#c6c6c6"/>
<line x1="657" y1="354.5" x2="660" y2="354.5" stroke="#c6c6c6"/>
<line x1="657" y1="348.5" x2="658.6" y2="348.5" stroke="#c6c6c6"/>
<line x1="657" y1="343.5" x2="658.6" y2="343.5" stroke="#c6c6c6"/>
<line x1="657" y1="337.5" x2="658.6" y2="337.5" stroke="#c6c6c6"/>
<line x1="657" y1="332.5" x2="658.6" y2="332.5" stroke="#c6c6c6"/>
<line x1="657" y1="327.5" x2="660" y2="327.5" stroke="#c6c6c6"/>
<line x1="657" y1="321.5" x2="658.6" y2="321.5" stroke="#c6c6c6"/>
<line x1="657" y1="316.5" x2="658.6" y2="316.5" stroke="#c6c6c6"/>
<line x1="657" y1="311.5" x2="658.6" y2="311.5" stroke="#c6c6c6"/>
<line x1="657" y1="305.5" x2="658.6" y2="305.5" stroke="#c6c6c6"/>
<line x1="657" y1="300.5" x2="660" y2="300.5" stroke="#c6c6c6"/>
<line x1="657" y1="295.5" x2="658.6" y2="295.5" stroke="#c6c6c6"/>
<line x1="657" y1="290.5" x2="658.6" y2="290.5" stroke="#c6c6c6"/>
<line x1="657" y1="285.5" x2="658.6" y2="285.5" stroke="#c6c6c6"/>
<line x1="657" y1="279.5" x2="658.6" y2="279.5" stroke="#c6c6c6"/>
<line x1="657" y1="274.5" x2="660" y2="274.5" stroke="#c6c6c6"/>
<line x1="657" y1="269.5" x2="658.6" y2="269.5" stroke="#c6c6c6"/>
<line x1="657" y1="264.5" x2="658.6" y2="264.5" stroke="#c6c6c6"/>
<line x1="657" y1="259.5" x2="658.6" y2="259.5" stroke="#c6c6c6"/>
<line x1="657" y1="254.5" x2="658.6" y2="254.5" stroke="#c6c6c6"/>
<line x1="657" y1="249.5" x2="660" y2="249.5" stroke="#c6c6c6"/>
<line x1="657" y1="244.5" x2="658.6" y2="244.5" stroke="#c6c6c6"/>
<line x1="657" y1="239.5" x2="658.6" y2="239.5" stroke="#c6c6c6"/>
<line x1="657" y1="234.5" x2="658.6" y2="234.5" stroke="#c6c6c6"/>
<line x1="657" y1="229.5" x2="658.6" y2="229.5" stroke="#c6c6c6"/>
<line x1="657" y1="224.5" x2="660" y2="224.5" stroke="#c6c6c6"/>
<line x1="657" y1="219.5" x2="658.6" y2="219.5" stroke="#c6c6c6"/>
<line x1="657" y1="214.5" x2="658.6" y2="214.5" stroke="#c6c6c6"/>
<line x1="657" y1="209.5" x2="658.6" y2="209.5" stroke="#c6c6c6"/>
<line x1="657" y1="204.5" x2="658.6" y2="204.5" stroke="#c6c6c6"/>
<line x1="657" y1="199.5" x2="660" y2="199.5" stroke="#c6c6c6"/>
<line x1="657" y1="194.5" x2="658.6" y2="194.5" stroke="#c6c6c6"/>
<line x1="657" y1="189.5" x2="658.6" y2="189.5" stroke="#c6c6c6"/>
<line x1="657" y1="184.5" x2="658.6" y2="184.5" stroke="#c6c6c6"/>
<line x1="657" y1="179.5" x2="658.6" y2="179.5" stroke="#c6c6c6"/>
<line x1="657" y1="174.5" x2="660" y2="174.5" stroke="#c6c6c6"/>
<line x1="657" y1="170.5" x2="658.6" y2="170.5" stroke="#c6c6c6"/>
<line x1="657" y1="165.5" x2="658.6" y2="165.5" stroke="#c6c6c6"/>
<line x1="657" y1="160.5" x2="658.6" y2="160.5" stroke="#c6c6c6"/>
<line x1="657" y1="155.5" x2="658.6" y2="155.5" stroke="#c6c6c6"/>
<line x1="657" y1="150.5" x2="660" y2="150.5" stroke="#c6c6c6"/>
<line x1="657" y1="146.5" x2="658.6" y2="146.5" stroke="#c6c6c6"/>
<line x1="657" y1="141.5" x2="658.6" y2="141.5" stroke="#c6c6c6"/>
<line x1="657" y1="136.5" x2="658.6" y2="136.5" stroke="#c6c6c6"/>
<line x1="657" y1="131.5" x2="658.6" y2="131.5" stroke="#c6c6c6"/>
<line x1="657" y1="127.5" x2="660" y2="127.5" stroke="#c6c6c6"/>
<line x1="657" y1="118.5" x2="658.6" y2="118.5" stroke="#c6c6c6"/>
<line x1="657" y1="110.5" x2="660" y2="110.5" stroke="#c6c6c6"/>
<line x1="657" y1="102.5" x2="658.6" y2="102.5" stroke="#c6c6c6"/>
<line x1="657" y1="94.5" x2="660" y2="94.5" stroke="#c6c6c6"/>
<line x1="657" y1="85.5" x2="658.6" y2="85.5" stroke="#c6c6c6"/>
<line x1="657" y1="77.5" x2="660" y2="77.5" stroke="#c6c6c6"/>
<line x1="657" y1="69.5" x2="658.6" y2="69.5" stroke="#c6c6c6"/>
<line x1="657" y1="60.5" x2="660" y2="60.5" stroke="#c6c6c6"/>
<line x1="657" y1="52.5" x2="658.6" y2="52.5" stroke="#c6c6c6"/>
<line x1="657" y1="44.5" x2="660" y2="44.5" stroke="#c6c6c6"/>
<line x1="657" y1="35.5" x2="658.6" y2="35.5" stroke="#c6c6c6"/>
<line x1="657" y1="507.5" x2="658.6" y2="507.5" stroke="#c6c6c6"/>
<line x1="657" y1="501.5" x2="660" y2="501.5" stroke="#c6c6c6"/>
<line x1="657" y1="495.5" x2="658.6" y2="495.5" stroke="#c6c6c6"/>
<line x1="657" y1="488.5" x2="660" y2="488.5" stroke="#c6c6c6"/>
<line x1="657" y1="482.5" x2="658.6" y2="482.5" stroke="#c6c6c6"/>
<line x1="657" y1="475.5" x2="660" y2="475.5" stroke="#c6c6c6"/>
<line x1="657" y1="469.5" x2="658.6" y2="469.5" stroke="#c6c6c6"/>
<line x1="657" y1="463.5" x2="660" y2="463.5" stroke="#c6c6c6"/>
<line x1="657" y1="456.5" x2="658.6" y2="456.5" stroke="#c6c6c6"/>
<line x1="657" y1="450.5" x2="660" y2="450.5" stroke="#c6c6c6"/>
<line x1="657" y1="443.5" x2="658.6" y2="443.5" stroke="#c6c6c6"/>
<line x1="657" y1="437.5" x2="660" y2="437.5" stroke="#c6c6c6"/>
<line x1="657" y1="430.5" x2="658.6" y2="430.5" stroke="#c6c6c6"/>
<line x1="657" y1="424.5" x2="660" y2="424.5" stroke="#c6c6c6"/>
<line x1="30" y1="382.5" x2="32" y2="382.5" stroke="#999"/>
<text x="29.5" y="385.9" font-size="10.2" text-anchor="end" stroke="#000" stroke-width="0.15">1B</text>
<line x1="30" y1="362.5" x2="32" y2="362.5" stroke="#999"/>
<text x="29.5" y="365.9" font-size="10.2" text-anchor="end" stroke="#000" stroke-width="0.15">2B</text>
<line x1="30" y1="341.5" x2="32" y2="341.5" stroke="#999"/>
<text x="29.5" y="344.9" font-size="10.2" text-anchor="end" stroke="#000" stroke-width="0.15">3B</text>
<line x1="30" y1="320.5" x2="32" y2="320.5" stroke="#999"/>
<text x="29.5" y="323.9" font-size="10.2" text-anchor="end" stroke="#000" stroke-width="0.15">4B</text>
<text x="660.2" y="177" font-size="9.9" textLength="22.08" lengthAdjust="spacingAndGlyphs" stroke="#000" stroke-width="0.15">3250</text>
<text x="660.2" y="202" font-size="9.9" textLength="22.08" lengthAdjust="spacingAndGlyphs" stroke="#000" stroke-width="0.15">3200</text>
<text x="660.2" y="227" font-size="9.9" textLength="22.08" lengthAdjust="spacingAndGlyphs" stroke="#000" stroke-width="0.15">3150</text>
<text x="660.2" y="252" font-size="9.9" textLength="22.08" lengthAdjust="spacingAndGlyphs" stroke="#000" stroke-width="0.15">3100</text>
<text x="660.2" y="277" font-size="9.9" textLength="22.08" lengthAdjust="spacingAndGlyphs" stroke="#000" stroke-width="0.15">3050</text>
<text x="660.2" y="330" font-size="9.9" textLength="22.08" lengthAdjust="spacingAndGlyphs" stroke="#000" stroke-width="0.15">2950</text>
<text x="660.2" y="357" font-size="9.9" textLength="22.08" lengthAdjust="spacingAndGlyphs" stroke="#000" stroke-width="0.15">2900</text>
<text x="660.2" y="384" font-size="9.9" textLength="22.08" lengthAdjust="spacingAndGlyphs" stroke="#000" stroke-width="0.15">2850</text>
<text x="660.2" y="47" font-size="9.9" textLength="10.64" lengthAdjust="spacingAndGlyphs" stroke="#000" stroke-width="0.15">90</text>
<text x="660.2" y="80" font-size="9.9" textLength="10.64" lengthAdjust="spacingAndGlyphs" stroke="#000" stroke-width="0.15">50</text>
<text x="660.2" y="97" font-size="9.9" textLength="10.64" lengthAdjust="spacingAndGlyphs" stroke="#000" stroke-width="0.15">30</text>
<text x="660.2" y="113" font-size="9.9" textLength="10.64" lengthAdjust="spacingAndGlyphs" stroke="#000" stroke-width="0.15">10</text>
<text x="663.26" y="440" font-size="9.9" textLength="10.64" lengthAdjust="spacingAndGlyphs" stroke="#000" stroke-width="0.15">30</text>
<text x="663.26" y="453" font-size="9.9" textLength="10.64" lengthAdjust="spacingAndGlyphs" stroke="#000" stroke-width="0.15">20</text>
<text x="663.26" y="466" font-size="9.9" textLength="10.64" lengthAdjust="spacingAndGlyphs" stroke="#000" stroke-width="0.15">10</text>
<text x="659.86" y="491" font-size="9.9" textLength="14.04" lengthAdjust="spacingAndGlyphs" stroke="#000" stroke-width="0.15">-10</text>
<text x="659.86" y="504" font-size="9.9" textLength="14.04" lengthAdjust="spacingAndGlyphs" stroke="#000" stroke-width="0.15">-20</text>
<polygon points="654.3,299.5 658.8,294.5 699.5,294.5 699.5,304.5 658.8,304.5" fill="#fff" stroke="#0f6b0f" stroke-width="1.05" stroke-linejoin="miter"/>
<text x="659.4" y="303.1" font-size="10.4" stroke="#000" stroke-width="0.15" >3000.77</text>
<polygon points="654.3,360.5 658.8,355.5 720,355.5 720,365.5 658.8,365.5" fill="#fff" stroke="#222" stroke-width="1.05" stroke-linejoin="miter"/>
<text x="659.4" y="364.1" font-size="10.4" stroke="#000" stroke-width="0.15" >2028258560</text>
<polygon points="654.3,202.5 658.8,197.5 699.5,197.5 699.5,207.5 658.8,207.5" fill="#fff" stroke="#d8345a" stroke-width="1.05" stroke-linejoin="miter"/>
<text x="659.4" y="206.1" font-size="10.4" stroke="#000" stroke-width="0.15" >3191.59</text>
<polygon points="654.3,149.5 658.8,144.5 699.5,144.5 699.5,154.5 658.8,154.5" fill="#fff" stroke="#23239a" stroke-width="1.05" stroke-linejoin="miter"/>
<text x="659.4" y="153.1" font-size="10.4" stroke="#000" stroke-width="0.15" >3301.51</text>
<polygon points="654.3,138 658.8,132.5 699.5,132.5 699.5,143.5 658.8,143.5" fill="#fff" stroke="#000" stroke-width="1.3" stroke-linejoin="miter"/>
<text x="659.4" y="141.6" font-size="10.4" font-weight="bold" textLength="38.4" lengthAdjust="spacingAndGlyphs" stroke="#000" stroke-width="0.15" >3325.54</text>
<polygon points="654.3,56.5 658.8,51.5 687.5,51.5 687.5,61.5 658.8,61.5" fill="#fff" stroke="#222" stroke-width="1.05" stroke-linejoin="miter"/>
<text x="659.4" y="60.1" font-size="10.4" stroke="#000" stroke-width="0.15" >73.69</text>
<polygon points="654.3,426.5 658.8,421.5 693.5,421.5 693.5,431.5 658.8,431.5" fill="#fff" stroke="#ee2222" stroke-width="1.05" stroke-linejoin="miter"/>
<text x="659.4" y="430.1" font-size="10.4" stroke="#000" stroke-width="0.15" >37.747</text>
<polygon points="654.3,424.5 658.8,419.5 693.5,419.5 693.5,429.5 658.8,429.5" fill="#fff" stroke="#000" stroke-width="1.05" stroke-linejoin="miter"/>
<text x="659.4" y="428.1" font-size="10.4" stroke="#000" stroke-width="0.15" >39.756</text>
<polygon points="654.3,472.5 658.8,467.5 687.5,467.5 687.5,477.5 658.8,477.5" fill="#fff" stroke="#2f6fa8" stroke-width="1.05" stroke-linejoin="miter"/>
<text x="659.4" y="476.1" font-size="10.4" stroke="#000" stroke-width="0.15" >2.009</text>
<text x="27.5" y="413.9" font-size="9.9" textLength="10.9" lengthAdjust="spacingAndGlyphs" stroke="#000" stroke-width="0.2" >29</text>
<text x="40" y="413.9" font-size="10.6" font-weight="bold" textLength="21.5" lengthAdjust="spacingAndGlyphs" >Aug</text>
<text x="78.2" y="413.9" font-size="9.9" textLength="10.9" lengthAdjust="spacingAndGlyphs" stroke="#000" stroke-width="0.2" >12</text>
<text x="103.2" y="413.9" font-size="9.9" textLength="10.9" lengthAdjust="spacingAndGlyphs" stroke="#000" stroke-width="0.2" >19</text>
<text x="128.2" y="413.9" font-size="9.9" textLength="10.9" lengthAdjust="spacingAndGlyphs" stroke="#000" stroke-width="0.2" >26</text>
<text x="159" y="413.9" font-size="10.6" font-weight="bold" text-anchor="middle" >Sep</text>
<text x="176" y="413.9" font-size="9.9" textLength="5.3" lengthAdjust="spacingAndGlyphs" stroke="#000" stroke-width="0.2" >9</text>
<text x="198.2" y="413.9" font-size="9.9" textLength="10.9" lengthAdjust="spacingAndGlyphs" stroke="#000" stroke-width="0.2" >16</text>
<text x="223.2" y="413.9" font-size="9.9" textLength="10.9" lengthAdjust="spacingAndGlyphs" stroke="#000" stroke-width="0.2" >23</text>
<text x="259" y="413.9" font-size="10.6" font-weight="bold" text-anchor="middle" >Oct</text>
<text x="276" y="413.9" font-size="9.9" textLength="5.3" lengthAdjust="spacingAndGlyphs" stroke="#000" stroke-width="0.2" >7</text>
<text x="298.2" y="413.9" font-size="9.9" textLength="10.9" lengthAdjust="spacingAndGlyphs" stroke="#000" stroke-width="0.2" >14</text>
<text x="323.2" y="413.9" font-size="9.9" textLength="10.9" lengthAdjust="spacingAndGlyphs" stroke="#000" stroke-width="0.2" >21</text>
<text x="348.2" y="413.9" font-size="9.9" textLength="10.9" lengthAdjust="spacingAndGlyphs" stroke="#000" stroke-width="0.2" >28</text>
<text x="374" y="413.9" font-size="10.6" font-weight="bold" text-anchor="middle" >Nov</text>
<text x="398.2" y="413.9" font-size="9.9" textLength="10.9" lengthAdjust="spacingAndGlyphs" stroke="#000" stroke-width="0.2" >11</text>
<text x="423.2" y="413.9" font-size="9.9" textLength="10.9" lengthAdjust="spacingAndGlyphs" stroke="#000" stroke-width="0.2" >18</text>
<text x="448.2" y="413.9" font-size="9.9" textLength="10.9" lengthAdjust="spacingAndGlyphs" stroke="#000" stroke-width="0.2" >25</text>
<text x="474" y="413.9" font-size="10.6" font-weight="bold" text-anchor="middle" >Dec</text>
<text x="496" y="413.9" font-size="9.9" textLength="5.3" lengthAdjust="spacingAndGlyphs" stroke="#000" stroke-width="0.2" >9</text>
<text x="518.2" y="413.9" font-size="9.9" textLength="10.9" lengthAdjust="spacingAndGlyphs" stroke="#000" stroke-width="0.2" >16</text>
<text x="543.2" y="413.9" font-size="9.9" textLength="10.9" lengthAdjust="spacingAndGlyphs" stroke="#000" stroke-width="0.2" >23</text>
<text x="579" y="413.9" font-size="10.6" font-weight="bold" text-anchor="middle" >2020</text>
<text x="608.2" y="413.9" font-size="9.9" textLength="10.9" lengthAdjust="spacingAndGlyphs" stroke="#000" stroke-width="0.2" >13</text>
<text x="633.2" y="413.9" font-size="9.9" textLength="10.9" lengthAdjust="spacingAndGlyphs" stroke="#000" stroke-width="0.2" >21</text>
<text x="27.5" y="524.8" font-size="9.9" textLength="10.9" lengthAdjust="spacingAndGlyphs" stroke="#000" stroke-width="0.2" >29</text>
<text x="40" y="524.8" font-size="10.6" font-weight="bold" textLength="21.5" lengthAdjust="spacingAndGlyphs" >Aug</text>
<text x="78.2" y="524.8" font-size="9.9" textLength="10.9" lengthAdjust="spacingAndGlyphs" stroke="#000" stroke-width="0.2" >12</text>
<text x="103.2" y="524.8" font-size="9.9" textLength="10.9" lengthAdjust="spacingAndGlyphs" stroke="#000" stroke-width="0.2" >19</text>
<text x="128.2" y="524.8" font-size="9.9" textLength="10.9" lengthAdjust="spacingAndGlyphs" stroke="#000" stroke-width="0.2" >26</text>
<text x="159" y="524.8" font-size="10.6" font-weight="bold" text-anchor="middle" >Sep</text>
<text x="176" y="524.8" font-size="9.9" textLength="5.3" lengthAdjust="spacingAndGlyphs" stroke="#000" stroke-width="0.2" >9</text>
<text x="198.2" y="524.8" font-size="9.9" textLength="10.9" lengthAdjust="spacingAndGlyphs" stroke="#000" stroke-width="0.2" >16</text>
<text x="223.2" y="524.8" font-size="9.9" textLength="10.9" lengthAdjust="spacingAndGlyphs" stroke="#000" stroke-width="0.2" >23</text>
<text x="259" y="524.8" font-size="10.6" font-weight="bold" text-anchor="middle" >Oct</text>
<text x="276" y="524.8" font-size="9.9" textLength="5.3" lengthAdjust="spacingAndGlyphs" stroke="#000" stroke-width="0.2" >7</text>
<text x="298.2" y="524.8" font-size="9.9" textLength="10.9" lengthAdjust="spacingAndGlyphs" stroke="#000" stroke-width="0.2" >14</text>
<text x="323.2" y="524.8" font-size="9.9" textLength="10.9" lengthAdjust="spacingAndGlyphs" stroke="#000" stroke-width="0.2" >21</text>
<text x="348.2" y="524.8" font-size="9.9" textLength="10.9" lengthAdjust="spacingAndGlyphs" stroke="#000" stroke-width="0.2" >28</text>
<text x="374" y="524.8" font-size="10.6" font-weight="bold" text-anchor="middle" >Nov</text>
<text x="398.2" y="524.8" font-size="9.9" textLength="10.9" lengthAdjust="spacingAndGlyphs" stroke="#000" stroke-width="0.2" >11</text>
<text x="423.2" y="524.8" font-size="9.9" textLength="10.9" lengthAdjust="spacingAndGlyphs" stroke="#000" stroke-width="0.2" >18</text>
<text x="448.2" y="524.8" font-size="9.9" textLength="10.9" lengthAdjust="spacingAndGlyphs" stroke="#000" stroke-width="0.2" >25</text>
<text x="474" y="524.8" font-size="10.6" font-weight="bold" text-anchor="middle" >Dec</text>
<text x="496" y="524.8" font-size="9.9" textLength="5.3" lengthAdjust="spacingAndGlyphs" stroke="#000" stroke-width="0.2" >9</text>
<text x="518.2" y="524.8" font-size="9.9" textLength="10.9" lengthAdjust="spacingAndGlyphs" stroke="#000" stroke-width="0.2" >16</text>
<text x="543.2" y="524.8" font-size="9.9" textLength="10.9" lengthAdjust="spacingAndGlyphs" stroke="#000" stroke-width="0.2" >23</text>
<text x="579" y="524.8" font-size="10.6" font-weight="bold" text-anchor="middle" >2020</text>
<text x="608.2" y="524.8" font-size="9.9" textLength="10.9" lengthAdjust="spacingAndGlyphs" stroke="#000" stroke-width="0.2" >13</text>
<text x="633.2" y="524.8" font-size="9.9" textLength="10.9" lengthAdjust="spacingAndGlyphs" stroke="#000" stroke-width="0.2" >21</text>
<rect x="49" y="527.5" width="1" height="1" fill="#dcdcdc"/>
<rect x="159" y="527.5" width="1" height="1" fill="#dcdcdc"/>
<rect x="259" y="527.5" width="1" height="1" fill="#dcdcdc"/>
<rect x="374" y="527.5" width="1" height="1" fill="#dcdcdc"/>
<rect x="474" y="527.5" width="1" height="1" fill="#dcdcdc"/>
<rect x="579" y="527.5" width="1" height="1" fill="#dcdcdc"/>
<rect x="34" y="527.5" width="1" height="1" fill="#dcdcdc"/>
<rect x="84" y="527.5" width="1" height="1" fill="#dcdcdc"/>
<rect x="109" y="527.5" width="1" height="1" fill="#dcdcdc"/>
<rect x="134" y="527.5" width="1" height="1" fill="#dcdcdc"/>
<rect x="179" y="527.5" width="1" height="1" fill="#dcdcdc"/>
<rect x="204" y="527.5" width="1" height="1" fill="#dcdcdc"/>
<rect x="229" y="527.5" width="1" height="1" fill="#dcdcdc"/>
<rect x="279" y="527.5" width="1" height="1" fill="#dcdcdc"/>
<rect x="304" y="527.5" width="1" height="1" fill="#dcdcdc"/>
<rect x="329" y="527.5" width="1" height="1" fill="#dcdcdc"/>
<rect x="354" y="527.5" width="1" height="1" fill="#dcdcdc"/>
<rect x="404" y="527.5" width="1" height="1" fill="#dcdcdc"/>
<rect x="429" y="527.5" width="1" height="1" fill="#dcdcdc"/>
<rect x="454" y="527.5" width="1" height="1" fill="#dcdcdc"/>
<rect x="499" y="527.5" width="1" height="1" fill="#dcdcdc"/>
<rect x="524" y="527.5" width="1" height="1" fill="#dcdcdc"/>
<rect x="549" y="527.5" width="1" height="1" fill="#dcdcdc"/>
<rect x="614" y="527.5" width="1" height="1" fill="#dcdcdc"/>
<rect x="639" y="527.5" width="1" height="1" fill="#dcdcdc"/>
<text x="31.6" y="14.3" font-size="13.2" font-weight="bold" textLength="34" lengthAdjust="spacingAndGlyphs" >$SPX</text>
<text x="69.2" y="13.8" font-size="11.2" textLength="124.6" lengthAdjust="spacingAndGlyphs" >S&amp;P 500 Large Cap Index</text>
<text x="197.9" y="13.5" font-size="9.5" textLength="23.4" lengthAdjust="spacingAndGlyphs" >INDX</text>
<text x="566.2" y="13.2" font-size="11.1" textLength="90.8" lengthAdjust="spacingAndGlyphs" style="fill:#3a3a3a" >© StockCharts.com</text>
<text x="31.6" y="25.8" font-size="10.5" textLength="59.2" lengthAdjust="spacingAndGlyphs" >23-Jan-2020</text>
<text x="173.29999999999998" y="25.8" font-size="10.5" font-weight="bold" textLength="29.2" lengthAdjust="spacingAndGlyphs" >Open</text>
<text x="205.29999999999998" y="25.8" font-size="10.5" textLength="38.5" lengthAdjust="spacingAndGlyphs" >3315.77</text>
<text x="250.1" y="25.8" font-size="10.5" font-weight="bold" textLength="24.2" lengthAdjust="spacingAndGlyphs" >High</text>
<text x="277.1" y="25.8" font-size="10.5" textLength="39.1" lengthAdjust="spacingAndGlyphs" >3326.88</text>
<text x="322.6" y="25.8" font-size="10.5" font-weight="bold" textLength="23.4" lengthAdjust="spacingAndGlyphs" >Low</text>
<text x="349.6" y="25.8" font-size="10.5" textLength="38.4" lengthAdjust="spacingAndGlyphs" >3301.87</text>
<text x="394.6" y="25.8" font-size="10.5" font-weight="bold" textLength="31.7" lengthAdjust="spacingAndGlyphs" >Close</text>
<text x="429.6" y="25.8" font-size="10.5" textLength="39.1" lengthAdjust="spacingAndGlyphs" >3325.54</text>
<text x="474.5" y="25.8" font-size="10.5" font-weight="bold" textLength="42.699999999999996" lengthAdjust="spacingAndGlyphs" >Volume</text>
<text x="520.6" y="25.8" font-size="10.5" textLength="14.4" lengthAdjust="spacingAndGlyphs" >2.0</text>
<text x="548.3000000000001" y="25.8" font-size="10.5" font-weight="bold" textLength="22.599999999999998" lengthAdjust="spacingAndGlyphs" >Chg</text>
<text x="573.6" y="25.8" font-size="10.5" textLength="73.30000000000001" lengthAdjust="spacingAndGlyphs" >+3.79 (+0.11%)</text>
<text x="535" y="25.8" font-size="9" textLength="7.6" lengthAdjust="spacingAndGlyphs" >B</text>
<polygon points="648.6,25.2 652.4,20.2 656.2,25.2" fill="#1a7a1a"/>
<path d="M35.4 39 L35.4 35.6 L38.7 30.6 L40.7 34 L43.6 31 L43.6 39 Z" fill="#7fae7f"/>
<path d="M35.4 39 L35.4 35.6 L38.7 30.6 L40.7 34 L43.6 31 L43.6 39" fill="none" stroke="#1c1c1c" stroke-width="1.1" stroke-linejoin="miter"/>
<text transform="translate(48,38.8) scale(1.17,1)" x="0" y="0" font-size="9.5" textLength="67.01" lengthAdjust="spacing" stroke="#000" stroke-width="0.1">RSI(14) 73.69</text>
<g stroke="#000" stroke-width="1" fill="#fff"><line x1="36.5" y1="128.3" x2="36.5" y2="135"/><rect x="35.5" y="129.3" width="2" height="4.2"/><line x1="39.5" y1="129.6" x2="39.5" y2="135.6"/><rect x="38.5" y="131.2" width="2.4" height="3.6" fill="#000"/><line x1="42.5" y1="128.3" x2="42.5" y2="135.3"/><rect x="41.6" y="129.3" width="2" height="5"/></g>
<text transform="translate(47.6,135.4) scale(1.17,1)" x="0" y="0" font-size="9.5" textLength="100.34" lengthAdjust="spacing" stroke="#000" stroke-width="0.1">$SPX (Daily) 3325.54</text>
<line x1="35" y1="143" x2="43.7" y2="143" stroke="#00008b" stroke-width="1.9"/>
<text x="45.6" y="146.6" font-size="9.4" textLength="68.4" lengthAdjust="spacingAndGlyphs" style="fill:#10108f" stroke="#10108f" stroke-width="0.3" >MA(10) 3301.51</text>
<line x1="35" y1="154" x2="43.7" y2="154" stroke="#dc143c" stroke-width="1.9"/>
<text x="45.6" y="157.4" font-size="9.4" textLength="68.4" lengthAdjust="spacingAndGlyphs" style="fill:#d5143a" stroke="#d5143a" stroke-width="0.3" >MA(50) 3191.59</text>
<line x1="35" y1="165" x2="43.7" y2="165" stroke="#006400" stroke-width="1.9"/>
<text x="45.6" y="168.4" font-size="9.4" textLength="73.4" lengthAdjust="spacingAndGlyphs" style="fill:#0b620b" stroke="#0b620b" stroke-width="0.3" >MA(200) 3000.77</text>
<g fill="#555"><rect x="35" y="174.5" width="2" height="4"/><rect x="37.3" y="171.5" width="2" height="7"/><rect x="39.6" y="173.5" width="2" height="5"/><rect x="41.9" y="172.5" width="2" height="6"/></g>
<text x="45.6" y="178.4" font-size="9.4" textLength="94.8" lengthAdjust="spacingAndGlyphs" style="fill:#4a4a4a" stroke="#4a4a4a" stroke-width="0.3" >Volume 2,028,258,560</text>
<line x1="36" y1="424" x2="43.5" y2="424" stroke="#000" stroke-width="1.8"/>
<text transform="translate(47.6,427.8) scale(1.17,1)" x="0" y="0" font-size="9.5" textLength="108.03" lengthAdjust="spacing" stroke="#000" stroke-width="0.1">MACD(12,26,9) 39.756</text>
<text transform="translate(174.8,427.8) scale(1.17,1)" x="0" y="0" font-size="9.5" textLength="39.49" lengthAdjust="spacing" style="fill:#f01818" stroke="#f01818" stroke-width="0.2">, 37.747</text>
<text transform="translate(222.2,427.8) scale(1.17,1)" x="0" y="0" font-size="9.5" textLength="33.16" lengthAdjust="spacing" style="fill:#3a94cf" stroke="#3a94cf" stroke-width="0.2">, 2.009</text>
</svg></body></html>
